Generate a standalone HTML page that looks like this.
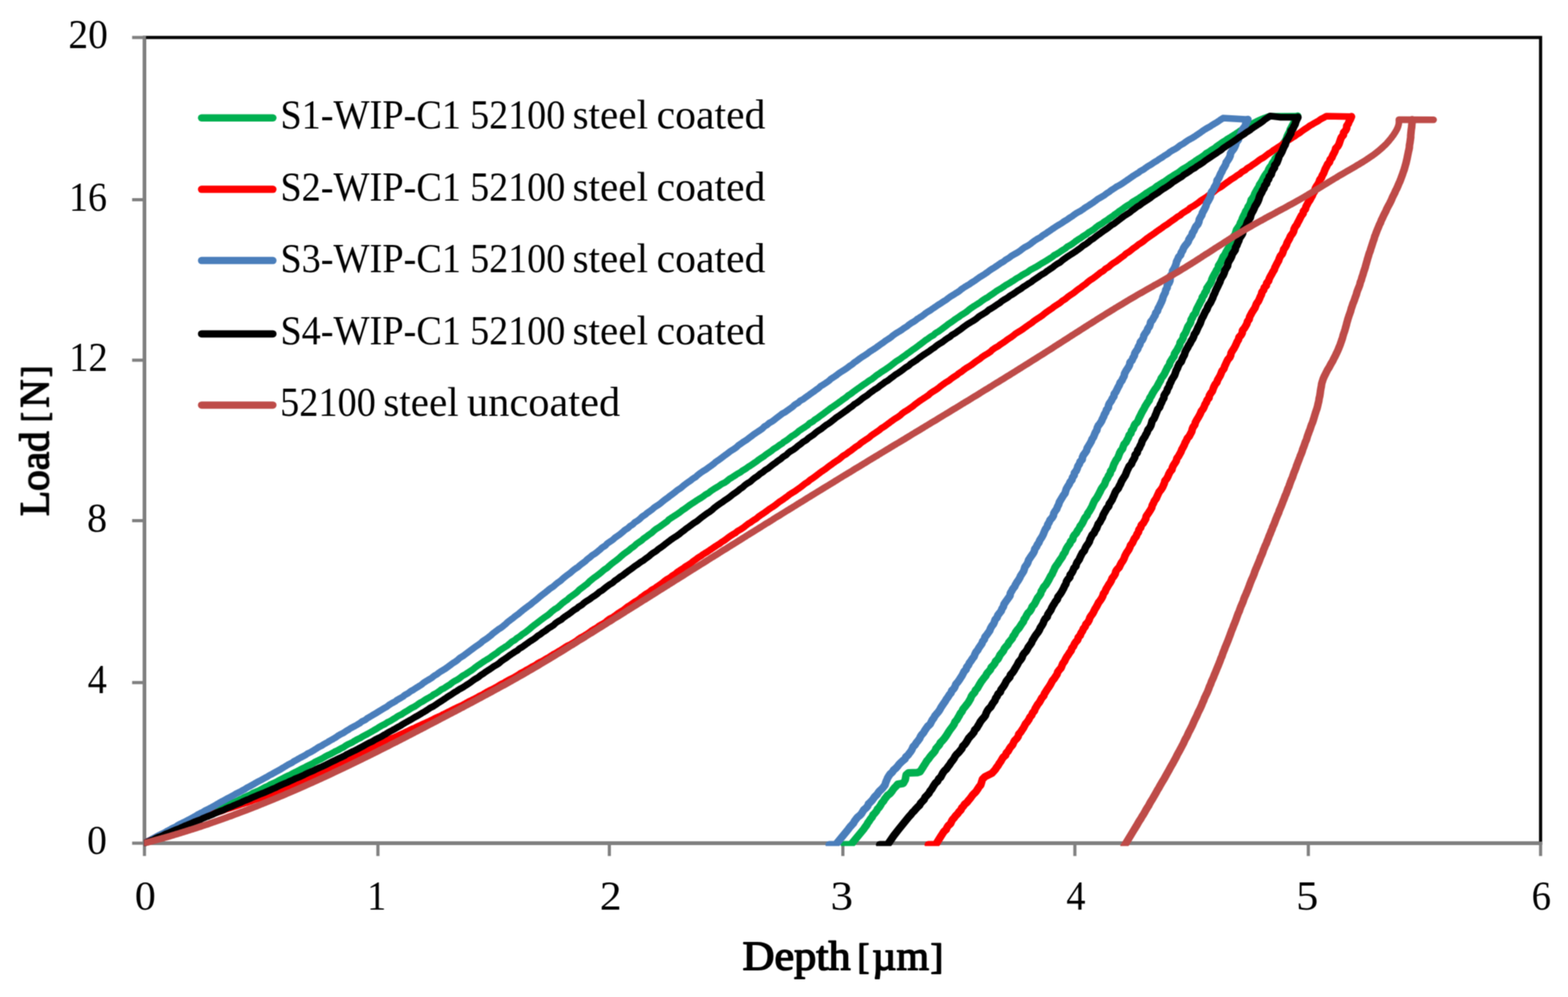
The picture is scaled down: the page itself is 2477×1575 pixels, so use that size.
<!DOCTYPE html>
<html lang="en"><head><meta charset="utf-8"><title>Load-depth curves</title>
<style>html,body{margin:0;padding:0;background:#fff}body{width:2477px;height:1575px;overflow:hidden}svg{display:block}text{font-family:"Liberation Serif","DejaVu Serif",serif;font-size:65px;fill:#000}.ti{stroke:#000;stroke-width:2.2px;stroke-linejoin:round}</style></head><body>
<svg width="2477" height="1575" viewBox="0 0 2477 1575">
<defs><clipPath id="pc"><rect x="227.5" y="40" width="2230" height="1296.5"/></clipPath>
<filter id="sf" x="0" y="0" width="2477" height="1575" filterUnits="userSpaceOnUse" color-interpolation-filters="sRGB"><feConvolveMatrix order="3" kernelMatrix="1 2 1 2 4 2 1 2 1" divisor="16" edgeMode="duplicate" preserveAlpha="false"/></filter>
</defs>
<rect x="0" y="0" width="2477" height="1575" fill="#ffffff"/>
<g filter="url(#sf)">
<rect x="228.2" y="59.2" width="2205.5" height="1272.8" fill="none" stroke="#000" stroke-width="5"/>
<g stroke="#808080" stroke-width="5" fill="none">
<line x1="228.2" y1="56.7" x2="228.2" y2="1352.3"/>
<line x1="208.7" y1="1332.0" x2="2436.2" y2="1332.0"/>
<line x1="597.0" y1="1332.0" x2="597.0" y2="1352.3"/>
<line x1="962.6" y1="1332.0" x2="962.6" y2="1352.3"/>
<line x1="1331.5" y1="1332.0" x2="1331.5" y2="1352.3"/>
<line x1="1698.0" y1="1332.0" x2="1698.0" y2="1352.3"/>
<line x1="2066.8" y1="1332.0" x2="2066.8" y2="1352.3"/>
<line x1="2433.7" y1="1332.0" x2="2433.7" y2="1352.3"/>
<line x1="208.7" y1="1078.3" x2="228.2" y2="1078.3"/>
<line x1="208.7" y1="822.5" x2="228.2" y2="822.5"/>
<line x1="208.7" y1="569.0" x2="228.2" y2="569.0"/>
<line x1="208.7" y1="315.5" x2="228.2" y2="315.5"/>
<line x1="208.7" y1="59.2" x2="228.2" y2="59.2"/>
</g>
<text x="213.0" y="1437" textLength="33.1" lengthAdjust="spacingAndGlyphs">0</text>
<text x="580.0" y="1437" textLength="30.1" lengthAdjust="spacingAndGlyphs">1</text>
<text x="947.5" y="1437" textLength="34.5" lengthAdjust="spacingAndGlyphs">2</text>
<text x="1312.1" y="1437" textLength="35.6" lengthAdjust="spacingAndGlyphs">3</text>
<text x="1684.4" y="1437" textLength="30.3" lengthAdjust="spacingAndGlyphs">4</text>
<text x="2047.6" y="1437" textLength="35.1" lengthAdjust="spacingAndGlyphs">5</text>
<text x="2419.4" y="1437" textLength="30.7" lengthAdjust="spacingAndGlyphs">6</text>
<text x="137.6" y="1349.0" textLength="31.4" lengthAdjust="spacingAndGlyphs">0</text>
<text x="138.4" y="1095.3" textLength="30.3" lengthAdjust="spacingAndGlyphs">4</text>
<text x="137.5" y="839.5" textLength="31.7" lengthAdjust="spacingAndGlyphs">8</text>
<text x="109.3" y="586.0" textLength="61.0" lengthAdjust="spacingAndGlyphs">12</text>
<text x="108.9" y="332.5" textLength="60.0" lengthAdjust="spacingAndGlyphs">16</text>
<text x="108.1" y="76.2" textLength="62.4" lengthAdjust="spacingAndGlyphs">20</text>
<text class="ti"><tspan x="1173.0" y="1532.2" textLength="170.8" lengthAdjust="spacingAndGlyphs">Depth</tspan> <tspan x="1354.4" y="1529.6" textLength="18.9" lengthAdjust="spacingAndGlyphs" font-size="56">[</tspan><tspan x="1378.1" y="1532.2" textLength="89.4" lengthAdjust="spacingAndGlyphs">µm</tspan><tspan x="1470.0" y="1529.6" textLength="20.1" lengthAdjust="spacingAndGlyphs" font-size="56">]</tspan></text>
<text class="ti" transform="translate(76.5,815.2) rotate(-90)"><tspan x="0.1" y="0.0" textLength="133.8" lengthAdjust="spacingAndGlyphs">Load</tspan> <tspan x="148.7" y="-2.6" textLength="15.2" lengthAdjust="spacingAndGlyphs" font-size="56">[</tspan><tspan x="171.3" y="0.0" textLength="44.4" lengthAdjust="spacingAndGlyphs">N</tspan><tspan x="219.6" y="-2.6" textLength="17.9" lengthAdjust="spacingAndGlyphs" font-size="56">]</tspan></text>
<g clip-path="url(#pc)" fill="none" stroke-width="10.5" stroke-linejoin="round" stroke-linecap="round">
<polyline stroke="#00B050" points="228.2,1332.0 229.1,1331.6 230.0,1331.2 231.0,1330.8 231.9,1330.4 232.9,1330.0 233.7,1329.6 234.5,1329.2 235.3,1328.8 236.1,1328.3 236.8,1327.9 237.7,1327.5 238.6,1327.1 239.6,1326.7 240.6,1326.3 241.6,1325.9 242.5,1325.5 243.4,1325.1 244.2,1324.7 245.1,1324.3 246.0,1323.9 246.9,1323.5 247.8,1323.1 248.7,1322.6 249.6,1322.2 250.5,1321.8 251.4,1321.4 252.4,1321.0 253.3,1320.6 254.2,1320.2 255.2,1319.8 256.1,1319.4 257.1,1319.0 258.0,1318.6 259.0,1318.2 260.0,1317.7 260.9,1317.3 261.8,1316.9 262.7,1316.5 263.7,1316.1 264.6,1315.7 265.5,1315.3 266.5,1314.9 267.4,1314.5 268.4,1314.1 269.3,1313.6 270.2,1313.2 271.1,1312.8 272.0,1312.4 272.9,1312.0 273.7,1311.6 274.7,1311.2 275.7,1310.8 276.7,1310.4 277.7,1309.9 278.7,1309.5 279.4,1309.1 280.2,1308.7 281.0,1308.3 281.8,1307.9 282.6,1307.5 283.7,1307.1 284.8,1306.6 285.9,1306.2 287.0,1305.8 288.0,1305.4 288.7,1305.0 289.4,1304.6 290.0,1304.2 290.7,1303.8 291.4,1303.3 292.5,1302.9 293.6,1302.5 294.7,1302.1 295.8,1301.7 296.9,1301.3 297.7,1300.9 298.5,1300.4 299.4,1300.0 300.2,1299.6 301.1,1299.2 302.0,1298.8 303.0,1298.4 303.9,1297.9 304.9,1297.5 305.8,1297.1 306.6,1296.7 307.4,1296.3 308.2,1295.9 309.0,1295.4 309.8,1295.0 310.7,1294.6 311.6,1294.2 312.5,1293.8 313.5,1293.4 314.4,1292.9 315.5,1292.5 316.6,1292.1 317.7,1291.7 318.7,1291.3 319.8,1290.9 320.7,1290.4 321.7,1290.0 322.7,1289.6 323.6,1289.2 324.5,1288.8 325.2,1288.3 326.0,1287.9 326.7,1287.5 327.4,1287.1 328.2,1286.7 329.2,1286.2 330.2,1285.8 331.2,1285.4 332.3,1285.0 333.3,1284.6 334.2,1284.1 335.2,1283.7 336.1,1283.3 337.1,1282.9 338.0,1282.5 339.0,1282.0 339.9,1281.6 340.8,1281.2 341.7,1280.8 342.5,1280.3 343.2,1279.9 343.9,1279.5 344.6,1279.1 345.2,1278.6 346.0,1278.2 346.9,1277.8 347.8,1277.4 348.7,1277.0 349.6,1276.5 350.5,1276.1 351.4,1275.7 352.4,1275.3 353.3,1274.8 354.2,1274.4 355.2,1274.0 356.3,1273.6 357.4,1273.1 358.5,1272.7 359.6,1272.3 360.6,1271.8 361.3,1271.4 362.0,1271.0 362.7,1270.6 363.4,1270.1 364.1,1269.7 365.1,1269.3 366.1,1268.9 367.1,1268.4 368.1,1268.0 369.1,1267.6 370.2,1267.1 371.3,1266.7 372.3,1266.3 373.4,1265.9 374.3,1265.4 375.1,1265.0 375.9,1264.6 376.7,1264.1 377.4,1263.7 378.3,1263.3 379.2,1262.9 380.2,1262.4 381.1,1262.0 382.1,1261.6 383.0,1261.1 383.8,1260.7 384.6,1260.3 385.4,1259.8 386.2,1259.4 387.0,1259.0 388.0,1258.5 389.1,1258.1 390.1,1257.7 391.1,1257.2 392.0,1256.8 393.0,1256.4 393.9,1255.9 394.9,1255.5 395.8,1255.1 396.6,1254.6 397.3,1254.2 398.0,1253.8 398.7,1253.3 399.3,1252.9 400.2,1252.5 401.3,1252.0 402.4,1251.6 403.5,1251.2 404.6,1250.7 405.7,1250.3 406.6,1249.8 407.6,1249.4 408.6,1249.0 409.5,1248.5 410.4,1248.1 411.3,1247.7 412.1,1247.2 412.9,1246.8 413.8,1246.3 414.6,1245.9 415.3,1245.5 416.1,1245.0 416.9,1244.6 417.6,1244.2 418.5,1243.7 419.6,1243.3 420.6,1242.8 421.6,1242.4 422.7,1242.0 423.6,1241.5 424.3,1241.1 425.0,1240.6 425.7,1240.2 426.4,1239.7 427.2,1239.3 428.2,1238.9 429.2,1238.4 430.2,1238.0 431.2,1237.5 432.2,1237.1 433.2,1236.7 434.3,1236.2 435.3,1235.8 436.3,1235.3 437.2,1234.9 437.9,1234.4 438.6,1234.0 439.4,1233.5 440.1,1233.1 440.9,1232.7 441.8,1232.2 442.7,1231.8 443.6,1231.3 444.5,1230.9 445.3,1230.4 446.2,1230.0 447.0,1229.5 447.9,1229.1 448.7,1228.6 449.6,1228.2 450.5,1227.7 451.3,1227.3 452.2,1226.8 453.0,1226.4 454.0,1225.9 455.1,1225.5 456.2,1225.0 457.3,1224.6 458.4,1224.1 459.2,1223.7 460.0,1223.2 460.8,1222.8 461.5,1222.3 462.3,1221.9 463.1,1221.4 464.0,1221.0 465.0,1220.5 465.9,1220.1 466.8,1219.6 467.7,1219.2 468.7,1218.7 469.6,1218.3 470.6,1217.8 471.5,1217.4 472.4,1216.9 473.1,1216.5 473.9,1216.0 474.7,1215.6 475.4,1215.1 476.4,1214.6 477.4,1214.2 478.4,1213.7 479.5,1213.3 480.5,1212.8 481.4,1212.4 482.2,1211.9 482.9,1211.4 483.7,1211.0 484.5,1210.5 485.4,1210.1 486.4,1209.6 487.4,1209.2 488.4,1208.7 489.4,1208.2 490.4,1207.8 491.3,1207.3 492.2,1206.9 493.2,1206.4 494.1,1205.9 494.9,1205.5 495.6,1205.0 496.3,1204.6 497.0,1204.1 497.7,1203.6 498.6,1203.2 499.6,1202.7 500.6,1202.3 501.6,1201.8 502.5,1201.3 503.5,1200.9 504.5,1200.4 505.4,1199.9 506.4,1199.5 507.4,1199.0 508.2,1198.5 509.0,1198.1 509.8,1197.6 510.6,1197.1 511.4,1196.7 512.2,1196.2 513.0,1195.8 513.8,1195.3 514.6,1194.8 515.4,1194.4 516.3,1193.9 517.3,1193.4 518.4,1192.9 519.4,1192.5 520.4,1192.0 521.3,1191.5 522.3,1191.1 523.2,1190.6 524.1,1190.1 525.0,1189.7 525.9,1189.2 526.7,1188.7 527.6,1188.3 528.4,1187.8 529.2,1187.3 530.2,1186.8 531.2,1186.4 532.2,1185.9 533.2,1185.4 534.2,1185.0 535.0,1184.5 535.8,1184.0 536.6,1183.5 537.4,1183.1 538.2,1182.6 539.1,1182.1 540.1,1181.6 541.0,1181.2 542.0,1180.7 543.0,1180.2 543.7,1179.7 544.3,1179.3 545.0,1178.8 545.7,1178.3 546.3,1177.8 547.2,1177.3 548.1,1176.9 548.9,1176.4 549.8,1175.9 550.7,1175.4 551.7,1175.0 552.8,1174.5 553.9,1174.0 554.9,1173.5 556.0,1173.0 556.8,1172.6 557.6,1172.1 558.3,1171.6 559.1,1171.1 559.8,1170.6 560.7,1170.1 561.5,1169.7 562.3,1169.2 563.1,1168.7 563.9,1168.2 565.0,1167.7 566.0,1167.3 567.1,1166.8 568.2,1166.3 569.3,1165.8 570.1,1165.3 570.8,1164.8 571.5,1164.3 572.2,1163.9 572.9,1163.4 573.9,1162.9 574.9,1162.4 575.8,1161.9 576.8,1161.4 577.8,1160.9 578.7,1160.4 579.6,1160.0 580.4,1159.5 581.3,1159.0 582.2,1158.5 583.1,1158.0 584.0,1157.5 584.9,1157.0 585.8,1156.5 586.7,1156.0 587.5,1155.5 588.3,1155.1 589.1,1154.6 589.9,1154.1 590.7,1153.6 591.6,1153.1 592.5,1152.6 593.4,1152.1 594.3,1151.6 595.2,1151.1 596.0,1150.6 596.8,1150.1 597.5,1149.6 598.3,1149.1 599.0,1148.6 599.9,1148.1 600.7,1147.6 601.6,1147.1 602.4,1146.6 603.3,1146.1 604.3,1145.6 605.3,1145.1 606.4,1144.6 607.4,1144.1 608.5,1143.6 609.2,1143.1 609.9,1142.6 610.7,1142.1 611.4,1141.6 612.1,1141.1 613.2,1140.6 614.2,1140.1 615.2,1139.6 616.2,1139.1 617.2,1138.6 618.0,1138.1 618.8,1137.6 619.6,1137.1 620.3,1136.6 621.1,1136.1 622.0,1135.6 622.8,1135.1 623.7,1134.6 624.5,1134.1 625.4,1133.6 626.1,1133.1 626.8,1132.6 627.5,1132.1 628.2,1131.6 629.0,1131.1 630.1,1130.5 631.2,1130.0 632.3,1129.5 633.4,1129.0 634.4,1128.5 635.2,1128.0 635.9,1127.5 636.6,1127.0 637.3,1126.5 638.1,1126.0 638.9,1125.4 639.8,1124.9 640.7,1124.4 641.6,1123.9 642.5,1123.4 643.3,1122.9 644.1,1122.4 645.0,1121.9 645.8,1121.3 646.6,1120.8 647.4,1120.3 648.2,1119.8 649.0,1119.3 649.8,1118.8 650.6,1118.2 651.7,1117.7 652.7,1117.2 653.8,1116.7 654.8,1116.2 655.8,1115.7 656.6,1115.1 657.3,1114.6 658.1,1114.1 658.9,1113.6 659.6,1113.1 660.3,1112.5 661.0,1112.0 661.7,1111.5 662.4,1111.0 663.1,1110.5 664.2,1109.9 665.2,1109.4 666.2,1108.9 667.2,1108.4 668.2,1107.8 669.0,1107.3 669.8,1106.8 670.5,1106.3 671.3,1105.8 672.1,1105.2 673.0,1104.7 673.9,1104.2 674.8,1103.6 675.7,1103.1 676.6,1102.6 677.6,1102.1 678.5,1101.5 679.5,1101.0 680.4,1100.5 681.3,1100.0 682.0,1099.4 682.7,1098.9 683.4,1098.4 684.1,1097.8 684.9,1097.3 685.9,1096.8 686.9,1096.2 687.9,1095.7 688.9,1095.2 689.9,1094.6 690.6,1094.1 691.4,1093.6 692.2,1093.0 692.9,1092.5 693.7,1092.0 694.3,1091.4 695.0,1090.9 695.7,1090.4 696.4,1089.8 697.2,1089.3 698.3,1088.8 699.4,1088.2 700.5,1087.7 701.6,1087.2 702.6,1086.6 703.3,1086.1 704.1,1085.5 704.9,1085.0 705.7,1084.5 706.5,1083.9 707.4,1083.4 708.3,1082.8 709.3,1082.3 710.2,1081.8 711.0,1081.2 711.6,1080.7 712.3,1080.1 712.9,1079.6 713.5,1079.1 714.1,1078.5 715.0,1078.0 715.8,1077.4 716.6,1076.9 717.5,1076.3 718.4,1075.8 719.4,1075.2 720.5,1074.7 721.5,1074.2 722.6,1073.6 723.6,1073.1 724.3,1072.5 725.1,1072.0 725.9,1071.4 726.7,1070.9 727.4,1070.3 728.0,1069.8 728.7,1069.2 729.4,1068.7 730.0,1068.1 730.8,1067.6 731.8,1067.0 732.9,1066.5 733.9,1065.9 734.9,1065.4 735.9,1064.8 736.7,1064.3 737.5,1063.7 738.4,1063.2 739.2,1062.6 740.1,1062.0 740.9,1061.5 741.8,1060.9 742.7,1060.4 743.6,1059.8 744.4,1059.3 745.2,1058.7 746.0,1058.2 746.7,1057.6 747.5,1057.0 748.2,1056.5 748.9,1055.9 749.6,1055.4 750.2,1054.8 750.9,1054.2 751.6,1053.7 752.4,1053.1 753.2,1052.6 754.0,1052.0 754.8,1051.4 755.6,1050.9 756.4,1050.3 757.3,1049.8 758.1,1049.2 758.9,1048.6 759.8,1048.1 760.6,1047.5 761.4,1046.9 762.2,1046.4 763.1,1045.8 763.9,1045.2 764.8,1044.7 765.7,1044.1 766.6,1043.5 767.5,1043.0 768.4,1042.4 769.4,1041.8 770.4,1041.3 771.4,1040.7 772.4,1040.1 773.2,1039.6 774.0,1039.0 774.7,1038.4 775.4,1037.9 776.2,1037.3 776.9,1036.7 777.8,1036.1 778.6,1035.6 779.4,1035.0 780.2,1034.4 781.1,1033.8 782.0,1033.3 782.9,1032.7 783.8,1032.1 784.7,1031.5 785.5,1031.0 786.1,1030.4 786.7,1029.8 787.3,1029.2 787.9,1028.7 788.7,1028.1 789.5,1027.5 790.4,1026.9 791.2,1026.4 792.1,1025.8 793.0,1025.2 793.9,1024.6 794.8,1024.0 795.7,1023.5 796.6,1022.9 797.5,1022.3 798.4,1021.7 799.3,1021.1 800.3,1020.6 801.2,1020.0 802.0,1019.4 802.7,1018.8 803.4,1018.2 804.1,1017.6 804.8,1017.0 805.4,1016.5 806.1,1015.9 806.8,1015.3 807.4,1014.7 808.1,1014.1 808.9,1013.5 810.0,1012.9 811.0,1012.4 812.0,1011.8 813.1,1011.2 813.9,1010.6 814.5,1010.0 815.2,1009.4 815.8,1008.8 816.5,1008.2 817.3,1007.6 818.3,1007.1 819.2,1006.5 820.2,1005.9 821.2,1005.3 822.0,1004.7 822.7,1004.1 823.3,1003.5 824.0,1002.9 824.7,1002.3 825.6,1001.7 826.5,1001.1 827.4,1000.5 828.4,999.9 829.3,999.3 830.1,998.7 830.9,998.1 831.7,997.5 832.4,996.9 833.2,996.3 834.0,995.7 834.7,995.1 835.5,994.5 836.2,993.9 836.9,993.3 837.7,992.7 838.3,992.1 839.0,991.5 839.7,990.9 840.4,990.3 841.1,989.7 841.9,989.1 842.7,988.5 843.4,987.9 844.2,987.3 845.0,986.7 845.8,986.1 846.7,985.5 847.5,984.9 848.3,984.3 849.1,983.7 849.8,983.1 850.6,982.5 851.4,981.9 852.2,981.2 853.0,980.6 853.8,980.0 854.6,979.4 855.4,978.8 856.2,978.2 857.0,977.6 857.8,977.0 858.7,976.4 859.5,975.8 860.3,975.1 861.2,974.5 862.1,973.9 863.1,973.3 864.0,972.7 864.9,972.1 865.7,971.5 866.5,970.8 867.2,970.2 867.9,969.6 868.7,969.0 869.4,968.4 870.0,967.8 870.6,967.1 871.3,966.5 871.9,965.9 872.7,965.3 873.5,964.7 874.3,964.1 875.1,963.4 875.9,962.8 876.8,962.2 877.9,961.6 878.9,961.0 880.0,960.4 881.0,959.7 881.7,959.1 882.4,958.5 883.1,957.9 883.8,957.2 884.4,956.6 885.1,956.0 885.8,955.4 886.5,954.8 887.2,954.1 887.8,953.5 888.6,952.9 889.4,952.3 890.2,951.7 891.0,951.0 891.8,950.4 892.7,949.8 893.6,949.2 894.5,948.5 895.5,947.9 896.4,947.3 897.1,946.7 897.7,946.0 898.3,945.4 898.9,944.8 899.6,944.2 900.4,943.5 901.3,942.9 902.2,942.3 903.1,941.7 904.0,941.0 904.9,940.4 905.7,939.8 906.6,939.2 907.5,938.5 908.4,937.9 909.2,937.3 909.9,936.7 910.7,936.0 911.4,935.4 912.2,934.8 912.8,934.2 913.4,933.5 914.0,932.9 914.6,932.3 915.2,931.6 916.0,931.0 916.9,930.4 917.7,929.8 918.6,929.1 919.4,928.5 920.3,927.9 921.1,927.3 921.9,926.6 922.7,926.0 923.5,925.4 924.4,924.7 925.2,924.1 926.0,923.5 926.9,922.9 927.7,922.2 928.3,921.6 928.9,921.0 929.5,920.4 930.1,919.7 930.7,919.1 931.4,918.5 932.1,917.8 932.9,917.2 933.6,916.6 934.4,916.0 935.2,915.3 935.9,914.7 936.7,914.1 937.5,913.4 938.3,912.8 939.2,912.2 940.1,911.6 941.0,910.9 941.9,910.3 942.8,909.7 943.6,909.0 944.4,908.4 945.2,907.8 946.0,907.2 946.9,906.5 947.6,905.9 948.4,905.3 949.2,904.7 949.9,904.0 950.7,903.4 951.4,902.8 952.1,902.1 952.8,901.5 953.5,900.9 954.2,900.3 955.2,899.6 956.2,899.0 957.1,898.4 958.1,897.8 959.1,897.1 959.7,896.5 960.4,895.9 961.1,895.3 961.7,894.6 962.4,894.0 963.1,893.4 963.9,892.8 964.6,892.1 965.3,891.5 966.0,890.9 966.9,890.2 967.7,889.6 968.5,889.0 969.3,888.4 970.2,887.7 971.0,887.1 971.9,886.5 972.7,885.9 973.5,885.3 974.4,884.6 975.1,884.0 975.9,883.4 976.6,882.8 977.4,882.1 978.2,881.5 978.8,880.9 979.5,880.3 980.2,879.6 980.8,879.0 981.5,878.4 982.2,877.8 983.0,877.2 983.7,876.5 984.4,875.9 985.2,875.3 986.0,874.7 986.9,874.1 987.8,873.4 988.6,872.8 989.5,872.2 990.4,871.6 991.2,871.0 992.1,870.3 992.9,869.7 993.8,869.1 994.4,868.5 995.1,867.9 995.8,867.2 996.4,866.6 997.2,866.0 998.1,865.4 999.0,864.8 1000.0,864.2 1000.9,863.5 1001.8,862.9 1002.4,862.3 1003.0,861.7 1003.6,861.1 1004.2,860.5 1004.8,859.9 1005.7,859.2 1006.5,858.6 1007.4,858.0 1008.2,857.4 1009.1,856.8 1010.0,856.2 1010.9,855.6 1011.9,854.9 1012.8,854.3 1013.7,853.7 1014.3,853.1 1015.0,852.5 1015.6,851.9 1016.2,851.3 1016.9,850.7 1017.8,850.1 1018.7,849.5 1019.6,848.8 1020.6,848.2 1021.4,847.6 1022.2,847.0 1023.0,846.4 1023.7,845.8 1024.5,845.2 1025.3,844.6 1026.2,844.0 1027.1,843.4 1028.0,842.8 1028.9,842.2 1029.8,841.6 1030.4,841.0 1031.0,840.4 1031.6,839.8 1032.2,839.2 1032.9,838.6 1033.6,838.0 1034.3,837.4 1035.1,836.8 1035.8,836.2 1036.6,835.6 1037.6,835.0 1038.6,834.4 1039.6,833.8 1040.6,833.2 1041.5,832.6 1042.4,832.0 1043.2,831.4 1044.0,830.8 1044.8,830.2 1045.6,829.6 1046.5,829.0 1047.3,828.4 1048.1,827.8 1049.0,827.2 1049.8,826.6 1050.6,826.0 1051.4,825.4 1052.3,824.8 1053.1,824.2 1053.8,823.7 1054.4,823.1 1054.9,822.5 1055.5,821.9 1056.0,821.3 1056.7,820.7 1057.5,820.1 1058.4,819.5 1059.3,819.0 1060.2,818.4 1061.0,817.8 1062.0,817.2 1062.9,816.6 1063.8,816.0 1064.7,815.4 1065.6,814.9 1066.5,814.3 1067.4,813.7 1068.4,813.1 1069.3,812.5 1070.1,812.0 1071.0,811.4 1071.8,810.8 1072.6,810.2 1073.4,809.7 1074.2,809.1 1074.9,808.5 1075.6,807.9 1076.3,807.4 1077.0,806.8 1077.8,806.2 1078.7,805.6 1079.6,805.1 1080.6,804.5 1081.5,803.9 1082.3,803.3 1083.1,802.8 1083.8,802.2 1084.6,801.6 1085.3,801.1 1086.1,800.5 1086.8,799.9 1087.6,799.4 1088.3,798.8 1089.1,798.2 1089.9,797.7 1090.7,797.1 1091.6,796.6 1092.5,796.0 1093.3,795.4 1094.2,794.9 1095.0,794.3 1095.9,793.8 1096.8,793.2 1097.6,792.6 1098.5,792.1 1099.3,791.5 1100.1,791.0 1100.9,790.4 1101.7,789.9 1102.6,789.3 1103.5,788.8 1104.5,788.2 1105.4,787.7 1106.4,787.1 1107.3,786.6 1108.1,786.0 1108.9,785.5 1109.8,784.9 1110.6,784.4 1111.4,783.8 1112.0,783.3 1112.7,782.7 1113.4,782.2 1114.1,781.6 1115.0,781.1 1116.0,780.5 1117.0,780.0 1118.0,779.5 1119.0,778.9 1119.8,778.4 1120.4,777.8 1121.0,777.3 1121.6,776.7 1122.2,776.2 1123.0,775.7 1123.8,775.1 1124.6,774.6 1125.4,774.0 1126.3,773.5 1127.1,773.0 1128.0,772.4 1128.8,771.9 1129.6,771.3 1130.5,770.8 1131.4,770.3 1132.3,769.7 1133.3,769.2 1134.2,768.6 1135.2,768.1 1136.0,767.6 1136.7,767.0 1137.4,766.5 1138.1,765.9 1138.8,765.4 1139.7,764.9 1140.8,764.3 1141.9,763.8 1143.0,763.2 1144.1,762.7 1145.1,762.2 1145.9,761.6 1146.7,761.1 1147.5,760.5 1148.3,760.0 1149.0,759.4 1149.6,758.9 1150.2,758.4 1150.8,757.8 1151.5,757.3 1152.2,756.7 1153.1,756.2 1154.0,755.6 1154.9,755.1 1155.8,754.6 1156.6,754.0 1157.5,753.5 1158.4,752.9 1159.3,752.4 1160.2,751.8 1161.0,751.3 1161.8,750.7 1162.6,750.2 1163.3,749.6 1164.1,749.1 1165.0,748.5 1166.1,748.0 1167.1,747.4 1168.1,746.9 1169.1,746.3 1170.0,745.8 1170.7,745.2 1171.4,744.7 1172.1,744.1 1172.8,743.6 1173.7,743.0 1174.7,742.5 1175.7,741.9 1176.7,741.3 1177.7,740.8 1178.5,740.2 1179.2,739.7 1179.9,739.1 1180.7,738.6 1181.4,738.0 1182.3,737.4 1183.2,736.9 1184.1,736.3 1185.0,735.8 1185.9,735.2 1186.8,734.6 1187.6,734.1 1188.4,733.5 1189.2,733.0 1190.0,732.4 1190.9,731.8 1191.7,731.3 1192.5,730.7 1193.4,730.1 1194.2,729.6 1195.0,729.0 1195.7,728.4 1196.4,727.9 1197.1,727.3 1197.8,726.7 1198.6,726.2 1199.4,725.6 1200.3,725.0 1201.1,724.5 1202.0,723.9 1202.8,723.3 1203.7,722.8 1204.6,722.2 1205.5,721.6 1206.4,721.1 1207.2,720.5 1207.8,719.9 1208.5,719.3 1209.2,718.8 1209.9,718.2 1210.7,717.6 1211.6,717.1 1212.4,716.5 1213.3,715.9 1214.2,715.3 1215.1,714.8 1215.9,714.2 1216.8,713.6 1217.6,713.0 1218.5,712.5 1219.2,711.9 1219.8,711.3 1220.5,710.7 1221.1,710.2 1221.8,709.6 1222.7,709.0 1223.7,708.4 1224.6,707.9 1225.6,707.3 1226.6,706.7 1227.4,706.1 1228.2,705.6 1229.0,705.0 1229.7,704.4 1230.5,703.8 1231.4,703.2 1232.3,702.7 1233.2,702.1 1234.2,701.5 1235.1,700.9 1235.8,700.4 1236.5,699.8 1237.1,699.2 1237.8,698.6 1238.5,698.0 1239.4,697.5 1240.4,696.9 1241.4,696.3 1242.4,695.7 1243.3,695.1 1244.1,694.5 1244.8,694.0 1245.5,693.4 1246.3,692.8 1247.0,692.2 1247.7,691.6 1248.4,691.1 1249.1,690.5 1249.8,689.9 1250.5,689.3 1251.5,688.7 1252.4,688.1 1253.4,687.6 1254.4,687.0 1255.4,686.4 1256.2,685.8 1256.9,685.2 1257.7,684.6 1258.5,684.0 1259.2,683.5 1259.9,682.9 1260.5,682.3 1261.2,681.7 1261.8,681.1 1262.5,680.5 1263.4,680.0 1264.3,679.4 1265.2,678.8 1266.1,678.2 1267.0,677.6 1267.9,677.0 1268.8,676.4 1269.7,675.9 1270.6,675.3 1271.5,674.7 1272.3,674.1 1273.2,673.5 1274.1,672.9 1275.0,672.3 1275.8,671.7 1276.4,671.2 1277.0,670.6 1277.5,670.0 1278.1,669.4 1278.6,668.8 1279.7,668.2 1280.8,667.6 1281.9,667.1 1282.9,666.5 1284.0,665.9 1284.7,665.3 1285.3,664.7 1286.0,664.1 1286.6,663.5 1287.2,662.9 1288.2,662.4 1289.2,661.8 1290.2,661.2 1291.1,660.6 1292.1,660.0 1292.8,659.4 1293.5,658.8 1294.2,658.2 1294.9,657.7 1295.7,657.1 1296.5,656.5 1297.4,655.9 1298.3,655.3 1299.1,654.7 1300.0,654.1 1300.8,653.5 1301.5,653.0 1302.2,652.4 1303.0,651.8 1303.7,651.2 1304.5,650.6 1305.4,650.0 1306.2,649.4 1307.0,648.8 1307.8,648.3 1308.5,647.7 1309.3,647.1 1310.0,646.5 1310.7,645.9 1311.4,645.3 1312.3,644.7 1313.2,644.1 1314.1,643.6 1315.0,643.0 1315.9,642.4 1316.7,641.8 1317.6,641.2 1318.4,640.6 1319.3,640.0 1320.1,639.5 1321.0,638.9 1321.8,638.3 1322.7,637.7 1323.5,637.1 1324.3,636.5 1325.1,635.9 1325.9,635.3 1326.7,634.8 1327.5,634.2 1328.3,633.6 1329.1,633.0 1329.9,632.4 1330.6,631.8 1331.4,631.3 1332.2,630.7 1333.1,630.1 1334.0,629.5 1334.8,628.9 1335.7,628.3 1336.5,627.7 1337.2,627.2 1337.8,626.6 1338.5,626.0 1339.2,625.4 1339.8,624.8 1340.8,624.2 1341.7,623.7 1342.6,623.1 1343.5,622.5 1344.4,621.9 1345.1,621.3 1345.9,620.8 1346.6,620.2 1347.4,619.6 1348.1,619.0 1348.9,618.4 1349.7,617.9 1350.5,617.3 1351.3,616.7 1352.1,616.1 1352.9,615.5 1353.8,614.9 1354.6,614.4 1355.4,613.8 1356.2,613.2 1357.1,612.6 1357.9,612.1 1358.7,611.5 1359.5,610.9 1360.3,610.3 1361.1,609.7 1361.9,609.2 1362.7,608.6 1363.5,608.0 1364.3,607.4 1365.2,606.8 1366.1,606.3 1367.0,605.7 1367.9,605.1 1368.8,604.5 1369.5,604.0 1370.3,603.4 1371.1,602.8 1371.8,602.2 1372.6,601.7 1373.6,601.1 1374.6,600.5 1375.5,599.9 1376.5,599.3 1377.4,598.8 1378.2,598.2 1378.9,597.6 1379.6,597.0 1380.4,596.5 1381.1,595.9 1381.8,595.3 1382.4,594.7 1383.1,594.2 1383.8,593.6 1384.5,593.0 1385.4,592.4 1386.3,591.9 1387.2,591.3 1388.1,590.7 1388.9,590.1 1389.7,589.6 1390.5,589.0 1391.3,588.4 1392.1,587.8 1392.9,587.2 1393.9,586.7 1394.8,586.1 1395.8,585.5 1396.7,584.9 1397.6,584.4 1398.5,583.8 1399.3,583.2 1400.2,582.6 1401.0,582.0 1401.8,581.5 1402.6,580.9 1403.5,580.3 1404.3,579.7 1405.1,579.2 1405.9,578.6 1406.7,578.0 1407.4,577.4 1408.2,576.8 1408.9,576.3 1409.6,575.7 1410.3,575.1 1411.1,574.5 1411.8,573.9 1412.5,573.4 1413.2,572.8 1414.0,572.2 1414.8,571.6 1415.6,571.0 1416.4,570.5 1417.3,569.9 1418.3,569.3 1419.3,568.7 1420.3,568.1 1421.2,567.6 1422.1,567.0 1422.9,566.4 1423.6,565.8 1424.3,565.2 1425.0,564.7 1425.8,564.1 1426.7,563.5 1427.6,562.9 1428.5,562.3 1429.4,561.7 1430.2,561.2 1430.9,560.6 1431.7,560.0 1432.4,559.4 1433.2,558.8 1434.0,558.2 1434.8,557.7 1435.7,557.1 1436.6,556.5 1437.4,555.9 1438.2,555.3 1439.0,554.8 1439.7,554.2 1440.5,553.6 1441.2,553.0 1442.0,552.4 1442.9,551.8 1443.8,551.3 1444.7,550.7 1445.6,550.1 1446.4,549.5 1447.2,548.9 1447.9,548.3 1448.7,547.7 1449.4,547.2 1450.2,546.6 1451.0,546.0 1451.8,545.4 1452.5,544.8 1453.3,544.2 1454.1,543.7 1454.9,543.1 1455.7,542.5 1456.4,541.9 1457.2,541.3 1458.0,540.7 1458.7,540.2 1459.5,539.6 1460.2,539.0 1460.9,538.4 1461.7,537.8 1462.6,537.2 1463.5,536.7 1464.4,536.1 1465.3,535.5 1466.2,534.9 1466.9,534.3 1467.6,533.7 1468.3,533.2 1469.1,532.6 1470.0,532.0 1471.0,531.4 1472.1,530.8 1473.2,530.3 1474.2,529.7 1475.1,529.1 1475.6,528.5 1476.2,527.9 1476.8,527.3 1477.4,526.8 1478.2,526.2 1479.2,525.6 1480.2,525.0 1481.2,524.4 1482.2,523.9 1483.1,523.3 1483.9,522.7 1484.7,522.1 1485.6,521.5 1486.4,520.9 1487.2,520.4 1488.0,519.8 1488.7,519.2 1489.5,518.6 1490.2,518.0 1491.0,517.5 1491.8,516.9 1492.6,516.3 1493.4,515.7 1494.1,515.1 1494.9,514.6 1495.6,514.0 1496.3,513.4 1497.0,512.8 1497.7,512.3 1498.5,511.7 1499.4,511.1 1500.3,510.5 1501.2,509.9 1502.1,509.4 1502.9,508.8 1503.7,508.2 1504.5,507.6 1505.3,507.1 1506.1,506.5 1506.9,505.9 1507.6,505.3 1508.4,504.8 1509.2,504.2 1510.0,503.6 1510.9,503.0 1511.8,502.5 1512.7,501.9 1513.6,501.3 1514.6,500.7 1515.4,500.2 1516.1,499.6 1516.8,499.0 1517.6,498.4 1518.3,497.9 1519.2,497.3 1520.2,496.7 1521.2,496.2 1522.2,495.6 1523.2,495.0 1524.1,494.4 1524.9,493.9 1525.7,493.3 1526.5,492.7 1527.3,492.2 1528.0,491.6 1528.7,491.0 1529.3,490.5 1530.0,489.9 1530.6,489.3 1531.3,488.7 1532.1,488.2 1532.9,487.6 1533.7,487.0 1534.5,486.5 1535.3,485.9 1536.2,485.4 1537.0,484.8 1537.8,484.2 1538.7,483.7 1539.6,483.1 1540.5,482.5 1541.4,482.0 1542.3,481.4 1543.2,480.8 1544.1,480.3 1545.0,479.7 1545.9,479.2 1546.8,478.6 1547.7,478.0 1548.4,477.5 1549.1,476.9 1549.8,476.3 1550.5,475.8 1551.2,475.2 1552.0,474.7 1552.8,474.1 1553.7,473.6 1554.5,473.0 1555.3,472.4 1556.3,471.9 1557.3,471.3 1558.3,470.8 1559.3,470.2 1560.3,469.7 1561.1,469.1 1561.8,468.6 1562.5,468.0 1563.2,467.4 1563.9,466.9 1564.8,466.3 1565.7,465.8 1566.6,465.2 1567.5,464.7 1568.3,464.1 1569.1,463.6 1569.8,463.0 1570.6,462.5 1571.3,461.9 1572.0,461.4 1572.8,460.9 1573.6,460.3 1574.4,459.8 1575.2,459.2 1576.0,458.7 1576.9,458.1 1577.9,457.6 1578.9,457.0 1579.8,456.5 1580.8,456.0 1581.6,455.4 1582.4,454.9 1583.3,454.3 1584.1,453.8 1584.9,453.3 1585.7,452.7 1586.5,452.2 1587.2,451.6 1588.0,451.1 1588.7,450.6 1589.7,450.0 1590.6,449.5 1591.6,449.0 1592.6,448.4 1593.6,447.9 1594.4,447.4 1595.2,446.8 1596.1,446.3 1596.9,445.8 1597.7,445.2 1598.6,444.7 1599.5,444.2 1600.3,443.6 1601.2,443.1 1602.1,442.6 1602.8,442.1 1603.5,441.5 1604.3,441.0 1605.0,440.5 1605.7,440.0 1606.7,439.4 1607.7,438.9 1608.7,438.4 1609.7,437.9 1610.7,437.3 1611.5,436.8 1612.2,436.3 1612.9,435.8 1613.6,435.3 1614.3,434.7 1615.2,434.2 1616.2,433.7 1617.1,433.2 1618.0,432.7 1619.0,432.1 1619.9,431.6 1620.8,431.1 1621.8,430.6 1622.7,430.1 1623.6,429.6 1624.3,429.0 1624.9,428.5 1625.6,428.0 1626.2,427.5 1626.9,427.0 1627.8,426.4 1628.7,425.9 1629.7,425.4 1630.6,424.9 1631.5,424.4 1632.5,423.9 1633.6,423.3 1634.6,422.8 1635.6,422.3 1636.6,421.8 1637.4,421.3 1638.3,420.7 1639.1,420.2 1640.0,419.7 1640.8,419.2 1641.6,418.7 1642.4,418.1 1643.1,417.6 1643.9,417.1 1644.7,416.6 1645.6,416.1 1646.5,415.5 1647.5,415.0 1648.4,414.5 1649.4,414.0 1650.3,413.4 1651.1,412.9 1652.0,412.4 1652.9,411.9 1653.8,411.3 1654.6,410.8 1655.4,410.3 1656.2,409.7 1657.0,409.2 1657.8,408.7 1658.7,408.2 1659.5,407.6 1660.4,407.1 1661.2,406.6 1662.1,406.0 1662.7,405.5 1663.4,405.0 1664.0,404.4 1664.6,403.9 1665.3,403.3 1666.3,402.8 1667.3,402.3 1668.3,401.7 1669.3,401.2 1670.2,400.6 1671.1,400.1 1672.0,399.6 1672.8,399.0 1673.7,398.5 1674.5,397.9 1675.3,397.4 1676.1,396.8 1676.9,396.3 1677.8,395.7 1678.6,395.2 1679.5,394.7 1680.4,394.1 1681.2,393.6 1682.1,393.0 1683.0,392.5 1683.6,391.9 1684.2,391.4 1684.9,390.8 1685.5,390.2 1686.1,389.7 1687.2,389.1 1688.2,388.6 1689.3,388.0 1690.3,387.5 1691.3,386.9 1692.1,386.4 1692.9,385.8 1693.8,385.3 1694.6,384.7 1695.4,384.1 1696.1,383.6 1696.8,383.0 1697.5,382.5 1698.2,381.9 1698.9,381.3 1699.7,380.8 1700.6,380.2 1701.4,379.7 1702.2,379.1 1703.0,378.5 1704.0,378.0 1704.9,377.4 1705.8,376.9 1706.8,376.3 1707.7,375.7 1708.4,375.2 1709.2,374.6 1709.9,374.0 1710.7,373.5 1711.4,372.9 1712.4,372.3 1713.3,371.8 1714.3,371.2 1715.2,370.6 1716.2,370.1 1716.9,369.5 1717.6,368.9 1718.3,368.4 1719.1,367.8 1719.8,367.2 1720.7,366.7 1721.7,366.1 1722.6,365.5 1723.5,365.0 1724.4,364.4 1725.3,363.8 1726.2,363.3 1727.1,362.7 1727.9,362.1 1728.8,361.6 1729.4,361.0 1730.0,360.4 1730.6,359.9 1731.3,359.3 1731.9,358.7 1732.7,358.1 1733.5,357.6 1734.3,357.0 1735.0,356.4 1735.9,355.9 1736.9,355.3 1738.0,354.7 1739.0,354.2 1740.0,353.6 1741.0,353.0 1741.7,352.4 1742.4,351.9 1743.1,351.3 1743.9,350.7 1744.6,350.2 1745.6,349.6 1746.5,349.0 1747.5,348.5 1748.4,347.9 1749.3,347.3 1750.0,346.7 1750.7,346.2 1751.5,345.6 1752.2,345.0 1753.0,344.5 1753.9,343.9 1754.8,343.3 1755.8,342.8 1756.7,342.2 1757.5,341.6 1758.2,341.0 1758.9,340.5 1759.6,339.9 1760.3,339.3 1761.1,338.8 1761.9,338.2 1762.7,337.6 1763.5,337.1 1764.3,336.5 1765.1,335.9 1765.8,335.4 1766.5,334.8 1767.2,334.2 1768.0,333.7 1768.7,333.1 1769.6,332.5 1770.5,332.0 1771.4,331.4 1772.3,330.8 1773.1,330.3 1773.8,329.7 1774.6,329.1 1775.3,328.6 1776.0,328.0 1776.8,327.4 1777.7,326.9 1778.5,326.3 1779.4,325.7 1780.3,325.2 1781.2,324.6 1782.2,324.0 1783.2,323.5 1784.2,322.9 1785.1,322.4 1786.0,321.8 1786.6,321.2 1787.2,320.7 1787.9,320.1 1788.5,319.5 1789.3,319.0 1790.2,318.4 1791.1,317.9 1792.0,317.3 1792.9,316.8 1793.9,316.2 1794.9,315.6 1795.8,315.1 1796.8,314.5 1797.8,314.0 1798.7,313.4 1799.4,312.9 1800.2,312.3 1801.0,311.8 1801.8,311.2 1802.6,310.6 1803.4,310.1 1804.3,309.5 1805.1,309.0 1805.9,308.4 1806.7,307.9 1807.4,307.3 1808.1,306.8 1808.8,306.2 1809.5,305.7 1810.3,305.1 1811.2,304.6 1812.1,304.0 1813.0,303.5 1813.9,303.0 1814.8,302.4 1815.7,301.9 1816.6,301.3 1817.4,300.8 1818.3,300.2 1819.2,299.7 1820.2,299.1 1821.1,298.6 1822.1,298.0 1823.0,297.5 1823.8,296.9 1824.5,296.4 1825.1,295.9 1825.7,295.3 1826.3,294.8 1827.0,294.2 1827.9,293.7 1828.7,293.1 1829.6,292.6 1830.4,292.1 1831.3,291.5 1832.1,291.0 1833.0,290.4 1833.8,289.9 1834.7,289.3 1835.6,288.8 1836.6,288.2 1837.5,287.7 1838.5,287.2 1839.5,286.6 1840.3,286.1 1841.1,285.5 1841.9,285.0 1842.6,284.4 1843.4,283.9 1844.1,283.3 1844.8,282.8 1845.6,282.3 1846.3,281.7 1847.0,281.2 1847.9,280.6 1848.8,280.1 1849.8,279.5 1850.8,279.0 1851.7,278.4 1852.6,277.9 1853.3,277.3 1854.1,276.8 1854.8,276.2 1855.6,275.7 1856.5,275.1 1857.5,274.6 1858.5,274.0 1859.5,273.5 1860.5,272.9 1861.3,272.4 1862.0,271.8 1862.7,271.3 1863.4,270.7 1864.1,270.2 1864.8,269.6 1865.6,269.1 1866.3,268.5 1867.1,268.0 1867.8,267.4 1868.7,266.9 1869.7,266.3 1870.7,265.8 1871.7,265.2 1872.7,264.6 1873.6,264.1 1874.5,263.5 1875.4,263.0 1876.3,262.4 1877.2,261.9 1878.0,261.3 1878.7,260.7 1879.4,260.2 1880.1,259.6 1880.8,259.1 1881.7,258.5 1882.6,258.0 1883.5,257.4 1884.5,256.8 1885.4,256.3 1886.2,255.7 1887.0,255.2 1887.7,254.6 1888.5,254.0 1889.3,253.5 1890.1,252.9 1890.9,252.4 1891.8,251.8 1892.6,251.2 1893.4,250.7 1894.3,250.1 1895.3,249.6 1896.2,249.0 1897.2,248.4 1898.1,247.9 1899.0,247.3 1899.7,246.7 1900.5,246.2 1901.3,245.6 1902.1,245.1 1902.7,244.5 1903.4,243.9 1904.0,243.4 1904.6,242.8 1905.2,242.2 1906.1,241.7 1907.1,241.1 1908.1,240.6 1909.1,240.0 1910.2,239.4 1911.0,238.9 1911.7,238.3 1912.5,237.8 1913.3,237.2 1914.0,236.6 1914.9,236.1 1915.9,235.5 1916.9,234.9 1917.8,234.4 1918.8,233.8 1919.5,233.3 1920.1,232.7 1920.7,232.1 1921.4,231.6 1922.0,231.0 1922.8,230.4 1923.6,229.9 1924.5,229.3 1925.3,228.8 1926.1,228.2 1926.9,227.6 1927.7,227.1 1928.5,226.5 1929.3,226.0 1930.0,225.4 1930.9,224.8 1931.9,224.3 1932.8,223.7 1933.7,223.2 1934.6,222.6 1935.4,222.1 1936.2,221.5 1936.9,220.9 1937.6,220.4 1938.4,219.8 1939.3,219.3 1940.3,218.7 1941.3,218.2 1942.3,217.6 1943.2,217.0 1944.1,216.5 1945.0,215.9 1945.9,215.4 1946.8,214.8 1947.7,214.3 1948.5,213.7 1949.3,213.2 1950.1,212.7 1950.9,212.1 1951.7,211.6 1952.6,211.0 1953.4,210.5 1954.3,209.9 1955.2,209.4 1956.0,208.9 1956.8,208.3 1957.5,207.8 1958.2,207.3 1959.0,206.8 1959.7,206.2 1960.7,205.7 1961.6,205.2 1962.6,204.7 1963.6,204.1 1964.6,203.6 1965.4,203.1 1966.2,202.6 1966.9,202.1 1967.6,201.6 1968.4,201.1 1969.3,200.6 1970.3,200.1 1971.3,199.6 1972.3,199.1 1973.3,198.6 1974.1,198.1 1974.9,197.7 1975.7,197.2 1976.6,196.7 1977.4,196.2 1978.1,195.7 1978.9,195.3 1979.6,194.8 1980.4,194.4 1981.2,193.9 1982.0,193.4 1982.9,193.0 1983.8,192.6 1984.6,192.1 1985.5,191.7 1986.4,191.2 1987.3,190.8 1988.2,190.4 1989.1,190.0 1990.0,189.5 1990.9,189.1 1991.8,188.7 1992.7,188.3 1993.7,187.9 1994.7,187.5 1995.8,187.1 1996.8,186.7 1997.8,186.4 1998.8,186.0 1999.8,185.6 2000.7,185.2 2001.6,184.9 2002.6,184.5 2003.5,184.2 2004.5,183.8 2050.0,183.6"/>
<polyline stroke="#00B050" stroke-width="12" points="2050.0,183.6 2049.5,184.5 2048.9,185.3 2048.3,186.2 2047.6,187.0 2047.2,187.9 2046.7,188.8 2046.4,189.6 2046.0,190.5 2045.5,191.4 2045.0,192.3 2044.5,193.1 2043.9,194.0 2043.5,194.9 2043.0,195.8 2042.6,196.7 2042.1,197.6 2041.6,198.5 2041.1,199.4 2040.6,200.3 2040.2,201.2 2039.7,202.1 2039.2,203.0 2038.7,203.9 2038.2,204.8 2038.0,205.7 2037.8,206.6 2037.5,207.5 2037.3,208.4 2036.7,209.3 2036.1,210.2 2035.6,211.1 2035.0,212.1 2034.6,213.0 2034.2,213.9 2033.7,214.8 2033.3,215.7 2033.1,216.6 2032.8,217.5 2032.5,218.4 2032.2,219.3 2031.8,220.2 2031.3,221.1 2030.8,222.0 2030.3,222.9 2029.7,223.8 2029.1,224.7 2028.5,225.6 2027.9,226.5 2027.6,227.4 2027.3,228.3 2027.0,229.2 2026.7,230.1 2026.1,231.0 2025.5,231.8 2024.9,232.7 2024.3,233.6 2024.1,234.5 2023.9,235.4 2023.7,236.3 2023.5,237.1 2023.0,238.0 2022.5,238.9 2022.1,239.8 2021.6,240.6 2020.9,241.5 2020.3,242.4 2019.6,243.2 2019.0,244.1 2018.7,245.0 2018.4,245.8 2018.0,246.7 2017.6,247.6 2016.7,248.4 2015.9,249.3 2015.0,250.2 2014.3,251.0 2014.0,251.9 2013.7,252.8 2013.3,253.6 2012.9,254.5 2012.2,255.3 2011.5,256.2 2010.8,257.0 2010.2,257.9 2009.8,258.8 2009.5,259.6 2009.1,260.5 2008.7,261.3 2008.0,262.2 2007.3,263.0 2006.6,263.9 2006.0,264.7 2005.5,265.6 2005.0,266.5 2004.5,267.3 2004.1,268.2 2003.7,269.0 2003.4,269.9 2003.1,270.7 2002.7,271.6 2002.0,272.4 2001.3,273.3 2000.6,274.1 2000.0,275.0 1999.4,275.8 1998.8,276.7 1998.2,277.5 1997.7,278.4 1997.2,279.3 1996.8,280.1 1996.3,281.0 1995.8,281.8 1995.4,282.7 1994.9,283.5 1994.5,284.4 1994.0,285.3 1993.6,286.1 1993.1,287.0 1992.6,287.8 1992.1,288.7 1991.5,289.6 1990.9,290.4 1990.2,291.3 1989.7,292.1 1989.4,293.0 1989.1,293.9 1988.8,294.7 1988.4,295.6 1987.8,296.5 1987.3,297.3 1986.7,298.2 1986.2,299.1 1985.7,300.0 1985.2,300.8 1984.8,301.7 1984.2,302.6 1983.7,303.5 1983.2,304.3 1982.7,305.2 1982.2,306.1 1981.9,307.0 1981.7,307.9 1981.4,308.7 1980.9,309.6 1980.4,310.5 1979.8,311.4 1979.3,312.3 1978.7,313.2 1978.0,314.1 1977.4,314.9 1976.7,315.8 1976.3,316.7 1976.1,317.6 1975.9,318.5 1975.7,319.4 1975.4,320.3 1975.0,321.2 1974.7,322.1 1974.4,323.0 1973.9,323.9 1973.2,324.8 1972.6,325.7 1971.9,326.5 1971.5,327.4 1971.2,328.3 1970.9,329.2 1970.7,330.1 1970.2,331.0 1969.5,331.9 1968.8,332.8 1968.1,333.7 1967.6,334.6 1967.3,335.5 1967.0,336.4 1966.6,337.3 1966.2,338.2 1965.7,339.1 1965.2,340.0 1964.7,340.9 1964.3,341.8 1963.8,342.7 1963.4,343.6 1963.0,344.5 1962.6,345.4 1962.3,346.3 1962.1,347.2 1961.8,348.1 1961.3,349.1 1960.8,350.0 1960.3,350.9 1959.7,351.8 1959.4,352.7 1959.1,353.6 1958.9,354.5 1958.6,355.4 1958.1,356.3 1957.5,357.2 1956.9,358.1 1956.3,359.0 1955.6,359.9 1955.0,360.8 1954.4,361.7 1953.7,362.6 1953.3,363.5 1953.0,364.4 1952.7,365.3 1952.4,366.2 1952.1,367.1 1951.9,368.0 1951.7,368.9 1951.5,369.8 1950.9,370.7 1950.3,371.6 1949.6,372.4 1949.0,373.3 1948.4,374.2 1947.8,375.1 1947.1,376.0 1946.5,376.9 1946.1,377.8 1945.8,378.7 1945.4,379.6 1945.1,380.5 1944.6,381.4 1944.1,382.3 1943.5,383.2 1943.0,384.1 1942.9,385.0 1942.8,385.9 1942.8,386.8 1942.8,387.7 1942.4,388.6 1942.0,389.5 1941.5,390.4 1941.0,391.2 1940.5,392.1 1940.0,393.0 1939.5,393.9 1938.9,394.8 1938.4,395.7 1937.9,396.6 1937.3,397.5 1936.8,398.4 1936.4,399.3 1936.0,400.2 1935.6,401.1 1935.2,402.0 1934.6,402.8 1933.8,403.7 1933.1,404.6 1932.4,405.5 1931.9,406.4 1931.6,407.3 1931.2,408.2 1930.8,409.1 1930.4,410.0 1930.0,410.9 1929.7,411.8 1929.3,412.7 1928.8,413.5 1928.3,414.4 1927.8,415.3 1927.2,416.2 1926.7,417.1 1926.1,418.0 1925.5,418.9 1924.9,419.8 1924.8,420.7 1924.7,421.6 1924.7,422.4 1924.7,423.3 1924.0,424.2 1923.3,425.1 1922.6,426.0 1921.9,426.9 1921.5,427.8 1921.1,428.7 1920.6,429.6 1920.2,430.5 1919.7,431.3 1919.1,432.2 1918.6,433.1 1918.0,434.0 1917.6,434.9 1917.1,435.8 1916.6,436.7 1916.1,437.6 1915.7,438.5 1915.3,439.4 1914.9,440.2 1914.5,441.1 1914.2,442.0 1914.0,442.9 1913.7,443.8 1913.5,444.7 1913.0,445.6 1912.5,446.5 1912.0,447.4 1911.5,448.3 1910.9,449.1 1910.2,450.0 1909.6,450.9 1909.0,451.8 1908.4,452.7 1907.8,453.6 1907.1,454.5 1906.5,455.4 1906.4,456.3 1906.3,457.2 1906.2,458.0 1906.1,458.9 1905.4,459.8 1904.7,460.7 1904.0,461.6 1903.4,462.5 1903.0,463.4 1902.7,464.3 1902.4,465.2 1902.1,466.1 1901.4,467.0 1900.7,467.8 1900.0,468.7 1899.3,469.6 1899.1,470.5 1899.0,471.4 1898.8,472.3 1898.6,473.2 1898.0,474.1 1897.4,475.0 1896.9,475.9 1896.3,476.8 1895.9,477.7 1895.5,478.6 1895.1,479.5 1894.7,480.3 1894.2,481.2 1893.7,482.1 1893.2,483.0 1892.8,483.9 1892.3,484.8 1891.8,485.7 1891.3,486.6 1890.9,487.5 1890.5,488.4 1890.2,489.3 1889.8,490.2 1889.5,491.1 1889.2,492.0 1889.0,492.9 1888.7,493.8 1888.3,494.7 1887.5,495.6 1886.7,496.5 1885.8,497.4 1885.1,498.2 1884.8,499.1 1884.4,500.0 1884.1,500.9 1883.7,501.8 1883.1,502.7 1882.5,503.6 1882.0,504.5 1881.5,505.4 1881.4,506.3 1881.3,507.2 1881.1,508.1 1880.9,509.0 1880.5,509.9 1880.0,510.8 1879.5,511.7 1879.0,512.6 1878.3,513.5 1877.7,514.4 1877.1,515.3 1876.5,516.2 1876.2,517.1 1875.8,518.0 1875.5,518.9 1875.1,519.8 1874.8,520.7 1874.5,521.6 1874.1,522.5 1873.8,523.4 1873.3,524.3 1872.9,525.2 1872.5,526.1 1872.0,527.0 1871.3,527.9 1870.7,528.8 1870.0,529.7 1869.5,530.6 1869.4,531.5 1869.3,532.4 1869.2,533.3 1868.9,534.2 1868.4,535.1 1867.9,536.0 1867.5,536.9 1866.9,537.8 1866.2,538.7 1865.4,539.6 1864.7,540.5 1864.2,541.4 1864.1,542.3 1863.9,543.2 1863.8,544.1 1863.6,545.0 1863.1,545.9 1862.6,546.8 1862.1,547.7 1861.6,548.6 1861.2,549.4 1860.7,550.3 1860.3,551.2 1859.8,552.1 1859.3,553.0 1858.7,553.9 1858.1,554.8 1857.5,555.7 1856.9,556.6 1856.3,557.5 1855.7,558.4 1855.3,559.3 1855.2,560.1 1855.0,561.0 1854.9,561.9 1854.6,562.8 1853.9,563.7 1853.3,564.6 1852.7,565.5 1852.1,566.4 1851.5,567.2 1851.0,568.1 1850.4,569.0 1849.8,569.9 1849.3,570.8 1848.8,571.7 1848.3,572.5 1848.0,573.4 1847.8,574.3 1847.6,575.2 1847.4,576.1 1847.0,576.9 1846.3,577.8 1845.6,578.7 1844.9,579.6 1844.3,580.5 1843.9,581.3 1843.5,582.2 1843.1,583.1 1842.6,584.0 1842.2,584.9 1841.7,585.7 1841.3,586.6 1840.9,587.5 1840.5,588.4 1840.1,589.2 1839.7,590.1 1839.2,591.0 1838.6,591.9 1838.1,592.7 1837.5,593.6 1836.8,594.5 1836.2,595.4 1835.5,596.2 1834.8,597.1 1834.3,598.0 1834.0,598.8 1833.7,599.7 1833.4,600.6 1833.0,601.5 1832.4,602.3 1831.9,603.2 1831.4,604.1 1830.9,605.0 1830.4,605.8 1829.9,606.7 1829.5,607.6 1829.0,608.4 1828.6,609.3 1828.2,610.2 1827.7,611.0 1827.2,611.9 1826.5,612.8 1825.8,613.7 1825.1,614.5 1824.5,615.4 1823.9,616.3 1823.4,617.1 1822.9,618.0 1822.4,618.9 1821.8,619.7 1821.3,620.6 1820.8,621.5 1820.3,622.3 1819.9,623.2 1819.5,624.1 1819.1,624.9 1818.5,625.8 1817.9,626.7 1817.3,627.6 1816.7,628.4 1816.3,629.3 1816.1,630.2 1815.9,631.0 1815.7,631.9 1815.1,632.8 1814.5,633.6 1813.8,634.5 1813.2,635.4 1812.6,636.2 1812.1,637.1 1811.5,638.0 1811.0,638.8 1810.4,639.7 1809.9,640.6 1809.4,641.4 1808.8,642.3 1808.4,643.2 1808.0,644.1 1807.6,644.9 1807.2,645.8 1806.7,646.7 1806.1,647.5 1805.6,648.4 1805.1,649.3 1804.6,650.1 1804.1,651.0 1803.7,651.9 1803.2,652.7 1802.8,653.6 1802.4,654.5 1802.0,655.4 1801.6,656.2 1801.1,657.1 1800.7,658.0 1800.2,658.8 1799.7,659.7 1799.4,660.6 1799.0,661.4 1798.6,662.3 1798.3,663.2 1797.9,664.1 1797.5,664.9 1797.0,665.8 1796.6,666.7 1795.8,667.6 1794.9,668.4 1793.9,669.3 1793.0,670.2 1792.6,671.0 1792.1,671.9 1791.7,672.8 1791.3,673.7 1791.0,674.5 1790.7,675.4 1790.4,676.3 1790.1,677.2 1789.5,678.0 1788.8,678.9 1788.1,679.8 1787.4,680.7 1787.2,681.6 1787.0,682.4 1786.8,683.3 1786.7,684.2 1786.0,685.1 1785.2,685.9 1784.4,686.8 1783.7,687.7 1783.4,688.6 1783.1,689.5 1782.9,690.3 1782.7,691.2 1782.2,692.1 1781.7,693.0 1781.1,693.9 1780.6,694.8 1780.2,695.6 1779.8,696.5 1779.4,697.4 1779.0,698.3 1778.2,699.2 1777.4,700.1 1776.6,700.9 1775.8,701.8 1775.4,702.7 1775.0,703.6 1774.7,704.5 1774.3,705.4 1774.0,706.3 1773.8,707.2 1773.6,708.0 1773.3,708.9 1772.6,709.8 1771.8,710.7 1771.1,711.6 1770.4,712.5 1769.9,713.4 1769.4,714.3 1768.9,715.2 1768.5,716.1 1768.2,717.0 1767.9,717.8 1767.6,718.7 1767.2,719.6 1766.9,720.5 1766.6,721.4 1766.2,722.3 1765.8,723.2 1765.2,724.1 1764.5,725.0 1763.8,725.9 1763.1,726.8 1762.6,727.7 1762.2,728.6 1761.8,729.5 1761.3,730.4 1760.9,731.2 1760.4,732.1 1759.9,733.0 1759.5,733.9 1759.2,734.8 1758.9,735.7 1758.6,736.6 1758.3,737.5 1758.0,738.4 1757.7,739.3 1757.3,740.2 1757.0,741.1 1756.3,742.0 1755.6,742.9 1755.0,743.7 1754.4,744.6 1754.2,745.5 1754.1,746.4 1753.9,747.3 1753.7,748.2 1753.0,749.1 1752.4,750.0 1751.7,750.9 1751.1,751.8 1750.7,752.6 1750.4,753.5 1750.0,754.4 1749.6,755.3 1749.0,756.2 1748.3,757.1 1747.7,758.0 1747.2,758.9 1746.9,759.7 1746.5,760.6 1746.2,761.5 1745.9,762.4 1745.6,763.3 1745.3,764.2 1744.9,765.0 1744.5,765.9 1743.8,766.8 1743.1,767.7 1742.4,768.6 1741.8,769.4 1741.2,770.3 1740.6,771.2 1740.0,772.1 1739.5,773.0 1739.1,773.8 1738.7,774.7 1738.3,775.6 1737.9,776.5 1737.4,777.3 1737.0,778.2 1736.5,779.1 1736.0,780.0 1735.6,780.8 1735.1,781.7 1734.6,782.6 1734.2,783.5 1733.7,784.3 1733.2,785.2 1732.7,786.1 1732.2,787.0 1731.5,787.8 1730.8,788.7 1730.1,789.6 1729.4,790.4 1729.0,791.3 1728.6,792.2 1728.1,793.1 1727.7,793.9 1727.3,794.8 1727.0,795.7 1726.6,796.5 1726.2,797.4 1725.8,798.3 1725.5,799.1 1725.1,800.0 1724.7,800.9 1724.2,801.7 1723.7,802.6 1723.3,803.5 1722.8,804.3 1722.3,805.2 1721.8,806.1 1721.3,806.9 1720.7,807.8 1720.1,808.6 1719.5,809.5 1718.8,810.4 1718.3,811.2 1718.0,812.1 1717.7,813.0 1717.4,813.8 1716.9,814.7 1716.1,815.6 1715.4,816.4 1714.6,817.3 1713.9,818.1 1713.5,819.0 1713.0,819.9 1712.6,820.7 1712.2,821.6 1711.8,822.4 1711.4,823.3 1711.0,824.2 1710.6,825.0 1710.1,825.9 1709.7,826.7 1709.2,827.6 1708.6,828.5 1707.9,829.3 1707.2,830.2 1706.5,831.0 1706.0,831.9 1705.7,832.8 1705.3,833.6 1705.0,834.5 1704.5,835.3 1703.8,836.2 1703.1,837.1 1702.4,837.9 1701.9,838.8 1701.5,839.6 1701.1,840.5 1700.7,841.3 1700.1,842.2 1699.3,843.1 1698.4,843.9 1697.6,844.8 1696.9,845.6 1696.4,846.5 1695.9,847.4 1695.4,848.2 1695.1,849.1 1695.0,849.9 1694.9,850.8 1694.8,851.6 1694.3,852.5 1693.4,853.4 1692.5,854.2 1691.6,855.1 1691.1,855.9 1690.8,856.8 1690.5,857.6 1690.3,858.5 1689.8,859.4 1689.1,860.2 1688.4,861.1 1687.7,861.9 1687.1,862.8 1686.5,863.6 1686.0,864.5 1685.4,865.4 1685.0,866.2 1684.5,867.1 1684.1,867.9 1683.7,868.8 1683.3,869.6 1683.1,870.5 1682.8,871.4 1682.5,872.2 1682.0,873.1 1681.3,873.9 1680.6,874.8 1680.0,875.7 1679.5,876.5 1679.1,877.4 1678.8,878.2 1678.4,879.1 1677.9,879.9 1677.3,880.8 1676.7,881.7 1676.1,882.5 1675.5,883.4 1674.9,884.2 1674.3,885.1 1673.7,886.0 1673.1,886.8 1672.6,887.7 1672.1,888.5 1671.6,889.4 1671.0,890.3 1670.4,891.1 1669.7,892.0 1669.1,892.8 1668.5,893.7 1667.9,894.6 1667.3,895.4 1666.7,896.3 1666.3,897.2 1665.9,898.0 1665.6,898.9 1665.3,899.7 1664.9,900.6 1664.4,901.5 1664.0,902.3 1663.6,903.2 1663.2,904.1 1662.8,904.9 1662.5,905.8 1662.1,906.7 1661.6,907.5 1661.0,908.4 1660.4,909.2 1659.8,910.1 1659.3,911.0 1658.9,911.8 1658.5,912.7 1658.0,913.6 1657.6,914.4 1657.1,915.3 1656.7,916.2 1656.2,917.0 1655.7,917.9 1655.2,918.8 1654.7,919.6 1654.2,920.5 1653.7,921.4 1653.1,922.2 1652.6,923.1 1652.0,924.0 1651.2,924.8 1650.4,925.7 1649.6,926.5 1648.8,927.4 1648.3,928.3 1647.9,929.1 1647.5,930.0 1647.1,930.9 1646.6,931.7 1646.0,932.6 1645.4,933.5 1644.9,934.3 1644.6,935.2 1644.4,936.1 1644.2,936.9 1644.0,937.8 1643.5,938.6 1642.9,939.5 1642.4,940.4 1641.8,941.2 1641.2,942.1 1640.4,942.9 1639.7,943.8 1639.0,944.7 1638.6,945.5 1638.2,946.4 1637.8,947.2 1637.3,948.1 1636.9,949.0 1636.5,949.8 1636.1,950.7 1635.7,951.5 1635.2,952.4 1634.7,953.2 1634.2,954.1 1633.7,955.0 1632.9,955.8 1632.1,956.7 1631.3,957.5 1630.5,958.4 1630.2,959.2 1629.9,960.1 1629.6,960.9 1629.3,961.8 1628.8,962.6 1628.3,963.5 1627.8,964.3 1627.3,965.2 1626.5,966.0 1625.6,966.9 1624.7,967.7 1623.8,968.6 1623.3,969.4 1622.8,970.2 1622.3,971.1 1621.8,971.9 1621.4,972.8 1621.0,973.6 1620.6,974.5 1620.2,975.3 1619.6,976.1 1619.0,977.0 1618.3,977.8 1617.7,978.7 1617.4,979.5 1617.2,980.3 1617.0,981.2 1616.7,982.0 1616.1,982.9 1615.4,983.7 1614.8,984.5 1614.2,985.4 1613.6,986.2 1613.1,987.0 1612.5,987.9 1612.0,988.7 1611.5,989.5 1610.9,990.4 1610.4,991.2 1609.9,992.0 1609.1,992.9 1608.3,993.7 1607.6,994.5 1606.9,995.4 1606.3,996.2 1605.7,997.0 1605.0,997.9 1604.5,998.7 1604.1,999.5 1603.7,1000.3 1603.3,1001.2 1602.9,1002.0 1602.3,1002.8 1601.6,1003.7 1600.9,1004.5 1600.3,1005.3 1600.0,1006.1 1599.7,1007.0 1599.4,1007.8 1599.0,1008.6 1598.3,1009.4 1597.6,1010.3 1596.9,1011.1 1596.2,1011.9 1595.5,1012.7 1594.8,1013.6 1594.1,1014.4 1593.5,1015.2 1593.2,1016.0 1592.8,1016.9 1592.4,1017.7 1592.0,1018.5 1591.2,1019.3 1590.4,1020.2 1589.6,1021.0 1588.9,1021.8 1588.2,1022.6 1587.6,1023.4 1586.9,1024.3 1586.3,1025.1 1586.0,1025.9 1585.7,1026.7 1585.4,1027.6 1585.0,1028.4 1584.3,1029.2 1583.6,1030.0 1582.9,1030.8 1582.2,1031.7 1581.5,1032.5 1580.9,1033.3 1580.2,1034.1 1579.6,1034.9 1579.2,1035.8 1578.9,1036.6 1578.5,1037.4 1578.1,1038.2 1577.6,1039.1 1577.2,1039.9 1576.8,1040.7 1576.2,1041.5 1575.3,1042.3 1574.4,1043.2 1573.5,1044.0 1572.7,1044.8 1572.4,1045.6 1572.1,1046.4 1571.8,1047.3 1571.4,1048.1 1570.8,1048.9 1570.2,1049.7 1569.6,1050.5 1568.9,1051.4 1568.1,1052.2 1567.2,1053.0 1566.3,1053.8 1565.7,1054.6 1565.4,1055.5 1565.2,1056.3 1564.9,1057.1 1564.5,1057.9 1563.8,1058.7 1563.0,1059.6 1562.3,1060.4 1561.6,1061.2 1560.8,1062.0 1560.1,1062.8 1559.4,1063.7 1558.8,1064.5 1558.4,1065.3 1558.0,1066.1 1557.6,1067.0 1557.1,1067.8 1556.5,1068.6 1555.8,1069.4 1555.1,1070.2 1554.5,1071.1 1553.8,1071.9 1553.2,1072.7 1552.6,1073.5 1552.0,1074.4 1551.4,1075.2 1550.8,1076.0 1550.1,1076.8 1549.6,1077.7 1549.1,1078.5 1548.6,1079.3 1548.0,1080.1 1547.6,1081.0 1547.1,1081.8 1546.6,1082.6 1546.2,1083.4 1545.7,1084.3 1545.2,1085.1 1544.8,1085.9 1544.3,1086.8 1543.7,1087.6 1542.9,1088.4 1542.1,1089.2 1541.2,1090.1 1540.7,1090.9 1540.4,1091.7 1540.2,1092.6 1539.9,1093.4 1539.3,1094.2 1538.5,1095.0 1537.7,1095.9 1536.8,1096.7 1536.2,1097.5 1535.6,1098.4 1535.1,1099.2 1534.6,1100.0 1534.2,1100.9 1533.9,1101.7 1533.6,1102.5 1533.3,1103.4 1532.9,1104.2 1532.4,1105.0 1531.9,1105.9 1531.4,1106.7 1531.0,1107.6 1530.4,1108.4 1529.9,1109.2 1529.4,1110.1 1528.8,1110.9 1528.1,1111.7 1527.4,1112.6 1526.7,1113.4 1526.1,1114.3 1525.5,1115.1 1524.8,1115.9 1524.2,1116.8 1523.5,1117.6 1522.8,1118.4 1522.1,1119.3 1521.4,1120.1 1520.9,1121.0 1520.6,1121.8 1520.2,1122.6 1519.9,1123.5 1519.3,1124.3 1518.6,1125.2 1517.9,1126.0 1517.2,1126.8 1516.7,1127.7 1516.3,1128.5 1515.9,1129.3 1515.5,1130.2 1515.0,1131.0 1514.5,1131.9 1514.0,1132.7 1513.5,1133.5 1513.0,1134.4 1512.6,1135.2 1512.1,1136.0 1511.7,1136.9 1511.0,1137.7 1510.2,1138.6 1509.4,1139.4 1508.7,1140.2 1508.3,1141.1 1508.0,1141.9 1507.8,1142.7 1507.5,1143.6 1507.0,1144.4 1506.5,1145.2 1505.9,1146.1 1505.4,1146.9 1504.8,1147.7 1504.1,1148.6 1503.5,1149.4 1502.9,1150.2 1502.2,1151.1 1501.6,1151.9 1501.0,1152.7 1500.4,1153.5 1499.8,1154.4 1499.3,1155.2 1498.7,1156.0 1498.2,1156.8 1497.7,1157.7 1497.2,1158.5 1496.7,1159.3 1496.2,1160.1 1495.6,1161.0 1495.1,1161.8 1494.6,1162.6 1494.0,1163.4 1493.4,1164.2 1492.8,1165.1 1492.2,1165.9 1491.6,1166.7 1490.9,1167.5 1490.2,1168.3 1489.5,1169.1 1488.9,1170.0 1488.0,1170.8 1487.2,1171.6 1486.4,1172.4 1485.5,1173.2 1485.1,1174.0 1484.8,1174.8 1484.4,1175.6 1484.1,1176.4 1483.4,1177.2 1482.7,1178.0 1482.0,1178.8 1481.2,1179.6 1480.5,1180.4 1479.9,1181.2 1479.2,1182.0 1478.5,1182.8 1478.2,1183.6 1477.9,1184.4 1477.6,1185.2 1477.3,1186.0 1476.7,1186.8 1476.1,1187.6 1475.4,1188.4 1474.8,1189.2 1474.1,1190.0 1473.3,1190.8 1472.6,1191.6 1471.8,1192.4 1471.2,1193.2 1470.6,1193.9 1469.9,1194.7 1469.3,1195.5 1468.7,1196.3 1468.1,1197.2 1467.5,1198.0 1467.0,1198.8 1466.3,1199.6 1465.6,1200.4 1464.9,1201.2 1464.2,1202.0 1463.7,1202.8 1463.2,1203.6 1462.7,1204.5 1462.2,1205.3 1461.7,1206.1 1461.2,1207.0 1460.6,1207.8 1460.1,1208.6 1459.5,1209.5 1459.0,1210.3 1458.5,1211.2 1458.0,1212.0 1453.5,1219.0 1449.0,1220.5 1435.0,1221.0 1431.5,1224.0 1430.0,1232.0 1427.0,1237.5 1418.0,1239.0 1417.4,1239.8 1416.7,1240.5 1416.1,1241.3 1415.5,1242.0 1414.8,1242.8 1414.0,1243.6 1413.2,1244.3 1412.5,1245.1 1411.9,1245.9 1411.3,1246.6 1410.7,1247.4 1410.2,1248.1 1409.7,1248.9 1409.2,1249.7 1408.7,1250.4 1408.1,1251.2 1407.5,1252.0 1406.8,1252.7 1406.2,1253.5 1405.2,1254.2 1404.2,1255.0 1403.1,1255.8 1402.1,1256.5 1401.5,1257.3 1400.9,1258.0 1400.3,1258.8 1399.7,1259.6 1399.0,1260.4 1398.4,1261.3 1397.7,1262.1 1397.1,1262.9 1396.7,1263.7 1396.3,1264.5 1395.9,1265.3 1395.2,1266.1 1394.4,1266.9 1393.6,1267.7 1392.9,1268.6 1392.4,1269.4 1392.0,1270.2 1391.6,1271.0 1391.2,1271.8 1390.7,1272.6 1390.2,1273.4 1389.6,1274.2 1389.1,1275.1 1388.3,1275.9 1387.6,1276.7 1386.8,1277.5 1386.1,1278.3 1385.7,1279.1 1385.3,1279.9 1384.9,1280.7 1384.4,1281.5 1383.7,1282.4 1383.1,1283.2 1382.5,1284.0 1381.7,1284.8 1380.9,1285.7 1380.1,1286.5 1379.2,1287.3 1378.8,1288.1 1378.5,1289.0 1378.1,1289.8 1377.8,1290.6 1377.1,1291.5 1376.4,1292.3 1375.7,1293.1 1375.0,1293.9 1374.5,1294.8 1374.0,1295.6 1373.5,1296.4 1372.9,1297.3 1372.3,1298.1 1371.7,1298.9 1371.0,1299.8 1370.5,1300.6 1370.2,1301.4 1369.7,1302.2 1369.3,1303.1 1368.7,1303.9 1368.0,1304.7 1367.4,1305.6 1366.8,1306.4 1366.2,1307.2 1365.6,1308.0 1365.0,1308.9 1364.5,1309.7 1344.0,1334.5 1334.0,1334.5"/>
<polyline stroke="#FF0000" points="228.2,1332.0 229.0,1331.5 229.9,1331.0 230.7,1330.6 231.5,1330.1 232.3,1329.6 233.2,1329.1 234.1,1328.7 235.0,1328.2 236.0,1327.7 237.0,1327.2 237.9,1326.8 238.9,1326.3 239.8,1325.9 240.8,1325.4 241.7,1324.9 242.6,1324.5 243.4,1324.0 244.2,1323.6 245.0,1323.1 245.8,1322.7 246.7,1322.2 247.6,1321.8 248.5,1321.3 249.4,1320.9 250.3,1320.5 251.1,1320.0 251.9,1319.6 252.7,1319.1 253.4,1318.7 254.2,1318.3 255.2,1317.9 256.3,1317.4 257.3,1317.0 258.4,1316.6 259.4,1316.2 260.4,1315.7 261.5,1315.3 262.5,1314.9 263.5,1314.5 264.6,1314.1 265.4,1313.6 266.3,1313.2 267.2,1312.8 268.1,1312.4 269.0,1312.0 269.9,1311.6 270.8,1311.2 271.6,1310.8 272.5,1310.4 273.4,1310.0 274.1,1309.6 274.9,1309.2 275.6,1308.8 276.4,1308.4 277.2,1308.0 278.3,1307.6 279.4,1307.3 280.6,1306.9 281.7,1306.5 282.8,1306.1 283.8,1305.7 284.7,1305.3 285.6,1304.9 286.5,1304.6 287.4,1304.2 288.1,1303.8 288.9,1303.4 289.6,1303.1 290.3,1302.7 291.1,1302.3 292.2,1302.0 293.2,1301.6 294.3,1301.2 295.3,1300.8 296.4,1300.5 297.1,1300.1 297.9,1299.8 298.6,1299.4 299.4,1299.0 300.2,1298.7 301.2,1298.3 302.1,1298.0 303.1,1297.6 304.0,1297.2 305.0,1296.9 306.0,1296.5 307.0,1296.2 308.0,1295.8 309.0,1295.5 310.0,1295.1 310.9,1294.8 311.7,1294.4 312.6,1294.1 313.5,1293.7 314.5,1293.4 315.6,1293.1 316.7,1292.7 317.8,1292.4 318.9,1292.0 320.0,1291.7 320.9,1291.4 321.9,1291.0 322.9,1290.7 323.8,1290.3 324.7,1290.0 325.6,1289.7 326.4,1289.3 327.2,1289.0 328.0,1288.7 328.8,1288.3 329.8,1288.0 330.7,1287.7 331.6,1287.3 332.6,1287.0 333.5,1286.7 334.4,1286.4 335.3,1286.0 336.1,1285.7 337.0,1285.4 337.9,1285.0 338.9,1284.7 339.8,1284.4 340.7,1284.1 341.7,1283.7 342.7,1283.4 343.8,1283.1 344.9,1282.8 346.0,1282.4 347.2,1282.1 348.2,1281.8 349.1,1281.5 350.1,1281.2 351.0,1280.8 351.9,1280.5 352.8,1280.2 353.6,1279.9 354.4,1279.6 355.2,1279.2 356.0,1278.9 356.8,1278.6 357.9,1278.3 359.0,1278.0 360.0,1277.6 361.1,1277.3 362.1,1277.0 363.0,1276.7 364.0,1276.4 364.9,1276.0 365.8,1275.7 366.8,1275.4 367.9,1275.1 368.9,1274.8 370.0,1274.5 371.1,1274.1 372.1,1273.8 373.0,1273.5 373.9,1273.2 374.8,1272.9 375.8,1272.5 376.7,1272.2 377.6,1271.9 378.5,1271.6 379.4,1271.3 380.3,1271.0 381.3,1270.6 382.2,1270.3 383.1,1270.0 384.1,1269.7 385.0,1269.4 386.0,1269.0 387.0,1268.7 388.1,1268.4 389.1,1268.1 390.2,1267.8 391.2,1267.4 392.2,1267.1 393.1,1266.8 394.1,1266.5 395.1,1266.1 395.9,1265.8 396.7,1265.5 397.5,1265.2 398.2,1264.9 399.0,1264.5 399.8,1264.2 400.7,1263.9 401.7,1263.5 402.6,1263.2 403.5,1262.9 404.5,1262.6 405.6,1262.2 406.7,1261.9 407.8,1261.6 408.9,1261.2 409.8,1260.9 410.6,1260.6 411.3,1260.3 412.1,1259.9 412.8,1259.6 413.6,1259.3 414.7,1258.9 415.7,1258.6 416.7,1258.2 417.7,1257.9 418.7,1257.6 419.6,1257.2 420.4,1256.9 421.3,1256.6 422.1,1256.2 423.1,1255.9 424.1,1255.5 425.1,1255.2 426.1,1254.8 427.1,1254.5 428.0,1254.1 428.9,1253.8 429.8,1253.4 430.6,1253.1 431.5,1252.7 432.4,1252.4 433.4,1252.0 434.4,1251.7 435.4,1251.3 436.4,1251.0 437.4,1250.6 438.5,1250.3 439.6,1249.9 440.7,1249.5 441.7,1249.2 442.8,1248.8 443.7,1248.5 444.7,1248.1 445.7,1247.7 446.6,1247.4 447.6,1247.0 448.5,1246.6 449.4,1246.3 450.3,1245.9 451.1,1245.5 452.0,1245.1 452.9,1244.8 453.8,1244.4 454.6,1244.0 455.5,1243.6 456.4,1243.2 457.3,1242.9 458.2,1242.5 459.2,1242.1 460.1,1241.7 461.0,1241.3 461.9,1240.9 462.7,1240.5 463.6,1240.2 464.4,1239.8 465.3,1239.4 466.1,1239.0 467.0,1238.6 467.9,1238.2 468.7,1237.8 469.7,1237.4 470.7,1237.0 471.7,1236.6 472.6,1236.2 473.6,1235.8 474.6,1235.4 475.6,1235.0 476.6,1234.6 477.6,1234.2 478.6,1233.8 479.5,1233.4 480.2,1233.0 480.9,1232.6 481.7,1232.2 482.4,1231.8 483.2,1231.3 484.1,1230.9 485.0,1230.5 485.9,1230.1 486.8,1229.7 487.8,1229.3 488.9,1228.9 490.1,1228.4 491.2,1228.0 492.3,1227.6 493.2,1227.2 494.0,1226.8 494.8,1226.4 495.6,1225.9 496.3,1225.5 497.2,1225.1 498.3,1224.7 499.3,1224.3 500.3,1223.8 501.3,1223.4 502.3,1223.0 503.2,1222.6 504.1,1222.1 505.0,1221.7 505.9,1221.3 506.9,1220.8 507.8,1220.4 508.8,1220.0 509.8,1219.6 510.7,1219.1 511.6,1218.7 512.3,1218.3 513.1,1217.8 513.8,1217.4 514.6,1217.0 515.4,1216.5 516.3,1216.1 517.2,1215.7 518.1,1215.2 519.0,1214.8 519.9,1214.4 520.9,1213.9 522.0,1213.5 523.0,1213.1 524.0,1212.6 525.0,1212.2 525.9,1211.8 526.7,1211.3 527.6,1210.9 528.5,1210.4 529.4,1210.0 530.3,1209.6 531.1,1209.1 532.0,1208.7 532.9,1208.3 533.8,1207.8 534.7,1207.4 535.7,1206.9 536.6,1206.5 537.6,1206.1 538.4,1205.6 539.3,1205.2 540.1,1204.7 541.0,1204.3 541.8,1203.9 542.8,1203.4 543.8,1203.0 544.7,1202.5 545.7,1202.1 546.7,1201.6 547.5,1201.2 548.3,1200.8 549.0,1200.3 549.7,1199.9 550.4,1199.4 551.3,1199.0 552.3,1198.5 553.4,1198.1 554.4,1197.7 555.4,1197.2 556.3,1196.8 557.3,1196.3 558.3,1195.9 559.2,1195.4 560.2,1195.0 561.0,1194.6 561.7,1194.1 562.4,1193.7 563.2,1193.2 563.9,1192.8 564.8,1192.4 565.7,1191.9 566.7,1191.5 567.7,1191.0 568.7,1190.6 569.5,1190.1 570.4,1189.7 571.2,1189.3 572.0,1188.8 572.9,1188.4 573.8,1187.9 574.7,1187.5 575.6,1187.1 576.5,1186.6 577.5,1186.2 578.3,1185.7 579.1,1185.3 579.9,1184.9 580.7,1184.4 581.4,1184.0 582.3,1183.5 583.2,1183.1 584.1,1182.7 585.0,1182.2 585.8,1181.8 586.9,1181.4 588.0,1180.9 589.1,1180.5 590.2,1180.1 591.3,1179.6 592.2,1179.2 593.0,1178.8 593.8,1178.3 594.7,1177.9 595.5,1177.5 596.4,1177.0 597.3,1176.6 598.3,1176.2 599.2,1175.7 600.2,1175.3 601.1,1174.9 602.1,1174.4 603.0,1174.0 603.9,1173.6 604.9,1173.2 605.7,1172.7 606.5,1172.3 607.3,1171.9 608.2,1171.4 609.0,1171.0 609.8,1170.6 610.7,1170.2 611.6,1169.7 612.5,1169.3 613.4,1168.9 614.3,1168.5 615.1,1168.1 616.0,1167.6 616.8,1167.2 617.7,1166.8 618.7,1166.4 619.8,1165.9 620.9,1165.5 622.0,1165.1 623.0,1164.7 624.0,1164.3 624.9,1163.8 625.8,1163.4 626.8,1163.0 627.7,1162.6 628.6,1162.2 629.4,1161.8 630.3,1161.3 631.2,1160.9 632.1,1160.5 633.0,1160.1 634.0,1159.7 634.9,1159.2 635.9,1158.8 636.8,1158.4 637.7,1158.0 638.5,1157.6 639.4,1157.2 640.2,1156.7 641.1,1156.3 642.0,1155.9 642.9,1155.5 643.8,1155.1 644.7,1154.7 645.7,1154.2 646.5,1153.8 647.2,1153.4 648.0,1153.0 648.8,1152.6 649.5,1152.2 650.5,1151.8 651.6,1151.3 652.7,1150.9 653.8,1150.5 654.8,1150.1 655.7,1149.7 656.4,1149.2 657.2,1148.8 658.0,1148.4 658.8,1148.0 659.7,1147.6 660.7,1147.2 661.6,1146.7 662.5,1146.3 663.5,1145.9 664.4,1145.5 665.2,1145.1 666.1,1144.7 667.0,1144.2 667.9,1143.8 668.8,1143.4 669.8,1143.0 670.8,1142.6 671.8,1142.1 672.7,1141.7 673.7,1141.3 674.6,1140.9 675.5,1140.4 676.5,1140.0 677.4,1139.6 678.3,1139.2 679.2,1138.8 680.1,1138.3 680.9,1137.9 681.8,1137.5 682.7,1137.1 683.5,1136.6 684.3,1136.2 685.2,1135.8 686.0,1135.3 686.9,1134.9 687.7,1134.5 688.6,1134.1 689.5,1133.6 690.4,1133.2 691.4,1132.8 692.5,1132.3 693.6,1131.9 694.7,1131.5 695.7,1131.0 696.5,1130.6 697.3,1130.2 698.0,1129.7 698.8,1129.3 699.5,1128.9 700.4,1128.4 701.4,1128.0 702.3,1127.6 703.2,1127.1 704.2,1126.7 705.0,1126.2 705.8,1125.8 706.6,1125.4 707.4,1124.9 708.2,1124.5 709.1,1124.0 710.1,1123.6 711.0,1123.2 712.0,1122.7 713.0,1122.3 713.8,1121.8 714.6,1121.4 715.5,1120.9 716.3,1120.5 717.1,1120.0 718.1,1119.6 719.1,1119.1 720.0,1118.7 721.0,1118.2 722.0,1117.8 723.0,1117.3 723.9,1116.9 724.9,1116.4 725.9,1116.0 726.9,1115.5 727.9,1115.1 728.9,1114.6 729.8,1114.2 730.8,1113.7 731.8,1113.3 732.5,1112.8 733.3,1112.3 734.1,1111.9 734.9,1111.4 735.7,1111.0 736.5,1110.5 737.3,1110.0 738.1,1109.6 738.9,1109.1 739.7,1108.7 740.7,1108.2 741.6,1107.7 742.6,1107.3 743.6,1106.8 744.6,1106.4 745.5,1105.9 746.4,1105.4 747.3,1105.0 748.1,1104.5 749.0,1104.0 750.0,1103.6 750.9,1103.1 751.8,1102.6 752.8,1102.2 753.7,1101.7 754.5,1101.2 755.3,1100.8 756.1,1100.3 756.9,1099.8 757.7,1099.3 758.7,1098.9 759.7,1098.4 760.7,1097.9 761.7,1097.5 762.7,1097.0 763.4,1096.5 764.1,1096.0 764.9,1095.6 765.6,1095.1 766.4,1094.6 767.2,1094.2 768.1,1093.7 768.9,1093.2 769.8,1092.7 770.6,1092.2 771.5,1091.8 772.5,1091.3 773.4,1090.8 774.4,1090.3 775.3,1089.9 776.3,1089.4 777.3,1088.9 778.3,1088.4 779.3,1087.9 780.3,1087.5 781.1,1087.0 781.9,1086.5 782.7,1086.0 783.6,1085.5 784.4,1085.1 785.2,1084.6 786.0,1084.1 786.8,1083.6 787.6,1083.1 788.4,1082.7 789.3,1082.2 790.2,1081.7 791.1,1081.2 791.9,1080.7 792.8,1080.2 793.7,1079.7 794.7,1079.3 795.6,1078.8 796.5,1078.3 797.4,1077.8 798.2,1077.3 799.0,1076.8 799.8,1076.3 800.7,1075.9 801.5,1075.4 802.4,1074.9 803.3,1074.4 804.2,1073.9 805.1,1073.4 806.0,1072.9 807.0,1072.4 808.0,1071.9 809.0,1071.5 810.0,1071.0 810.9,1070.5 811.8,1070.0 812.7,1069.5 813.5,1069.0 814.4,1068.5 815.2,1068.0 816.1,1067.5 816.9,1067.0 817.8,1066.5 818.6,1066.0 819.4,1065.6 820.1,1065.1 820.8,1064.6 821.4,1064.1 822.1,1063.6 822.8,1063.1 823.8,1062.6 824.8,1062.1 825.8,1061.6 826.8,1061.1 827.8,1060.6 828.6,1060.1 829.4,1059.6 830.2,1059.1 831.0,1058.6 831.9,1058.1 832.9,1057.6 833.9,1057.1 834.9,1056.6 836.0,1056.1 836.9,1055.6 837.6,1055.1 838.3,1054.6 839.0,1054.2 839.7,1053.7 840.5,1053.2 841.5,1052.7 842.6,1052.2 843.6,1051.7 844.6,1051.2 845.6,1050.7 846.3,1050.2 846.9,1049.7 847.6,1049.2 848.3,1048.7 849.0,1048.2 849.9,1047.7 850.9,1047.2 851.8,1046.7 852.7,1046.2 853.6,1045.7 854.6,1045.2 855.7,1044.7 856.7,1044.2 857.7,1043.7 858.6,1043.2 859.4,1042.7 860.2,1042.2 860.9,1041.7 861.7,1041.2 862.5,1040.6 863.5,1040.1 864.4,1039.6 865.4,1039.1 866.4,1038.6 867.3,1038.1 868.0,1037.6 868.8,1037.1 869.5,1036.6 870.3,1036.1 871.0,1035.6 871.8,1035.1 872.6,1034.6 873.4,1034.1 874.1,1033.6 875.0,1033.1 876.0,1032.6 877.0,1032.1 878.0,1031.6 879.0,1031.0 879.9,1030.5 880.7,1030.0 881.5,1029.5 882.3,1029.0 883.1,1028.5 883.9,1028.0 884.8,1027.5 885.7,1027.0 886.5,1026.5 887.4,1025.9 888.2,1025.4 888.9,1024.9 889.7,1024.4 890.5,1023.9 891.2,1023.4 892.0,1022.9 892.9,1022.3 893.7,1021.8 894.6,1021.3 895.4,1020.8 896.4,1020.3 897.4,1019.8 898.5,1019.2 899.6,1018.7 900.7,1018.2 901.7,1017.7 902.5,1017.2 903.4,1016.6 904.3,1016.1 905.1,1015.6 906.0,1015.1 906.8,1014.6 907.7,1014.0 908.5,1013.5 909.4,1013.0 910.2,1012.5 910.9,1011.9 911.5,1011.4 912.2,1010.9 912.9,1010.3 913.6,1009.8 914.4,1009.3 915.1,1008.8 915.9,1008.2 916.6,1007.7 917.5,1007.2 918.5,1006.6 919.5,1006.1 920.5,1005.6 921.5,1005.0 922.4,1004.5 923.3,1004.0 924.2,1003.4 925.1,1002.9 926.0,1002.4 926.8,1001.8 927.7,1001.3 928.5,1000.7 929.3,1000.2 930.1,999.7 930.9,999.1 931.6,998.6 932.2,998.0 932.9,997.5 933.6,997.0 934.3,996.4 935.2,995.9 936.1,995.3 937.0,994.8 937.9,994.2 938.8,993.7 939.8,993.2 940.8,992.6 941.7,992.1 942.7,991.5 943.5,991.0 944.2,990.4 944.9,989.9 945.5,989.3 946.2,988.8 947.0,988.2 948.1,987.7 949.1,987.1 950.2,986.6 951.2,986.0 952.2,985.5 953.1,984.9 953.9,984.4 954.8,983.8 955.7,983.3 956.4,982.7 957.1,982.2 957.7,981.6 958.3,981.1 958.9,980.5 959.6,979.9 960.4,979.4 961.2,978.8 962.0,978.3 962.8,977.7 963.7,977.2 964.8,976.6 965.9,976.1 967.0,975.5 968.0,974.9 969.0,974.4 969.7,973.8 970.5,973.3 971.3,972.7 972.1,972.1 972.8,971.6 973.5,971.0 974.3,970.5 975.0,969.9 975.8,969.3 976.6,968.8 977.4,968.2 978.2,967.7 979.1,967.1 979.9,966.5 980.8,966.0 981.7,965.4 982.7,964.8 983.6,964.3 984.6,963.7 985.4,963.1 986.1,962.6 986.7,962.0 987.4,961.5 988.1,960.9 988.8,960.3 989.5,959.8 990.2,959.2 991.0,958.6 991.7,958.1 992.6,957.5 993.6,956.9 994.6,956.4 995.5,955.8 996.5,955.2 997.4,954.7 998.1,954.1 998.8,953.5 999.6,953.0 1000.3,952.4 1001.2,951.8 1002.1,951.2 1003.0,950.7 1003.9,950.1 1004.9,949.5 1005.8,949.0 1006.7,948.4 1007.6,947.8 1008.5,947.3 1009.4,946.7 1010.1,946.1 1010.8,945.5 1011.4,945.0 1012.1,944.4 1012.7,943.8 1013.5,943.3 1014.3,942.7 1015.1,942.1 1015.9,941.6 1016.6,941.0 1017.4,940.4 1018.2,939.8 1019.0,939.3 1019.7,938.7 1020.5,938.1 1021.4,937.6 1022.5,937.0 1023.5,936.4 1024.5,935.8 1025.6,935.3 1026.3,934.7 1027.0,934.1 1027.6,933.6 1028.2,933.0 1028.8,932.4 1029.7,931.8 1030.7,931.3 1031.8,930.7 1032.9,930.1 1033.9,929.5 1034.8,929.0 1035.6,928.4 1036.3,927.8 1037.1,927.3 1037.8,926.7 1038.6,926.1 1039.5,925.5 1040.4,925.0 1041.3,924.4 1042.1,923.8 1043.0,923.2 1043.8,922.7 1044.6,922.1 1045.3,921.5 1046.1,921.0 1046.8,920.4 1047.5,919.8 1048.1,919.2 1048.8,918.7 1049.4,918.1 1050.2,917.5 1051.0,916.9 1051.8,916.4 1052.6,915.8 1053.4,915.2 1054.4,914.7 1055.4,914.1 1056.5,913.5 1057.5,912.9 1058.6,912.4 1059.3,911.8 1060.0,911.2 1060.6,910.6 1061.2,910.1 1061.9,909.5 1062.7,908.9 1063.7,908.4 1064.6,907.8 1065.6,907.2 1066.6,906.7 1067.3,906.1 1068.0,905.5 1068.6,904.9 1069.2,904.4 1069.9,903.8 1070.7,903.2 1071.6,902.7 1072.4,902.1 1073.3,901.5 1074.1,900.9 1075.0,900.4 1076.0,899.8 1076.9,899.2 1077.8,898.7 1078.7,898.1 1079.5,897.5 1080.2,897.0 1080.9,896.4 1081.6,895.8 1082.3,895.3 1083.2,894.7 1084.2,894.1 1085.1,893.6 1086.1,893.0 1087.1,892.4 1088.0,891.9 1088.8,891.3 1089.7,890.7 1090.5,890.2 1091.4,889.6 1092.1,889.0 1092.8,888.5 1093.5,887.9 1094.1,887.3 1094.8,886.8 1095.6,886.2 1096.4,885.6 1097.2,885.1 1098.0,884.5 1098.9,883.9 1099.6,883.4 1100.4,882.8 1101.1,882.3 1101.9,881.7 1102.6,881.1 1103.5,880.6 1104.5,880.0 1105.4,879.4 1106.3,878.9 1107.3,878.3 1108.0,877.8 1108.8,877.2 1109.5,876.6 1110.2,876.1 1111.0,875.5 1111.9,875.0 1112.9,874.4 1113.8,873.8 1114.8,873.3 1115.8,872.7 1116.7,872.2 1117.5,871.6 1118.4,871.0 1119.2,870.5 1120.1,869.9 1120.9,869.4 1121.7,868.8 1122.5,868.2 1123.3,867.7 1124.1,867.1 1124.9,866.6 1125.8,866.0 1126.6,865.5 1127.4,864.9 1128.3,864.3 1129.1,863.8 1129.9,863.2 1130.8,862.7 1131.6,862.1 1132.4,861.6 1133.3,861.0 1134.2,860.4 1135.2,859.9 1136.1,859.3 1137.0,858.8 1137.7,858.2 1138.5,857.6 1139.2,857.1 1139.9,856.5 1140.6,856.0 1141.5,855.4 1142.5,854.9 1143.4,854.3 1144.3,853.7 1145.2,853.2 1145.9,852.6 1146.6,852.1 1147.3,851.5 1148.0,850.9 1148.7,850.4 1149.5,849.8 1150.2,849.3 1151.0,848.7 1151.8,848.1 1152.5,847.6 1153.4,847.0 1154.2,846.5 1155.1,845.9 1155.9,845.3 1156.8,844.8 1157.7,844.2 1158.7,843.6 1159.7,843.1 1160.7,842.5 1161.7,842.0 1162.4,841.4 1163.1,840.8 1163.7,840.3 1164.4,839.7 1165.1,839.1 1166.0,838.6 1167.0,838.0 1168.0,837.4 1169.0,836.9 1169.9,836.3 1170.8,835.8 1171.7,835.2 1172.5,834.6 1173.4,834.1 1174.2,833.5 1175.0,832.9 1175.7,832.4 1176.4,831.8 1177.1,831.2 1177.9,830.6 1178.6,830.1 1179.3,829.5 1180.0,828.9 1180.7,828.4 1181.4,827.8 1182.4,827.2 1183.3,826.7 1184.3,826.1 1185.2,825.5 1186.2,825.0 1186.9,824.4 1187.7,823.8 1188.5,823.2 1189.2,822.7 1190.0,822.1 1190.9,821.5 1191.9,821.0 1192.9,820.4 1193.8,819.8 1194.8,819.2 1195.4,818.7 1196.1,818.1 1196.7,817.5 1197.3,817.0 1197.9,816.4 1198.8,815.8 1199.6,815.2 1200.4,814.7 1201.2,814.1 1202.1,813.5 1202.9,812.9 1203.8,812.4 1204.7,811.8 1205.6,811.2 1206.5,810.6 1207.3,810.1 1208.1,809.5 1209.0,808.9 1209.8,808.3 1210.6,807.8 1211.3,807.2 1212.1,806.6 1212.8,806.0 1213.5,805.5 1214.3,804.9 1215.1,804.3 1216.0,803.7 1216.9,803.1 1217.7,802.6 1218.6,802.0 1219.5,801.4 1220.4,800.8 1221.3,800.3 1222.2,799.7 1223.1,799.1 1223.9,798.5 1224.6,797.9 1225.4,797.4 1226.1,796.8 1226.9,796.2 1227.6,795.6 1228.3,795.0 1229.0,794.5 1229.7,793.9 1230.4,793.3 1231.3,792.7 1232.2,792.2 1233.1,791.6 1234.1,791.0 1235.0,790.4 1235.8,789.8 1236.6,789.2 1237.4,788.7 1238.2,788.1 1239.0,787.5 1239.9,786.9 1240.7,786.3 1241.5,785.8 1242.3,785.2 1243.1,784.6 1243.8,784.0 1244.5,783.4 1245.2,782.9 1245.9,782.3 1246.6,781.7 1247.5,781.1 1248.4,780.5 1249.3,779.9 1250.2,779.4 1251.1,778.8 1252.1,778.2 1253.1,777.6 1254.1,777.0 1255.1,776.4 1256.0,775.9 1256.8,775.3 1257.6,774.7 1258.4,774.1 1259.2,773.5 1260.0,772.9 1260.8,772.4 1261.7,771.8 1262.5,771.2 1263.3,770.6 1264.2,770.0 1264.9,769.4 1265.7,768.9 1266.4,768.3 1267.2,767.7 1267.9,767.1 1268.7,766.5 1269.4,765.9 1270.1,765.3 1270.8,764.8 1271.6,764.2 1272.5,763.6 1273.5,763.0 1274.4,762.4 1275.4,761.8 1276.3,761.2 1276.9,760.7 1277.6,760.1 1278.2,759.5 1278.8,758.9 1279.5,758.3 1280.4,757.7 1281.3,757.1 1282.2,756.6 1283.1,756.0 1283.9,755.4 1284.8,754.8 1285.6,754.2 1286.4,753.6 1287.2,753.0 1288.0,752.5 1288.8,751.9 1289.5,751.3 1290.3,750.7 1291.1,750.1 1291.8,749.5 1292.6,748.9 1293.3,748.4 1294.1,747.8 1294.9,747.2 1295.6,746.6 1296.5,746.0 1297.3,745.4 1298.1,744.8 1299.0,744.2 1299.8,743.7 1300.7,743.1 1301.6,742.5 1302.5,741.9 1303.4,741.3 1304.2,740.7 1305.0,740.1 1305.7,739.6 1306.4,739.0 1307.1,738.4 1307.8,737.8 1308.7,737.2 1309.5,736.6 1310.3,736.0 1311.1,735.4 1312.0,734.9 1312.8,734.3 1313.6,733.7 1314.4,733.1 1315.2,732.5 1316.0,731.9 1316.8,731.3 1317.6,730.8 1318.4,730.2 1319.2,729.6 1320.1,729.0 1321.0,728.4 1322.0,727.8 1322.9,727.2 1323.9,726.6 1324.8,726.1 1325.5,725.5 1326.2,724.9 1326.9,724.3 1327.7,723.7 1328.4,723.1 1329.1,722.5 1329.7,721.9 1330.4,721.4 1331.0,720.8 1331.8,720.2 1332.8,719.6 1333.8,719.0 1334.8,718.4 1335.9,717.8 1336.8,717.3 1337.5,716.7 1338.3,716.1 1339.0,715.5 1339.8,714.9 1340.5,714.3 1341.4,713.7 1342.3,713.2 1343.2,712.6 1344.1,712.0 1344.9,711.4 1345.7,710.8 1346.4,710.2 1347.1,709.6 1347.9,709.0 1348.6,708.5 1349.4,707.9 1350.1,707.3 1350.9,706.7 1351.6,706.1 1352.5,705.5 1353.4,704.9 1354.4,704.4 1355.3,703.8 1356.3,703.2 1357.1,702.6 1357.8,702.0 1358.4,701.4 1359.0,700.9 1359.6,700.3 1360.3,699.7 1361.2,699.1 1362.0,698.5 1362.9,697.9 1363.7,697.3 1364.6,696.8 1365.4,696.2 1366.3,695.6 1367.2,695.0 1368.0,694.4 1368.9,693.8 1369.8,693.3 1370.8,692.7 1371.7,692.1 1372.6,691.5 1373.4,690.9 1374.0,690.3 1374.6,689.7 1375.2,689.2 1375.8,688.6 1376.5,688.0 1377.4,687.4 1378.3,686.8 1379.1,686.2 1380.0,685.7 1380.9,685.1 1381.7,684.5 1382.6,683.9 1383.5,683.3 1384.3,682.7 1385.2,682.2 1386.1,681.6 1386.9,681.0 1387.8,680.4 1388.6,679.8 1389.4,679.2 1390.0,678.7 1390.7,678.1 1391.3,677.5 1392.0,676.9 1392.8,676.3 1393.8,675.7 1394.8,675.2 1395.8,674.6 1396.8,674.0 1397.7,673.4 1398.4,672.8 1399.2,672.3 1399.9,671.7 1400.7,671.1 1401.5,670.5 1402.3,669.9 1403.1,669.3 1403.9,668.8 1404.7,668.2 1405.5,667.6 1406.2,667.0 1407.0,666.4 1407.8,665.8 1408.6,665.3 1409.4,664.7 1410.2,664.1 1411.0,663.5 1411.7,662.9 1412.5,662.4 1413.4,661.8 1414.4,661.2 1415.4,660.6 1416.3,660.0 1417.3,659.5 1418.2,658.9 1419.1,658.3 1419.9,657.7 1420.8,657.1 1421.6,656.5 1422.3,656.0 1422.9,655.4 1423.5,654.8 1424.1,654.2 1424.7,653.6 1425.4,653.1 1426.2,652.5 1427.0,651.9 1427.8,651.3 1428.7,650.7 1429.6,650.2 1430.5,649.6 1431.4,649.0 1432.4,648.4 1433.3,647.8 1434.2,647.3 1435.1,646.7 1435.9,646.1 1436.7,645.5 1437.6,644.9 1438.4,644.4 1439.2,643.8 1440.1,643.2 1440.9,642.6 1441.7,642.0 1442.5,641.5 1443.2,640.9 1443.8,640.3 1444.5,639.7 1445.2,639.1 1445.9,638.6 1446.7,638.0 1447.5,637.4 1448.3,636.8 1449.1,636.2 1449.8,635.7 1450.6,635.1 1451.4,634.5 1452.2,633.9 1452.9,633.3 1453.8,632.8 1454.7,632.2 1455.6,631.6 1456.5,631.0 1457.4,630.5 1458.3,629.9 1459.1,629.3 1460.0,628.7 1460.9,628.1 1461.7,627.6 1462.6,627.0 1463.5,626.4 1464.4,625.8 1465.3,625.2 1466.2,624.7 1467.0,624.1 1467.5,623.5 1468.1,622.9 1468.7,622.4 1469.3,621.8 1470.0,621.2 1470.8,620.6 1471.7,620.0 1472.5,619.5 1473.3,618.9 1474.3,618.3 1475.2,617.7 1476.2,617.2 1477.2,616.6 1478.2,616.0 1479.0,615.4 1479.9,614.8 1480.7,614.3 1481.5,613.7 1482.3,613.1 1483.0,612.5 1483.7,612.0 1484.4,611.4 1485.0,610.8 1485.7,610.2 1486.5,609.7 1487.3,609.1 1488.1,608.5 1488.9,607.9 1489.7,607.3 1490.5,606.8 1491.3,606.2 1492.1,605.6 1492.9,605.0 1493.7,604.5 1494.6,603.9 1495.6,603.3 1496.6,602.7 1497.6,602.2 1498.6,601.6 1499.4,601.0 1500.1,600.4 1500.8,599.9 1501.5,599.3 1502.2,598.7 1503.0,598.1 1503.8,597.6 1504.6,597.0 1505.4,596.4 1506.3,595.8 1507.1,595.2 1508.1,594.7 1509.0,594.1 1510.0,593.5 1510.9,592.9 1511.6,592.4 1512.3,591.8 1513.0,591.2 1513.6,590.6 1514.3,590.1 1515.2,589.5 1516.1,588.9 1517.0,588.3 1518.0,587.8 1518.9,587.2 1519.7,586.6 1520.4,586.0 1521.0,585.5 1521.7,584.9 1522.4,584.3 1523.2,583.7 1524.0,583.2 1524.8,582.6 1525.6,582.0 1526.5,581.4 1527.4,580.9 1528.4,580.3 1529.4,579.7 1530.4,579.1 1531.4,578.6 1532.2,578.0 1533.1,577.4 1533.9,576.9 1534.8,576.3 1535.7,575.7 1536.4,575.1 1537.1,574.6 1537.9,574.0 1538.6,573.4 1539.3,572.8 1540.1,572.3 1540.9,571.7 1541.7,571.1 1542.5,570.5 1543.3,570.0 1544.2,569.4 1545.1,568.8 1546.0,568.2 1546.9,567.7 1547.8,567.1 1548.5,566.5 1549.2,565.9 1549.8,565.4 1550.4,564.8 1551.1,564.2 1551.9,563.7 1552.8,563.1 1553.7,562.5 1554.5,561.9 1555.4,561.4 1556.4,560.8 1557.4,560.2 1558.4,559.6 1559.4,559.1 1560.4,558.5 1561.2,557.9 1562.1,557.4 1562.9,556.8 1563.7,556.2 1564.6,555.6 1565.2,555.1 1565.7,554.5 1566.3,553.9 1566.9,553.3 1567.4,552.8 1568.2,552.2 1569.0,551.6 1569.8,551.1 1570.6,550.5 1571.4,549.9 1572.4,549.3 1573.5,548.8 1574.5,548.2 1575.6,547.6 1576.6,547.1 1577.4,546.5 1578.1,545.9 1578.8,545.3 1579.6,544.8 1580.3,544.2 1581.2,543.6 1582.1,543.1 1583.0,542.5 1583.9,541.9 1584.8,541.3 1585.6,540.8 1586.4,540.2 1587.2,539.6 1588.0,539.1 1588.8,538.5 1589.5,537.9 1590.3,537.3 1591.1,536.8 1591.8,536.2 1592.6,535.6 1593.5,535.1 1594.4,534.5 1595.3,533.9 1596.2,533.3 1597.1,532.8 1597.9,532.2 1598.6,531.6 1599.4,531.1 1600.2,530.5 1601.0,529.9 1601.7,529.3 1602.3,528.8 1603.0,528.2 1603.7,527.6 1604.3,527.1 1605.2,526.5 1606.2,525.9 1607.1,525.4 1608.1,524.8 1609.0,524.2 1610.0,523.6 1610.9,523.1 1611.8,522.5 1612.8,521.9 1613.7,521.4 1614.5,520.8 1615.3,520.2 1616.1,519.7 1616.9,519.1 1617.7,518.5 1618.5,517.9 1619.3,517.4 1620.1,516.8 1620.8,516.2 1621.6,515.7 1622.4,515.1 1623.3,514.5 1624.1,513.9 1624.9,513.4 1625.7,512.8 1626.6,512.2 1627.4,511.7 1628.3,511.1 1629.2,510.5 1630.1,509.9 1630.7,509.4 1631.4,508.8 1632.1,508.2 1632.8,507.6 1633.4,507.1 1634.3,506.5 1635.1,505.9 1636.0,505.4 1636.8,504.8 1637.7,504.2 1638.5,503.6 1639.4,503.1 1640.3,502.5 1641.2,501.9 1642.1,501.3 1643.0,500.8 1643.8,500.2 1644.7,499.6 1645.6,499.0 1646.4,498.5 1647.1,497.9 1647.8,497.3 1648.5,496.7 1649.2,496.1 1649.8,495.6 1650.6,495.0 1651.4,494.4 1652.1,493.8 1652.9,493.3 1653.7,492.7 1654.5,492.1 1655.4,491.5 1656.2,490.9 1657.1,490.4 1657.9,489.8 1658.8,489.2 1659.6,488.6 1660.5,488.0 1661.4,487.5 1662.2,486.9 1662.9,486.3 1663.6,485.7 1664.4,485.1 1665.1,484.5 1665.8,484.0 1666.8,483.4 1667.7,482.8 1668.7,482.2 1669.7,481.6 1670.6,481.0 1671.5,480.4 1672.4,479.9 1673.3,479.3 1674.1,478.7 1675.0,478.1 1675.7,477.5 1676.3,476.9 1677.0,476.3 1677.6,475.7 1678.3,475.2 1679.3,474.6 1680.3,474.0 1681.3,473.4 1682.2,472.8 1683.2,472.2 1683.8,471.6 1684.5,471.0 1685.2,470.5 1685.8,469.9 1686.5,469.3 1687.3,468.7 1688.2,468.1 1689.0,467.5 1689.9,466.9 1690.7,466.3 1691.6,465.7 1692.6,465.1 1693.5,464.5 1694.4,463.9 1695.3,463.4 1696.1,462.8 1696.8,462.2 1697.5,461.6 1698.3,461.0 1699.0,460.4 1699.7,459.8 1700.5,459.2 1701.2,458.6 1702.0,458.0 1702.7,457.4 1703.6,456.8 1704.5,456.2 1705.4,455.6 1706.2,455.0 1707.1,454.5 1707.8,453.9 1708.5,453.3 1709.3,452.7 1710.0,452.1 1710.7,451.5 1711.6,450.9 1712.5,450.3 1713.4,449.7 1714.2,449.1 1715.1,448.5 1715.7,447.9 1716.4,447.3 1717.1,446.7 1717.7,446.1 1718.4,445.5 1719.2,444.9 1719.9,444.3 1720.7,443.7 1721.5,443.1 1722.2,442.5 1723.2,441.9 1724.1,441.3 1725.1,440.8 1726.0,440.2 1727.0,439.6 1727.7,439.0 1728.5,438.4 1729.3,437.8 1730.1,437.2 1730.9,436.6 1731.7,436.0 1732.4,435.4 1733.2,434.8 1734.0,434.2 1734.8,433.6 1735.5,433.0 1736.2,432.4 1736.9,431.8 1737.6,431.2 1738.4,430.6 1739.4,430.0 1740.4,429.4 1741.5,428.8 1742.5,428.2 1743.4,427.6 1744.0,427.0 1744.6,426.4 1745.1,425.8 1745.7,425.2 1746.4,424.6 1747.4,424.0 1748.5,423.4 1749.5,422.8 1750.6,422.2 1751.5,421.7 1752.1,421.1 1752.8,420.5 1753.4,419.9 1754.0,419.3 1754.7,418.7 1755.5,418.1 1756.2,417.5 1757.0,416.9 1757.8,416.3 1758.7,415.7 1759.7,415.1 1760.6,414.5 1761.6,413.9 1762.6,413.3 1763.6,412.7 1764.4,412.1 1765.2,411.5 1766.0,410.9 1766.8,410.3 1767.6,409.7 1768.3,409.1 1769.1,408.5 1769.8,408.0 1770.5,407.4 1771.3,406.8 1772.2,406.2 1773.0,405.6 1773.9,405.0 1774.8,404.4 1775.6,403.8 1776.2,403.2 1776.8,402.6 1777.3,402.0 1777.9,401.4 1778.6,400.8 1779.6,400.2 1780.6,399.6 1781.6,399.0 1782.6,398.5 1783.5,397.9 1784.3,397.3 1785.0,396.7 1785.8,396.1 1786.5,395.5 1787.2,394.9 1788.0,394.3 1788.7,393.7 1789.4,393.1 1790.1,392.5 1790.9,392.0 1791.8,391.4 1792.7,390.8 1793.6,390.2 1794.5,389.6 1795.3,389.0 1795.9,388.4 1796.6,387.8 1797.3,387.2 1798.0,386.7 1798.7,386.1 1799.7,385.5 1800.7,384.9 1801.7,384.3 1802.7,383.7 1803.7,383.1 1804.4,382.5 1805.2,382.0 1806.0,381.4 1806.7,380.8 1807.5,380.2 1808.1,379.6 1808.8,379.0 1809.5,378.5 1810.1,377.9 1810.8,377.3 1811.7,376.7 1812.5,376.1 1813.4,375.5 1814.2,375.0 1815.1,374.4 1815.9,373.8 1816.7,373.2 1817.6,372.6 1818.4,372.0 1819.2,371.5 1820.1,370.9 1821.0,370.3 1821.8,369.7 1822.7,369.1 1823.5,368.6 1824.3,368.0 1825.0,367.4 1825.8,366.8 1826.5,366.2 1827.3,365.7 1828.1,365.1 1829.0,364.5 1829.8,363.9 1830.6,363.3 1831.5,362.8 1832.4,362.2 1833.3,361.6 1834.1,361.0 1835.0,360.4 1835.8,359.9 1836.5,359.3 1837.2,358.7 1837.9,358.1 1838.7,357.6 1839.5,357.0 1840.5,356.4 1841.5,355.8 1842.4,355.2 1843.4,354.7 1844.3,354.1 1845.0,353.5 1845.8,352.9 1846.5,352.4 1847.2,351.8 1848.0,351.2 1848.8,350.6 1849.6,350.1 1850.4,349.5 1851.2,348.9 1852.1,348.3 1852.9,347.8 1853.8,347.2 1854.6,346.6 1855.5,346.0 1856.3,345.5 1857.0,344.9 1857.7,344.3 1858.4,343.7 1859.1,343.2 1860.0,342.6 1861.0,342.0 1862.0,341.4 1863.0,340.9 1864.1,340.3 1864.9,339.7 1865.5,339.1 1866.1,338.6 1866.7,338.0 1867.3,337.4 1868.1,336.9 1869.0,336.3 1869.9,335.7 1870.9,335.1 1871.8,334.6 1872.8,334.0 1873.7,333.4 1874.6,332.8 1875.6,332.3 1876.5,331.7 1877.3,331.1 1877.9,330.6 1878.4,330.0 1879.0,329.4 1879.6,328.8 1880.4,328.3 1881.4,327.7 1882.4,327.1 1883.4,326.5 1884.3,326.0 1885.3,325.4 1886.2,324.8 1887.1,324.3 1888.0,323.7 1888.9,323.1 1889.7,322.5 1890.5,322.0 1891.4,321.4 1892.2,320.8 1893.0,320.3 1893.7,319.7 1894.4,319.1 1895.0,318.5 1895.7,318.0 1896.3,317.4 1897.1,316.8 1898.0,316.3 1898.9,315.7 1899.8,315.1 1900.7,314.6 1901.6,314.0 1902.5,313.4 1903.4,312.8 1904.3,312.3 1905.2,311.7 1906.0,311.1 1906.8,310.6 1907.5,310.0 1908.2,309.4 1909.0,308.8 1909.8,308.3 1910.7,307.7 1911.6,307.1 1912.5,306.6 1913.4,306.0 1914.2,305.4 1915.0,304.9 1915.7,304.3 1916.5,303.7 1917.3,303.1 1918.0,302.6 1918.6,302.0 1919.2,301.4 1919.9,300.9 1920.5,300.3 1921.3,299.7 1922.2,299.2 1923.1,298.6 1924.0,298.0 1924.9,297.4 1925.9,296.9 1926.9,296.3 1927.8,295.7 1928.8,295.2 1929.8,294.6 1930.6,294.0 1931.3,293.5 1932.0,292.9 1932.7,292.3 1933.4,291.8 1934.2,291.2 1935.0,290.6 1935.8,290.0 1936.6,289.5 1937.4,288.9 1938.2,288.3 1939.0,287.8 1939.8,287.2 1940.6,286.6 1941.4,286.1 1942.2,285.5 1942.9,284.9 1943.7,284.3 1944.5,283.8 1945.3,283.2 1946.2,282.6 1947.2,282.1 1948.1,281.5 1949.1,280.9 1950.0,280.4 1950.9,279.8 1951.6,279.2 1952.4,278.6 1953.1,278.1 1953.8,277.5 1954.7,276.9 1955.7,276.4 1956.7,275.8 1957.6,275.2 1958.6,274.7 1959.3,274.1 1959.9,273.5 1960.4,273.0 1961.0,272.4 1961.6,271.8 1962.5,271.2 1963.6,270.7 1964.6,270.1 1965.7,269.5 1966.8,269.0 1967.5,268.4 1968.1,267.8 1968.7,267.3 1969.3,266.7 1969.9,266.1 1970.8,265.5 1971.8,265.0 1972.9,264.4 1973.9,263.8 1974.9,263.3 1975.7,262.7 1976.4,262.1 1977.2,261.6 1977.9,261.0 1978.6,260.4 1979.5,259.9 1980.4,259.3 1981.3,258.7 1982.2,258.1 1983.1,257.6 1983.8,257.0 1984.6,256.4 1985.3,255.9 1986.1,255.3 1986.8,254.7 1987.6,254.2 1988.3,253.6 1989.0,253.0 1989.8,252.5 1990.5,251.9 1991.5,251.3 1992.5,250.8 1993.6,250.2 1994.6,249.6 1995.7,249.1 1996.5,248.5 1997.2,247.9 1998.0,247.4 1998.7,246.8 1999.4,246.2 2000.1,245.7 2000.8,245.1 2001.6,244.5 2002.3,244.0 2003.0,243.4 2003.8,242.8 2004.8,242.3 2005.7,241.7 2006.6,241.1 2007.6,240.6 2008.3,240.0 2009.1,239.4 2009.8,238.9 2010.5,238.3 2011.2,237.7 2012.1,237.2 2012.9,236.6 2013.8,236.1 2014.7,235.5 2015.6,234.9 2016.5,234.4 2017.3,233.8 2018.2,233.2 2019.1,232.7 2020.0,232.1 2020.8,231.5 2021.6,231.0 2022.5,230.4 2023.3,229.9 2024.1,229.3 2024.8,228.7 2025.5,228.2 2026.2,227.6 2026.9,227.0 2027.6,226.5 2028.4,225.9 2029.3,225.4 2030.1,224.8 2031.0,224.2 2031.8,223.7 2032.7,223.1 2033.6,222.6 2034.5,222.0 2035.4,221.4 2036.3,220.9 2037.2,220.3 2038.0,219.8 2038.9,219.2 2039.7,218.6 2040.6,218.1 2041.5,217.5 2042.4,217.0 2043.3,216.4 2044.3,215.9 2045.2,215.3 2046.0,214.7 2046.7,214.2 2047.5,213.6 2048.2,213.1 2049.0,212.5 2049.9,212.0 2050.8,211.4 2051.7,210.9 2052.6,210.3 2053.5,209.7 2054.2,209.2 2054.9,208.6 2055.6,208.1 2056.3,207.5 2057.0,207.0 2057.8,206.4 2058.6,205.9 2059.4,205.3 2060.1,204.8 2060.9,204.2 2061.8,203.7 2062.6,203.1 2063.5,202.6 2064.4,202.0 2065.2,201.5 2066.0,200.9 2066.8,200.4 2067.5,199.8 2068.3,199.3 2069.1,198.7 2070.0,198.2 2070.9,197.6 2071.9,197.1 2072.8,196.6 2073.7,196.0 2074.7,195.5 2075.6,195.0 2076.5,194.4 2077.4,193.9 2078.4,193.4 2079.3,192.8 2080.2,192.3 2081.1,191.8 2082.0,191.3 2082.9,190.8 2083.6,190.3 2084.3,189.7 2085.0,189.2 2085.7,188.7 2086.4,188.2 2087.4,187.7 2088.4,187.2 2089.4,186.7 2090.3,186.3 2091.2,185.8 2092.1,185.3 2092.9,184.8 2093.8,184.3 2094.6,183.9 2095.5,183.4 2134.9,184.3"/>
<polyline stroke="#FF0000" stroke-width="12" points="2134.9,184.3 2134.5,185.2 2134.1,186.1 2133.7,187.0 2133.4,188.0 2133.0,188.9 2132.5,189.8 2131.9,190.7 2131.4,191.6 2131.0,192.5 2130.7,193.4 2130.3,194.3 2130.0,195.3 2129.4,196.2 2128.7,197.1 2128.1,198.0 2127.5,198.9 2127.4,199.8 2127.4,200.7 2127.4,201.6 2127.4,202.5 2126.9,203.4 2126.5,204.3 2126.1,205.2 2125.6,206.1 2124.8,207.0 2123.9,207.9 2123.1,208.8 2122.4,209.7 2122.4,210.6 2122.3,211.5 2122.3,212.4 2122.2,213.3 2121.4,214.2 2120.6,215.1 2119.8,216.0 2119.0,216.9 2118.7,217.8 2118.3,218.7 2117.9,219.6 2117.6,220.5 2117.3,221.4 2117.0,222.3 2116.7,223.2 2116.4,224.1 2116.1,225.0 2115.8,225.9 2115.5,226.8 2115.2,227.7 2114.7,228.6 2114.2,229.5 2113.7,230.4 2113.1,231.3 2112.3,232.2 2111.5,233.0 2110.6,233.9 2109.9,234.8 2109.7,235.7 2109.5,236.6 2109.3,237.5 2109.0,238.4 2108.5,239.3 2108.1,240.2 2107.7,241.1 2107.2,242.0 2106.7,242.9 2106.2,243.7 2105.8,244.6 2105.3,245.5 2105.0,246.4 2104.6,247.3 2104.3,248.2 2103.9,249.1 2103.1,250.0 2102.4,250.9 2101.7,251.7 2101.1,252.6 2100.9,253.5 2100.7,254.4 2100.5,255.3 2100.2,256.2 2099.4,257.1 2098.6,258.0 2097.8,258.8 2097.1,259.7 2096.7,260.6 2096.3,261.5 2095.9,262.4 2095.4,263.3 2095.0,264.2 2094.5,265.1 2094.0,265.9 2093.6,266.8 2093.2,267.7 2092.8,268.6 2092.5,269.5 2092.1,270.4 2091.8,271.3 2091.5,272.1 2091.2,273.0 2090.8,273.9 2090.3,274.8 2089.7,275.7 2089.2,276.6 2088.7,277.5 2088.4,278.4 2088.1,279.2 2087.8,280.1 2087.3,281.0 2086.6,281.9 2085.9,282.8 2085.2,283.7 2084.7,284.6 2084.4,285.5 2084.2,286.3 2083.9,287.2 2083.6,288.1 2083.1,289.0 2082.6,289.9 2082.1,290.8 2081.6,291.7 2081.0,292.6 2080.3,293.4 2079.7,294.3 2079.2,295.2 2078.7,296.1 2078.2,297.0 2077.8,297.9 2077.5,298.8 2077.3,299.7 2077.1,300.5 2076.9,301.4 2076.6,302.3 2076.0,303.2 2075.3,304.1 2074.7,305.0 2074.2,305.9 2073.9,306.8 2073.6,307.6 2073.3,308.5 2072.9,309.4 2072.3,310.3 2071.8,311.2 2071.3,312.1 2070.8,313.0 2070.3,313.9 2069.9,314.8 2069.5,315.6 2068.9,316.5 2068.3,317.4 2067.6,318.3 2067.0,319.2 2066.4,320.1 2066.0,321.0 2065.6,321.9 2065.1,322.8 2064.7,323.6 2064.2,324.5 2063.7,325.4 2063.2,326.3 2062.9,327.2 2062.7,328.1 2062.5,329.0 2062.3,329.9 2061.8,330.8 2061.0,331.6 2060.1,332.5 2059.3,333.4 2058.9,334.3 2058.8,335.2 2058.7,336.1 2058.6,337.0 2058.1,337.9 2057.4,338.8 2056.7,339.6 2056.0,340.5 2055.5,341.4 2055.0,342.3 2054.5,343.2 2054.1,344.1 2053.6,345.0 2053.2,345.9 2052.8,346.8 2052.3,347.6 2051.9,348.5 2051.4,349.4 2050.9,350.3 2050.4,351.2 2049.9,352.1 2049.5,353.0 2049.1,353.9 2048.7,354.8 2048.1,355.7 2047.5,356.5 2046.8,357.4 2046.1,358.3 2045.6,359.2 2045.2,360.1 2044.8,361.0 2044.3,361.9 2044.1,362.8 2043.9,363.7 2043.8,364.6 2043.6,365.4 2043.2,366.3 2042.7,367.2 2042.2,368.1 2041.7,369.0 2041.0,369.9 2040.3,370.8 2039.6,371.7 2038.9,372.6 2038.4,373.5 2038.1,374.3 2037.7,375.2 2037.4,376.1 2037.0,377.0 2036.5,377.9 2036.0,378.8 2035.5,379.7 2035.0,380.6 2034.4,381.5 2033.9,382.4 2033.4,383.3 2033.1,384.1 2032.8,385.0 2032.6,385.9 2032.3,386.8 2031.9,387.7 2031.4,388.6 2030.9,389.5 2030.4,390.4 2029.8,391.3 2029.2,392.2 2028.5,393.1 2027.9,393.9 2027.6,394.8 2027.4,395.7 2027.2,396.6 2027.0,397.5 2026.6,398.4 2026.3,399.3 2025.9,400.2 2025.6,401.1 2024.9,402.0 2024.1,402.8 2023.4,403.7 2022.6,404.6 2022.2,405.5 2021.8,406.4 2021.4,407.3 2021.0,408.2 2020.7,409.1 2020.4,410.0 2020.1,410.9 2019.9,411.8 2019.4,412.7 2018.8,413.5 2018.3,414.4 2017.8,415.3 2017.3,416.2 2016.9,417.1 2016.4,418.0 2016.0,418.9 2015.5,419.8 2015.1,420.7 2014.6,421.6 2014.1,422.5 2013.8,423.3 2013.6,424.2 2013.3,425.1 2013.1,426.0 2012.5,426.9 2011.9,427.8 2011.3,428.7 2010.7,429.6 2010.3,430.5 2009.8,431.4 2009.4,432.3 2008.9,433.2 2008.4,434.0 2007.9,434.9 2007.3,435.8 2006.8,436.7 2006.4,437.6 2005.9,438.5 2005.5,439.4 2005.1,440.3 2004.8,441.2 2004.5,442.1 2004.3,443.0 2004.0,443.9 2003.2,444.7 2002.5,445.6 2001.7,446.5 2001.0,447.4 2000.8,448.3 2000.7,449.2 2000.6,450.1 2000.5,451.0 1999.6,451.9 1998.8,452.8 1997.9,453.7 1997.1,454.6 1996.9,455.4 1996.7,456.3 1996.4,457.2 1996.2,458.1 1995.5,459.0 1994.8,459.9 1994.1,460.8 1993.4,461.7 1993.2,462.6 1993.1,463.5 1992.9,464.4 1992.7,465.3 1992.3,466.1 1991.8,467.0 1991.3,467.9 1990.9,468.8 1990.5,469.7 1990.2,470.6 1989.8,471.5 1989.5,472.4 1989.0,473.3 1988.6,474.2 1988.2,475.1 1987.8,476.0 1987.1,476.8 1986.4,477.7 1985.7,478.6 1985.1,479.5 1984.7,480.4 1984.4,481.3 1984.0,482.2 1983.7,483.1 1983.3,484.0 1983.0,484.9 1982.7,485.8 1982.3,486.7 1981.7,487.5 1981.1,488.4 1980.5,489.3 1979.9,490.2 1979.4,491.1 1978.8,492.0 1978.2,492.9 1977.6,493.8 1977.2,494.7 1976.7,495.6 1976.3,496.5 1975.8,497.4 1975.3,498.2 1974.9,499.1 1974.4,500.0 1974.0,500.9 1973.8,501.8 1973.7,502.7 1973.5,503.6 1973.3,504.5 1972.6,505.4 1971.9,506.3 1971.2,507.2 1970.6,508.1 1970.4,508.9 1970.2,509.8 1970.0,510.7 1969.7,511.6 1969.2,512.5 1968.7,513.4 1968.2,514.3 1967.7,515.2 1967.2,516.1 1966.6,517.0 1966.1,517.9 1965.5,518.8 1964.7,519.7 1964.0,520.5 1963.2,521.4 1962.7,522.3 1962.6,523.2 1962.6,524.1 1962.5,525.0 1962.4,525.9 1961.9,526.8 1961.5,527.7 1961.0,528.6 1960.4,529.5 1959.6,530.4 1958.7,531.2 1957.9,532.1 1957.2,533.0 1957.0,533.9 1956.9,534.8 1956.7,535.7 1956.4,536.6 1955.8,537.5 1955.3,538.4 1954.7,539.3 1954.2,540.2 1953.9,541.0 1953.5,541.9 1953.1,542.8 1952.7,543.7 1952.3,544.6 1951.9,545.5 1951.4,546.4 1951.0,547.3 1950.5,548.2 1950.0,549.1 1949.6,550.0 1949.1,550.9 1948.5,551.7 1947.9,552.6 1947.3,553.5 1946.7,554.4 1946.2,555.3 1945.6,556.2 1945.1,557.1 1944.7,558.0 1944.6,558.9 1944.4,559.8 1944.3,560.7 1944.1,561.6 1943.7,562.4 1943.3,563.3 1942.9,564.2 1942.3,565.1 1941.5,566.0 1940.7,566.9 1939.9,567.8 1939.3,568.7 1938.9,569.6 1938.4,570.5 1938.0,571.4 1937.6,572.2 1937.2,573.1 1936.8,574.0 1936.4,574.9 1936.0,575.8 1935.6,576.7 1935.1,577.6 1934.7,578.5 1934.4,579.4 1934.1,580.3 1933.9,581.2 1933.6,582.0 1933.1,582.9 1932.4,583.8 1931.6,584.7 1930.8,585.6 1930.3,586.5 1929.9,587.4 1929.6,588.3 1929.2,589.2 1928.9,590.1 1928.5,591.0 1928.2,591.8 1927.8,592.7 1927.4,593.6 1926.9,594.5 1926.3,595.4 1925.8,596.3 1925.3,597.2 1924.8,598.1 1924.2,599.0 1923.7,599.9 1923.3,600.8 1923.1,601.6 1922.8,602.5 1922.6,603.4 1922.0,604.3 1921.3,605.2 1920.5,606.1 1919.8,607.0 1919.2,607.9 1918.8,608.8 1918.4,609.7 1917.9,610.5 1917.5,611.4 1917.2,612.3 1916.8,613.2 1916.5,614.1 1916.1,615.0 1915.9,615.9 1915.6,616.8 1915.3,617.7 1914.7,618.6 1914.1,619.4 1913.4,620.3 1912.7,621.2 1912.1,622.1 1911.6,623.0 1911.0,623.9 1910.5,624.8 1910.3,625.7 1910.2,626.6 1910.1,627.5 1910.0,628.3 1909.4,629.2 1908.6,630.1 1907.8,631.0 1907.0,631.9 1906.6,632.8 1906.3,633.7 1906.1,634.6 1905.8,635.5 1905.3,636.4 1904.7,637.2 1904.1,638.1 1903.5,639.0 1903.2,639.9 1902.9,640.8 1902.6,641.7 1902.2,642.6 1901.8,643.5 1901.4,644.4 1901.0,645.2 1900.5,646.1 1899.8,647.0 1899.1,647.9 1898.4,648.8 1897.7,649.7 1897.3,650.6 1896.9,651.5 1896.6,652.4 1896.3,653.2 1895.8,654.1 1895.4,655.0 1894.9,655.9 1894.4,656.8 1893.9,657.7 1893.4,658.6 1892.9,659.5 1892.3,660.4 1891.8,661.2 1891.3,662.1 1890.7,663.0 1890.2,663.9 1889.7,664.8 1889.3,665.7 1888.8,666.6 1888.3,667.5 1888.1,668.4 1887.9,669.2 1887.7,670.1 1887.5,671.0 1886.9,671.9 1886.2,672.8 1885.5,673.7 1884.8,674.6 1884.4,675.5 1884.1,676.4 1883.7,677.2 1883.4,678.1 1883.2,679.0 1883.0,679.9 1882.8,680.8 1882.7,681.7 1882.2,682.6 1881.7,683.5 1881.2,684.3 1880.7,685.2 1880.3,686.1 1879.8,687.0 1879.4,687.9 1878.9,688.8 1878.2,689.7 1877.4,690.6 1876.6,691.4 1875.8,692.3 1875.3,693.2 1874.9,694.1 1874.6,695.0 1874.2,695.9 1873.7,696.8 1873.2,697.7 1872.7,698.5 1872.2,699.4 1871.8,700.3 1871.5,701.2 1871.1,702.1 1870.8,703.0 1870.3,703.9 1869.9,704.8 1869.5,705.6 1869.0,706.5 1868.5,707.4 1868.0,708.3 1867.5,709.2 1866.9,710.1 1866.6,711.0 1866.3,711.8 1866.0,712.7 1865.7,713.6 1865.2,714.5 1864.7,715.4 1864.2,716.3 1863.7,717.2 1863.2,718.1 1862.7,718.9 1862.3,719.8 1861.8,720.7 1861.1,721.6 1860.4,722.5 1859.7,723.4 1859.1,724.3 1858.9,725.1 1858.7,726.0 1858.5,726.9 1858.3,727.8 1857.8,728.7 1857.3,729.6 1856.7,730.5 1856.2,731.3 1855.6,732.2 1855.0,733.1 1854.4,734.0 1853.8,734.9 1853.3,735.8 1852.9,736.7 1852.5,737.5 1852.1,738.4 1851.9,739.3 1851.7,740.2 1851.5,741.1 1851.2,742.0 1850.5,742.9 1849.7,743.7 1849.0,744.6 1848.3,745.5 1847.8,746.4 1847.3,747.3 1846.9,748.2 1846.4,749.0 1846.1,749.9 1845.7,750.8 1845.4,751.7 1845.0,752.6 1844.5,753.5 1844.1,754.4 1843.6,755.2 1843.1,756.1 1842.4,757.0 1841.6,757.9 1840.9,758.8 1840.2,759.7 1840.0,760.5 1839.8,761.4 1839.6,762.3 1839.3,763.2 1839.0,764.1 1838.6,765.0 1838.2,765.8 1837.8,766.7 1837.4,767.6 1837.1,768.5 1836.7,769.4 1836.2,770.3 1835.7,771.2 1835.1,772.0 1834.5,772.9 1833.9,773.8 1833.1,774.7 1832.4,775.6 1831.7,776.5 1831.0,777.3 1830.6,778.2 1830.2,779.1 1829.8,780.0 1829.4,780.9 1829.0,781.7 1828.6,782.6 1828.2,783.5 1827.8,784.4 1827.4,785.3 1827.1,786.2 1826.7,787.0 1826.2,787.9 1825.5,788.8 1824.8,789.7 1824.1,790.6 1823.5,791.5 1823.2,792.3 1822.8,793.2 1822.5,794.1 1822.1,795.0 1821.6,795.9 1821.1,796.8 1820.6,797.6 1820.2,798.5 1820.0,799.4 1819.8,800.3 1819.6,801.2 1819.4,802.0 1818.9,802.9 1818.4,803.8 1817.9,804.7 1817.4,805.6 1816.9,806.4 1816.3,807.3 1815.7,808.2 1815.1,809.1 1814.6,810.0 1814.0,810.9 1813.4,811.7 1812.8,812.6 1812.2,813.5 1811.5,814.4 1810.9,815.3 1810.5,816.1 1810.4,817.0 1810.2,817.9 1810.1,818.8 1809.9,819.7 1809.4,820.5 1808.9,821.4 1808.4,822.3 1807.9,823.2 1807.4,824.1 1806.9,824.9 1806.4,825.8 1805.8,826.7 1804.9,827.6 1804.1,828.5 1803.2,829.3 1802.7,830.2 1802.5,831.1 1802.4,832.0 1802.2,832.9 1801.8,833.7 1801.0,834.6 1800.2,835.5 1799.5,836.4 1799.0,837.3 1798.9,838.1 1798.8,839.0 1798.7,839.9 1798.3,840.8 1797.7,841.7 1797.0,842.5 1796.4,843.4 1796.0,844.3 1795.7,845.2 1795.4,846.0 1795.1,846.9 1794.5,847.8 1793.8,848.7 1793.1,849.6 1792.4,850.4 1791.8,851.3 1791.4,852.2 1791.0,853.1 1790.6,853.9 1790.2,854.8 1789.8,855.7 1789.4,856.6 1789.0,857.5 1788.4,858.3 1787.7,859.2 1787.0,860.1 1786.3,861.0 1785.8,861.8 1785.5,862.7 1785.2,863.6 1784.9,864.5 1784.5,865.4 1784.1,866.2 1783.7,867.1 1783.3,868.0 1782.8,868.9 1782.2,869.7 1781.6,870.6 1780.9,871.5 1780.4,872.4 1779.8,873.2 1779.3,874.1 1778.8,875.0 1778.3,875.9 1777.9,876.7 1777.5,877.6 1777.0,878.5 1776.7,879.4 1776.4,880.3 1776.1,881.1 1775.8,882.0 1775.4,882.9 1774.9,883.8 1774.5,884.6 1774.0,885.5 1773.4,886.4 1772.8,887.3 1772.2,888.1 1771.5,889.0 1771.0,889.9 1770.6,890.8 1770.2,891.6 1769.7,892.5 1769.3,893.4 1768.9,894.3 1768.5,895.1 1768.1,896.0 1767.4,896.9 1766.5,897.7 1765.7,898.6 1764.8,899.5 1764.2,900.4 1763.6,901.2 1763.1,902.1 1762.6,903.0 1762.3,903.9 1762.2,904.7 1762.0,905.6 1761.8,906.5 1761.4,907.4 1760.8,908.2 1760.3,909.1 1759.7,910.0 1759.1,910.9 1758.3,911.7 1757.6,912.6 1756.9,913.5 1756.5,914.3 1756.2,915.2 1755.9,916.1 1755.6,917.0 1755.1,917.8 1754.7,918.7 1754.2,919.6 1753.7,920.5 1753.1,921.3 1752.5,922.2 1751.9,923.1 1751.3,923.9 1750.8,924.8 1750.3,925.7 1749.8,926.6 1749.3,927.4 1748.8,928.3 1748.2,929.2 1747.7,930.0 1747.2,930.9 1746.8,931.8 1746.5,932.7 1746.2,933.5 1745.9,934.4 1745.3,935.3 1744.6,936.1 1743.9,937.0 1743.2,937.9 1742.9,938.7 1742.7,939.6 1742.4,940.5 1742.2,941.4 1741.8,942.2 1741.4,943.1 1740.9,944.0 1740.5,944.8 1740.0,945.7 1739.4,946.6 1738.8,947.4 1738.2,948.3 1737.6,949.2 1736.9,950.1 1736.2,950.9 1735.5,951.8 1735.1,952.7 1734.6,953.5 1734.2,954.4 1733.8,955.3 1733.3,956.1 1732.9,957.0 1732.4,957.9 1732.0,958.7 1731.4,959.6 1730.8,960.5 1730.3,961.3 1729.7,962.2 1729.3,963.1 1728.9,963.9 1728.5,964.8 1728.1,965.7 1727.6,966.5 1727.2,967.4 1726.8,968.3 1726.3,969.2 1725.6,970.0 1725.0,970.9 1724.3,971.8 1723.6,972.6 1723.1,973.5 1722.6,974.4 1722.0,975.2 1721.5,976.1 1721.3,977.0 1721.0,977.8 1720.8,978.7 1720.5,979.5 1720.0,980.4 1719.5,981.3 1719.0,982.1 1718.5,983.0 1717.6,983.9 1716.8,984.7 1716.0,985.6 1715.2,986.5 1715.0,987.3 1714.7,988.2 1714.5,989.1 1714.2,989.9 1713.5,990.8 1712.7,991.7 1712.0,992.5 1711.3,993.4 1711.0,994.3 1710.7,995.1 1710.4,996.0 1710.0,996.8 1709.4,997.7 1708.8,998.6 1708.2,999.4 1707.6,1000.3 1707.3,1001.2 1707.1,1002.0 1706.8,1002.9 1706.5,1003.8 1705.6,1004.6 1704.8,1005.5 1704.0,1006.3 1703.2,1007.2 1703.1,1008.1 1702.9,1008.9 1702.8,1009.8 1702.5,1010.7 1701.8,1011.5 1701.0,1012.4 1700.3,1013.2 1699.5,1014.1 1698.9,1015.0 1698.3,1015.8 1697.7,1016.7 1697.2,1017.6 1696.8,1018.4 1696.5,1019.3 1696.1,1020.1 1695.7,1021.0 1695.0,1021.9 1694.3,1022.7 1693.6,1023.6 1693.1,1024.4 1692.8,1025.3 1692.6,1026.2 1692.4,1027.0 1692.1,1027.9 1691.4,1028.7 1690.7,1029.6 1690.1,1030.5 1689.4,1031.3 1688.9,1032.2 1688.4,1033.0 1687.8,1033.9 1687.3,1034.8 1686.7,1035.6 1686.1,1036.5 1685.4,1037.3 1684.9,1038.2 1684.4,1039.1 1683.9,1039.9 1683.4,1040.8 1683.0,1041.6 1682.6,1042.5 1682.3,1043.4 1681.9,1044.2 1681.4,1045.1 1680.7,1045.9 1680.0,1046.8 1679.3,1047.6 1678.8,1048.5 1678.4,1049.4 1678.1,1050.2 1677.7,1051.1 1677.4,1051.9 1677.1,1052.8 1676.8,1053.6 1676.4,1054.5 1676.0,1055.4 1675.2,1056.2 1674.5,1057.1 1673.7,1057.9 1673.0,1058.8 1672.4,1059.6 1671.8,1060.5 1671.1,1061.3 1670.7,1062.2 1670.4,1063.1 1670.2,1063.9 1670.0,1064.8 1669.6,1065.6 1669.0,1066.5 1668.4,1067.3 1667.8,1068.2 1667.3,1069.0 1666.7,1069.9 1666.2,1070.8 1665.7,1071.6 1665.0,1072.5 1664.3,1073.3 1663.5,1074.2 1662.8,1075.0 1662.2,1075.9 1661.8,1076.7 1661.4,1077.6 1660.9,1078.4 1660.5,1079.3 1660.0,1080.1 1659.6,1081.0 1659.1,1081.9 1658.6,1082.7 1658.0,1083.6 1657.5,1084.4 1656.9,1085.3 1656.3,1086.1 1655.7,1087.0 1655.1,1087.8 1654.5,1088.7 1654.0,1089.5 1653.5,1090.4 1652.9,1091.2 1652.4,1092.1 1651.9,1092.9 1651.3,1093.8 1650.7,1094.6 1650.2,1095.5 1649.8,1096.3 1649.5,1097.2 1649.2,1098.0 1649.0,1098.9 1648.4,1099.7 1647.6,1100.6 1646.8,1101.4 1646.0,1102.3 1645.4,1103.1 1645.0,1104.0 1644.6,1104.8 1644.1,1105.7 1643.6,1106.5 1643.2,1107.4 1642.7,1108.2 1642.2,1109.1 1641.6,1109.9 1640.9,1110.8 1640.2,1111.6 1639.5,1112.5 1638.9,1113.3 1638.4,1114.2 1638.0,1115.0 1637.5,1115.9 1637.0,1116.7 1636.5,1117.6 1635.9,1118.4 1635.4,1119.3 1635.0,1120.1 1634.8,1121.0 1634.5,1121.8 1634.3,1122.6 1633.7,1123.5 1632.9,1124.3 1632.1,1125.2 1631.4,1126.0 1630.9,1126.9 1630.6,1127.7 1630.3,1128.6 1630.0,1129.4 1629.4,1130.3 1628.7,1131.1 1628.0,1131.9 1627.2,1132.8 1626.7,1133.6 1626.3,1134.5 1625.9,1135.3 1625.6,1136.2 1625.1,1137.0 1624.5,1137.8 1624.0,1138.7 1623.4,1139.5 1622.8,1140.4 1622.0,1141.2 1621.3,1142.1 1620.6,1142.9 1620.0,1143.7 1619.6,1144.6 1619.1,1145.4 1618.7,1146.3 1618.2,1147.1 1617.8,1147.9 1617.4,1148.8 1617.0,1149.6 1616.4,1150.5 1615.8,1151.3 1615.3,1152.1 1614.7,1153.0 1614.1,1153.8 1613.6,1154.7 1613.1,1155.5 1612.5,1156.3 1611.8,1157.2 1611.0,1158.0 1610.2,1158.9 1609.4,1159.7 1609.1,1160.5 1608.9,1161.4 1608.7,1162.2 1608.6,1163.0 1608.1,1163.9 1607.6,1164.7 1607.0,1165.5 1606.4,1166.4 1605.6,1167.2 1604.8,1168.1 1603.9,1168.9 1603.0,1169.7 1602.5,1170.6 1602.0,1171.4 1601.6,1172.2 1601.1,1173.1 1600.8,1173.9 1600.5,1174.7 1600.1,1175.6 1599.8,1176.4 1599.1,1177.2 1598.4,1178.1 1597.6,1178.9 1596.8,1179.7 1596.2,1180.5 1595.7,1181.4 1595.1,1182.2 1594.5,1183.0 1594.1,1183.9 1593.7,1184.7 1593.2,1185.5 1592.8,1186.4 1592.0,1187.2 1591.2,1188.0 1590.4,1188.8 1589.6,1189.7 1589.3,1190.5 1589.1,1191.3 1588.8,1192.2 1588.6,1193.0 1587.7,1193.8 1586.7,1194.6 1585.8,1195.5 1584.8,1196.3 1584.3,1197.1 1583.7,1197.9 1583.2,1198.8 1582.7,1199.6 1582.2,1200.4 1581.8,1201.2 1581.4,1202.1 1580.9,1202.9 1580.3,1203.7 1579.7,1204.5 1579.1,1205.3 1578.4,1206.2 1578.0,1207.0 1577.6,1207.8 1577.1,1208.6 1576.6,1209.5 1575.9,1210.3 1575.3,1211.1 1574.7,1211.9 1574.1,1212.7 1573.6,1213.5 1573.1,1214.4 1572.6,1215.2 1572.0,1216.0 1567.0,1221.5 1556.0,1227.0 1552.0,1231.0 1549.3,1240.0 1548.7,1240.8 1548.0,1241.6 1547.3,1242.3 1546.6,1243.1 1546.1,1243.9 1545.6,1244.7 1545.1,1245.5 1544.7,1246.3 1544.1,1247.0 1543.6,1247.8 1543.1,1248.6 1542.6,1249.4 1542.0,1250.2 1541.3,1251.0 1540.7,1251.7 1540.0,1252.5 1539.1,1253.3 1538.2,1254.1 1537.4,1254.9 1536.7,1255.7 1536.1,1256.4 1535.6,1257.2 1535.0,1258.0 1534.4,1258.8 1533.9,1259.6 1533.3,1260.3 1532.8,1261.1 1532.1,1261.9 1531.4,1262.7 1530.7,1263.5 1530.1,1264.3 1529.4,1265.0 1528.9,1265.8 1528.3,1266.6 1527.7,1267.4 1526.7,1268.2 1525.8,1268.9 1524.8,1269.7 1523.9,1270.5 1523.4,1271.3 1522.9,1272.1 1522.4,1272.8 1521.8,1273.6 1521.1,1274.4 1520.3,1275.2 1519.6,1276.0 1519.0,1276.7 1518.8,1277.5 1518.5,1278.3 1518.2,1279.1 1517.7,1279.9 1516.8,1280.6 1516.0,1281.4 1515.1,1282.2 1514.5,1283.0 1514.0,1283.8 1513.5,1284.5 1513.0,1285.3 1512.3,1286.1 1511.4,1286.9 1510.6,1287.7 1509.8,1288.5 1509.2,1289.3 1508.6,1290.1 1508.1,1290.9 1507.5,1291.7 1506.8,1292.5 1506.0,1293.3 1505.3,1294.1 1504.6,1294.9 1504.1,1295.7 1503.7,1296.5 1503.3,1297.3 1502.9,1298.2 1502.5,1299.0 1502.2,1299.8 1501.9,1300.6 1501.4,1301.4 1500.4,1302.2 1499.5,1303.0 1498.6,1303.8 1497.8,1304.6 1497.3,1305.4 1496.7,1306.2 1496.2,1307.1 1495.7,1307.9 1495.4,1308.7 1495.1,1309.5 1494.8,1310.3 1494.0,1311.1 1493.0,1311.9 1492.1,1312.7 1491.3,1313.5 1490.7,1314.3 1490.2,1315.1 1489.6,1316.0 1489.1,1316.8 1488.6,1317.6 1488.1,1318.4 1487.6,1319.2 1487.0,1320.0 1478.0,1334.5 1466.5,1334.5"/>
<polyline stroke="#4A7EBB" points="228.2,1332.0 229.0,1331.5 229.9,1331.1 230.7,1330.6 231.6,1330.1 232.5,1329.7 233.4,1329.2 234.4,1328.7 235.3,1328.2 236.3,1327.8 237.3,1327.3 238.0,1326.8 238.7,1326.4 239.4,1325.9 240.1,1325.4 240.8,1325.0 241.7,1324.5 242.7,1324.0 243.6,1323.6 244.5,1323.1 245.5,1322.6 246.3,1322.1 247.1,1321.7 248.0,1321.2 248.8,1320.7 249.7,1320.3 250.6,1319.8 251.6,1319.3 252.5,1318.9 253.5,1318.4 254.4,1317.9 255.4,1317.4 256.4,1317.0 257.4,1316.5 258.4,1316.0 259.3,1315.6 260.1,1315.1 260.9,1314.6 261.7,1314.1 262.5,1313.7 263.3,1313.2 264.2,1312.7 265.2,1312.3 266.1,1311.8 267.1,1311.3 268.0,1310.8 268.8,1310.4 269.5,1309.9 270.3,1309.4 271.0,1309.0 271.8,1308.5 272.9,1308.0 274.0,1307.5 275.1,1307.1 276.2,1306.6 277.2,1306.1 277.9,1305.7 278.6,1305.2 279.3,1304.7 279.9,1304.2 280.7,1303.8 281.6,1303.3 282.4,1302.8 283.3,1302.4 284.2,1301.9 285.1,1301.4 286.1,1300.9 287.1,1300.5 288.1,1300.0 289.0,1299.5 290.0,1299.0 291.0,1298.6 292.0,1298.1 292.9,1297.6 293.9,1297.2 294.9,1296.7 295.7,1296.2 296.6,1295.7 297.4,1295.3 298.3,1294.8 299.2,1294.3 300.1,1293.8 301.1,1293.4 302.0,1292.9 302.9,1292.4 303.8,1291.9 304.7,1291.5 305.5,1291.0 306.3,1290.5 307.1,1290.0 307.9,1289.6 308.7,1289.1 309.5,1288.6 310.3,1288.1 311.0,1287.7 311.8,1287.2 312.7,1286.7 313.6,1286.2 314.5,1285.8 315.4,1285.3 316.3,1284.8 317.3,1284.3 318.2,1283.9 319.2,1283.4 320.2,1282.9 321.1,1282.4 321.8,1282.0 322.6,1281.5 323.3,1281.0 324.1,1280.5 324.9,1280.1 326.0,1279.6 327.0,1279.1 328.1,1278.6 329.1,1278.2 330.1,1277.7 331.0,1277.2 331.9,1276.7 332.8,1276.2 333.7,1275.8 334.6,1275.3 335.4,1274.8 336.2,1274.3 337.1,1273.9 337.9,1273.4 338.7,1272.9 339.6,1272.4 340.4,1272.0 341.2,1271.5 342.0,1271.0 342.8,1270.5 343.6,1270.0 344.3,1269.6 345.1,1269.1 345.9,1268.6 346.7,1268.1 347.6,1267.6 348.6,1267.2 349.5,1266.7 350.4,1266.2 351.3,1265.7 352.2,1265.3 353.0,1264.8 353.9,1264.3 354.8,1263.8 355.7,1263.3 356.6,1262.9 357.4,1262.4 358.3,1261.9 359.2,1261.4 360.1,1260.9 361.0,1260.5 362.0,1260.0 362.9,1259.5 363.8,1259.0 364.7,1258.5 365.6,1258.1 366.5,1257.6 367.4,1257.1 368.3,1256.6 369.2,1256.1 369.9,1255.7 370.7,1255.2 371.5,1254.7 372.3,1254.2 373.2,1253.7 374.2,1253.2 375.3,1252.8 376.3,1252.3 377.3,1251.8 378.3,1251.3 379.2,1250.8 380.0,1250.4 380.9,1249.9 381.7,1249.4 382.6,1248.9 383.5,1248.4 384.4,1247.9 385.3,1247.5 386.3,1247.0 387.1,1246.5 387.8,1246.0 388.5,1245.5 389.2,1245.0 389.9,1244.6 390.8,1244.1 391.7,1243.6 392.7,1243.1 393.7,1242.6 394.6,1242.1 395.6,1241.7 396.5,1241.2 397.4,1240.7 398.2,1240.2 399.1,1239.7 400.0,1239.2 400.8,1238.7 401.6,1238.3 402.4,1237.8 403.2,1237.3 404.0,1236.8 404.9,1236.3 405.8,1235.8 406.6,1235.3 407.5,1234.9 408.5,1234.4 409.4,1233.9 410.4,1233.4 411.4,1232.9 412.4,1232.4 413.3,1231.9 414.1,1231.4 414.9,1231.0 415.8,1230.5 416.6,1230.0 417.5,1229.5 418.4,1229.0 419.4,1228.5 420.3,1228.0 421.3,1227.5 422.1,1227.1 422.9,1226.6 423.7,1226.1 424.4,1225.6 425.2,1225.1 426.0,1224.6 427.0,1224.1 428.0,1223.6 428.9,1223.2 429.9,1222.7 430.8,1222.2 431.7,1221.7 432.6,1221.2 433.5,1220.7 434.4,1220.2 435.2,1219.7 436.1,1219.2 436.9,1218.7 437.8,1218.3 438.6,1217.8 439.5,1217.3 440.4,1216.8 441.3,1216.3 442.2,1215.8 443.1,1215.3 444.0,1214.8 444.8,1214.3 445.6,1213.8 446.4,1213.3 447.2,1212.8 448.0,1212.4 448.8,1211.9 449.6,1211.4 450.4,1210.9 451.2,1210.4 452.1,1209.9 452.9,1209.4 453.7,1208.9 454.5,1208.4 455.4,1207.9 456.3,1207.4 457.3,1206.9 458.3,1206.4 459.4,1205.9 460.4,1205.4 461.2,1205.0 461.9,1204.5 462.5,1204.0 463.2,1203.5 463.9,1203.0 464.7,1202.5 465.7,1202.0 466.6,1201.5 467.6,1201.0 468.5,1200.5 469.4,1200.0 470.2,1199.5 471.0,1199.0 471.8,1198.5 472.7,1198.0 473.6,1197.5 474.5,1197.0 475.5,1196.5 476.5,1196.0 477.5,1195.5 478.4,1195.0 479.4,1194.5 480.3,1194.0 481.3,1193.5 482.2,1193.0 483.0,1192.5 483.7,1192.0 484.4,1191.5 485.1,1191.0 485.8,1190.5 486.8,1190.0 487.8,1189.6 488.8,1189.1 489.8,1188.6 490.8,1188.1 491.7,1187.6 492.5,1187.1 493.4,1186.6 494.2,1186.1 495.1,1185.6 496.0,1185.1 496.8,1184.5 497.6,1184.0 498.4,1183.5 499.3,1183.0 500.0,1182.5 500.8,1182.0 501.5,1181.5 502.3,1181.0 503.0,1180.5 504.0,1180.0 505.0,1179.5 506.0,1179.0 507.1,1178.5 508.1,1178.0 508.9,1177.5 509.7,1177.0 510.4,1176.5 511.2,1176.0 512.0,1175.5 512.9,1175.0 513.8,1174.5 514.8,1174.0 515.7,1173.5 516.6,1173.0 517.5,1172.5 518.2,1172.0 519.0,1171.5 519.8,1171.0 520.6,1170.5 521.5,1170.0 522.5,1169.4 523.5,1168.9 524.5,1168.4 525.4,1167.9 526.3,1167.4 527.1,1166.9 527.9,1166.4 528.7,1165.9 529.6,1165.4 530.3,1164.9 531.0,1164.4 531.7,1163.9 532.4,1163.4 533.1,1162.9 534.0,1162.3 534.8,1161.8 535.7,1161.3 536.6,1160.8 537.4,1160.3 538.5,1159.8 539.5,1159.3 540.6,1158.8 541.6,1158.3 542.6,1157.8 543.4,1157.3 544.1,1156.7 544.9,1156.2 545.6,1155.7 546.3,1155.2 547.2,1154.7 548.0,1154.2 548.9,1153.7 549.8,1153.2 550.6,1152.7 551.4,1152.1 552.2,1151.6 552.9,1151.1 553.7,1150.6 554.4,1150.1 555.4,1149.6 556.5,1149.1 557.5,1148.6 558.5,1148.0 559.5,1147.5 560.5,1147.0 561.4,1146.5 562.3,1146.0 563.2,1145.5 564.1,1145.0 565.0,1144.4 565.9,1143.9 566.7,1143.4 567.6,1142.9 568.5,1142.4 569.2,1141.9 569.8,1141.3 570.5,1140.8 571.2,1140.3 571.8,1139.8 572.8,1139.3 573.9,1138.8 574.9,1138.2 576.0,1137.7 577.0,1137.2 577.7,1136.7 578.3,1136.2 579.0,1135.7 579.7,1135.1 580.3,1134.6 581.2,1134.1 582.2,1133.6 583.1,1133.1 584.0,1132.5 584.9,1132.0 585.7,1131.5 586.6,1131.0 587.5,1130.5 588.3,1129.9 589.2,1129.4 590.1,1128.9 591.0,1128.4 591.9,1127.9 592.8,1127.3 593.7,1126.8 594.5,1126.3 595.4,1125.8 596.2,1125.2 597.1,1124.7 597.9,1124.2 598.7,1123.7 599.6,1123.2 600.5,1122.6 601.3,1122.1 602.2,1121.6 603.0,1121.1 603.9,1120.5 604.7,1120.0 605.6,1119.5 606.4,1119.0 607.4,1118.4 608.4,1117.9 609.3,1117.4 610.3,1116.9 611.2,1116.3 611.9,1115.8 612.6,1115.3 613.2,1114.8 613.9,1114.2 614.5,1113.7 615.4,1113.2 616.2,1112.6 617.1,1112.1 617.9,1111.6 618.8,1111.1 619.8,1110.5 620.8,1110.0 621.8,1109.5 622.8,1108.9 623.8,1108.4 624.5,1107.9 625.2,1107.4 625.9,1106.8 626.6,1106.3 627.4,1105.8 628.3,1105.2 629.3,1104.7 630.2,1104.2 631.2,1103.6 632.1,1103.1 633.0,1102.6 634.0,1102.0 634.9,1101.5 635.8,1101.0 636.7,1100.4 637.3,1099.9 637.9,1099.4 638.5,1098.8 639.1,1098.3 639.8,1097.8 640.8,1097.2 641.8,1096.7 642.9,1096.1 643.9,1095.6 644.9,1095.1 645.5,1094.5 646.2,1094.0 646.8,1093.5 647.4,1092.9 648.1,1092.4 649.1,1091.8 650.1,1091.3 651.1,1090.8 652.0,1090.2 653.0,1089.7 653.8,1089.1 654.6,1088.6 655.4,1088.0 656.3,1087.5 657.1,1087.0 658.0,1086.4 658.9,1085.9 659.8,1085.3 660.7,1084.8 661.6,1084.2 662.5,1083.7 663.4,1083.1 664.2,1082.6 665.1,1082.0 665.9,1081.5 666.5,1081.0 667.2,1080.4 667.8,1079.9 668.4,1079.3 669.1,1078.8 669.9,1078.2 670.8,1077.7 671.6,1077.1 672.5,1076.6 673.3,1076.0 674.3,1075.4 675.3,1074.9 676.3,1074.3 677.3,1073.8 678.2,1073.2 679.1,1072.7 680.0,1072.1 680.8,1071.6 681.7,1071.0 682.5,1070.5 683.2,1069.9 683.8,1069.3 684.5,1068.8 685.2,1068.2 685.9,1067.7 686.9,1067.1 687.9,1066.5 688.8,1066.0 689.8,1065.4 690.6,1064.9 691.3,1064.3 692.0,1063.7 692.7,1063.2 693.4,1062.6 694.2,1062.1 695.1,1061.5 696.0,1060.9 696.9,1060.4 697.9,1059.8 698.8,1059.2 699.8,1058.7 700.7,1058.1 701.7,1057.5 702.7,1057.0 703.6,1056.4 704.3,1055.8 705.1,1055.2 705.9,1054.7 706.7,1054.1 707.5,1053.5 708.3,1053.0 709.0,1052.4 709.8,1051.8 710.6,1051.2 711.4,1050.7 712.1,1050.1 712.9,1049.5 713.6,1048.9 714.4,1048.4 715.2,1047.8 716.1,1047.2 717.1,1046.6 718.0,1046.1 719.0,1045.5 719.9,1044.9 720.6,1044.3 721.4,1043.7 722.1,1043.2 722.9,1042.6 723.6,1042.0 724.2,1041.4 724.8,1040.8 725.4,1040.2 726.0,1039.7 726.8,1039.1 727.8,1038.5 728.8,1037.9 729.8,1037.3 730.8,1036.7 731.7,1036.2 732.5,1035.6 733.3,1035.0 734.1,1034.4 734.9,1033.8 735.6,1033.2 736.4,1032.6 737.2,1032.0 738.0,1031.5 738.8,1030.9 739.5,1030.3 740.3,1029.7 741.1,1029.1 741.9,1028.5 742.7,1027.9 743.5,1027.3 744.3,1026.7 745.1,1026.1 745.9,1025.5 746.7,1025.0 747.4,1024.4 748.2,1023.8 749.0,1023.2 749.8,1022.6 750.6,1022.0 751.4,1021.4 752.4,1020.8 753.3,1020.2 754.2,1019.6 755.2,1019.0 756.0,1018.4 756.8,1017.8 757.6,1017.2 758.4,1016.6 759.2,1016.0 759.9,1015.4 760.6,1014.8 761.2,1014.2 761.8,1013.6 762.5,1013.0 763.3,1012.4 764.3,1011.8 765.2,1011.2 766.2,1010.6 767.2,1010.0 768.1,1009.4 768.9,1008.8 769.7,1008.2 770.5,1007.6 771.3,1007.0 772.1,1006.4 772.8,1005.8 773.6,1005.2 774.4,1004.6 775.2,1004.0 775.9,1003.4 776.6,1002.8 777.2,1002.1 777.9,1001.5 778.5,1000.9 779.3,1000.3 780.1,999.7 780.9,999.1 781.7,998.5 782.6,997.9 783.4,997.3 784.1,996.7 784.9,996.1 785.7,995.5 786.5,994.9 787.4,994.2 788.3,993.6 789.3,993.0 790.3,992.4 791.2,991.8 792.1,991.2 792.9,990.6 793.7,990.0 794.5,989.4 795.3,988.7 796.0,988.1 796.7,987.5 797.5,986.9 798.2,986.3 798.9,985.7 799.5,985.1 800.2,984.5 800.8,983.8 801.5,983.2 802.2,982.6 802.9,982.0 803.7,981.4 804.5,980.8 805.3,980.2 806.1,979.6 806.9,978.9 807.7,978.3 808.6,977.7 809.4,977.1 810.3,976.5 811.1,975.9 811.8,975.2 812.5,974.6 813.2,974.0 813.9,973.4 814.8,972.8 815.7,972.2 816.6,971.5 817.5,970.9 818.4,970.3 819.1,969.7 819.9,969.1 820.6,968.5 821.3,967.8 822.0,967.2 822.7,966.6 823.5,966.0 824.2,965.4 825.0,964.7 825.7,964.1 826.5,963.5 827.3,962.9 828.1,962.3 828.9,961.7 829.7,961.0 830.6,960.4 831.4,959.8 832.2,959.2 833.0,958.6 833.8,957.9 834.7,957.3 835.6,956.7 836.5,956.1 837.4,955.5 838.2,954.8 839.0,954.2 839.7,953.6 840.3,953.0 841.0,952.4 841.7,951.7 842.5,951.1 843.4,950.5 844.2,949.9 845.0,949.2 845.9,948.6 846.6,948.0 847.4,947.4 848.1,946.8 848.8,946.1 849.6,945.5 850.3,944.9 851.0,944.3 851.7,943.7 852.4,943.0 853.1,942.4 853.9,941.8 854.7,941.2 855.5,940.5 856.3,939.9 857.0,939.3 857.9,938.7 858.7,938.1 859.5,937.4 860.4,936.8 861.2,936.2 862.0,935.6 862.7,934.9 863.5,934.3 864.3,933.7 865.1,933.1 865.8,932.5 866.5,931.8 867.3,931.2 868.0,930.6 868.8,930.0 869.7,929.3 870.7,928.7 871.7,928.1 872.7,927.5 873.6,926.9 874.4,926.2 875.1,925.6 875.8,925.0 876.5,924.4 877.2,923.7 877.9,923.1 878.6,922.5 879.4,921.9 880.1,921.3 880.8,920.6 881.7,920.0 882.7,919.4 883.6,918.8 884.5,918.1 885.5,917.5 886.1,916.9 886.8,916.3 887.4,915.7 888.1,915.0 888.7,914.4 889.5,913.8 890.2,913.2 891.0,912.5 891.7,911.9 892.4,911.3 893.3,910.7 894.1,910.1 894.9,909.4 895.7,908.8 896.6,908.2 897.4,907.6 898.3,906.9 899.2,906.3 900.1,905.7 900.9,905.1 901.6,904.5 902.3,903.8 903.0,903.2 903.7,902.6 904.3,902.0 905.1,901.4 905.9,900.7 906.7,900.1 907.4,899.5 908.2,898.9 909.2,898.3 910.1,897.6 911.1,897.0 912.1,896.4 913.0,895.8 913.7,895.2 914.4,894.5 915.1,893.9 915.8,893.3 916.5,892.7 917.3,892.1 918.1,891.4 919.0,890.8 919.8,890.2 920.7,889.6 921.5,889.0 922.3,888.3 923.2,887.7 924.0,887.1 924.8,886.5 925.4,885.9 926.0,885.2 926.7,884.6 927.3,884.0 927.9,883.4 928.7,882.8 929.6,882.2 930.5,881.5 931.3,880.9 932.2,880.3 932.8,879.7 933.5,879.1 934.2,878.5 934.9,877.8 935.6,877.2 936.6,876.6 937.6,876.0 938.6,875.4 939.6,874.8 940.6,874.1 941.4,873.5 942.1,872.9 942.9,872.3 943.6,871.7 944.4,871.1 945.1,870.4 945.9,869.8 946.6,869.2 947.4,868.6 948.1,868.0 948.8,867.4 949.4,866.7 950.1,866.1 950.7,865.5 951.4,864.9 952.4,864.3 953.4,863.7 954.5,863.1 955.5,862.4 956.4,861.8 956.9,861.2 957.5,860.6 958.0,860.0 958.5,859.4 959.1,858.8 960.0,858.1 960.9,857.5 961.8,856.9 962.7,856.3 963.6,855.7 964.5,855.1 965.5,854.5 966.4,853.9 967.3,853.2 968.2,852.6 968.8,852.0 969.5,851.4 970.1,850.8 970.7,850.2 971.3,849.6 972.3,848.9 973.2,848.3 974.1,847.7 975.0,847.1 975.9,846.5 976.8,845.9 977.6,845.3 978.5,844.7 979.3,844.1 980.1,843.4 980.9,842.8 981.6,842.2 982.3,841.6 983.0,841.0 983.7,840.4 984.4,839.8 985.1,839.2 985.8,838.6 986.4,837.9 987.2,837.3 988.2,836.7 989.1,836.1 990.1,835.5 991.1,834.9 992.0,834.3 992.6,833.7 993.3,833.1 993.9,832.5 994.5,831.9 995.2,831.2 996.2,830.6 997.1,830.0 998.1,829.4 999.0,828.8 999.9,828.2 1000.5,827.6 1001.0,827.0 1001.6,826.4 1002.1,825.8 1002.8,825.2 1003.9,824.5 1004.9,823.9 1005.9,823.3 1006.9,822.7 1007.9,822.1 1008.6,821.5 1009.4,820.9 1010.1,820.3 1010.8,819.7 1011.5,819.1 1012.1,818.5 1012.7,817.9 1013.3,817.3 1013.9,816.7 1014.6,816.1 1015.6,815.4 1016.6,814.8 1017.5,814.2 1018.5,813.6 1019.4,813.0 1020.1,812.4 1020.7,811.8 1021.4,811.2 1022.1,810.6 1022.8,810.0 1023.7,809.4 1024.6,808.8 1025.5,808.2 1026.3,807.6 1027.2,807.0 1028.0,806.4 1028.8,805.8 1029.6,805.2 1030.4,804.6 1031.1,803.9 1031.8,803.3 1032.5,802.7 1033.2,802.1 1033.9,801.5 1034.7,800.9 1035.7,800.3 1036.7,799.7 1037.6,799.1 1038.6,798.5 1039.6,797.9 1040.4,797.3 1041.3,796.7 1042.1,796.1 1042.9,795.5 1043.7,794.9 1044.4,794.3 1045.1,793.7 1045.8,793.1 1046.5,792.5 1047.2,791.9 1048.0,791.3 1048.7,790.7 1049.5,790.1 1050.2,789.5 1051.0,788.9 1051.9,788.3 1052.7,787.7 1053.6,787.1 1054.5,786.5 1055.3,785.9 1056.0,785.3 1056.8,784.7 1057.5,784.1 1058.2,783.5 1059.0,782.9 1059.9,782.3 1060.7,781.7 1061.6,781.1 1062.4,780.5 1063.2,779.9 1064.0,779.3 1064.7,778.7 1065.5,778.1 1066.3,777.5 1067.0,776.9 1067.7,776.3 1068.4,775.7 1069.2,775.1 1069.9,774.5 1070.7,773.9 1071.7,773.3 1072.7,772.7 1073.7,772.1 1074.7,771.5 1075.6,770.9 1076.2,770.3 1076.9,769.7 1077.6,769.1 1078.2,768.5 1078.9,767.9 1079.7,767.3 1080.4,766.7 1081.1,766.1 1081.9,765.5 1082.6,765.0 1083.4,764.4 1084.2,763.8 1085.0,763.2 1085.8,762.6 1086.6,762.0 1087.5,761.4 1088.5,760.8 1089.4,760.2 1090.3,759.6 1091.1,759.0 1091.8,758.4 1092.5,757.8 1093.2,757.2 1094.0,756.6 1094.8,756.0 1095.8,755.4 1096.7,754.8 1097.7,754.2 1098.7,753.7 1099.5,753.1 1100.1,752.5 1100.7,751.9 1101.3,751.3 1102.0,750.7 1102.7,750.1 1103.5,749.5 1104.3,748.9 1105.0,748.3 1105.8,747.7 1106.6,747.1 1107.5,746.5 1108.3,745.9 1109.1,745.4 1110.0,744.8 1110.9,744.2 1111.9,743.6 1112.9,743.0 1113.9,742.4 1114.9,741.8 1115.8,741.2 1116.6,740.6 1117.4,740.0 1118.1,739.4 1118.9,738.9 1119.7,738.3 1120.6,737.7 1121.4,737.1 1122.3,736.5 1123.1,735.9 1124.0,735.3 1124.8,734.7 1125.5,734.1 1126.3,733.5 1127.1,733.0 1127.8,732.4 1128.5,731.8 1129.1,731.2 1129.8,730.6 1130.4,730.0 1131.2,729.4 1132.1,728.8 1133.0,728.2 1133.9,727.7 1134.8,727.1 1135.6,726.5 1136.4,725.9 1137.2,725.3 1138.1,724.7 1138.9,724.1 1139.6,723.5 1140.4,722.9 1141.1,722.4 1141.9,721.8 1142.6,721.2 1143.4,720.6 1144.2,720.0 1145.1,719.4 1145.9,718.8 1146.7,718.2 1147.5,717.6 1148.3,717.1 1149.1,716.5 1149.9,715.9 1150.7,715.3 1151.4,714.7 1152.2,714.1 1152.9,713.5 1153.7,712.9 1154.5,712.4 1155.4,711.8 1156.4,711.2 1157.4,710.6 1158.4,710.0 1159.4,709.4 1160.2,708.8 1161.0,708.2 1161.8,707.7 1162.6,707.1 1163.4,706.5 1164.1,705.9 1164.7,705.3 1165.3,704.7 1165.9,704.1 1166.5,703.5 1167.3,703.0 1168.2,702.4 1169.1,701.8 1169.9,701.2 1170.8,700.6 1171.7,700.0 1172.5,699.4 1173.3,698.8 1174.1,698.3 1174.9,697.7 1175.9,697.1 1176.8,696.5 1177.8,695.9 1178.7,695.3 1179.7,694.7 1180.5,694.1 1181.2,693.6 1181.9,693.0 1182.6,692.4 1183.4,691.8 1184.2,691.2 1185.0,690.6 1185.8,690.0 1186.6,689.5 1187.4,688.9 1188.1,688.3 1188.9,687.7 1189.6,687.1 1190.4,686.5 1191.1,685.9 1192.0,685.3 1192.9,684.8 1193.8,684.2 1194.7,683.6 1195.6,683.0 1196.5,682.4 1197.4,681.8 1198.3,681.2 1199.2,680.7 1200.1,680.1 1200.9,679.5 1201.8,678.9 1202.6,678.3 1203.5,677.7 1204.3,677.1 1204.9,676.5 1205.4,676.0 1206.0,675.4 1206.5,674.8 1207.0,674.2 1207.9,673.6 1208.9,673.0 1209.8,672.4 1210.8,671.9 1211.7,671.3 1212.4,670.7 1213.1,670.1 1213.8,669.5 1214.5,668.9 1215.1,668.3 1216.1,667.8 1217.2,667.2 1218.2,666.6 1219.3,666.0 1220.3,665.4 1221.1,664.8 1221.8,664.2 1222.6,663.7 1223.3,663.1 1224.1,662.5 1224.8,661.9 1225.6,661.3 1226.3,660.7 1227.1,660.1 1227.8,659.6 1228.6,659.0 1229.4,658.4 1230.2,657.8 1230.9,657.2 1231.7,656.6 1232.5,656.1 1233.2,655.5 1234.0,654.9 1234.7,654.3 1235.4,653.7 1236.5,653.1 1237.5,652.5 1238.6,652.0 1239.6,651.4 1240.7,650.8 1241.5,650.2 1242.3,649.6 1243.1,649.0 1243.9,648.5 1244.7,647.9 1245.6,647.3 1246.4,646.7 1247.2,646.1 1248.0,645.5 1248.9,645.0 1249.7,644.4 1250.5,643.8 1251.3,643.2 1252.1,642.6 1252.9,642.0 1253.4,641.4 1254.0,640.9 1254.6,640.3 1255.1,639.7 1255.7,639.1 1256.8,638.5 1257.8,637.9 1258.9,637.4 1259.9,636.8 1260.9,636.2 1261.5,635.6 1262.1,635.0 1262.7,634.5 1263.3,633.9 1263.9,633.3 1264.9,632.7 1266.0,632.1 1267.1,631.5 1268.2,631.0 1269.2,630.4 1270.0,629.8 1270.7,629.2 1271.5,628.6 1272.2,628.0 1273.0,627.5 1273.8,626.9 1274.7,626.3 1275.5,625.7 1276.4,625.1 1277.2,624.6 1278.0,624.0 1278.8,623.4 1279.6,622.8 1280.3,622.2 1281.1,621.6 1282.0,621.1 1282.8,620.5 1283.7,619.9 1284.5,619.3 1285.4,618.7 1286.2,618.2 1286.9,617.6 1287.7,617.0 1288.5,616.4 1289.2,615.8 1290.1,615.2 1291.0,614.7 1291.8,614.1 1292.7,613.5 1293.5,612.9 1294.1,612.3 1294.6,611.8 1295.2,611.2 1295.8,610.6 1296.4,610.0 1297.4,609.4 1298.4,608.9 1299.4,608.3 1300.4,607.7 1301.4,607.1 1302.2,606.5 1303.1,606.0 1304.0,605.4 1304.8,604.8 1305.7,604.2 1306.5,603.6 1307.3,603.1 1308.2,602.5 1309.0,601.9 1309.8,601.3 1310.4,600.8 1310.9,600.2 1311.5,599.6 1312.1,599.0 1312.7,598.4 1313.7,597.9 1314.6,597.3 1315.5,596.7 1316.5,596.1 1317.4,595.5 1318.3,595.0 1319.1,594.4 1319.9,593.8 1320.8,593.2 1321.6,592.7 1322.3,592.1 1323.0,591.5 1323.8,590.9 1324.5,590.3 1325.2,589.8 1326.1,589.2 1327.0,588.6 1327.8,588.0 1328.7,587.5 1329.6,586.9 1330.5,586.3 1331.5,585.7 1332.4,585.1 1333.3,584.6 1334.3,584.0 1335.1,583.4 1336.0,582.8 1336.8,582.3 1337.7,581.7 1338.5,581.1 1339.2,580.5 1340.0,580.0 1340.7,579.4 1341.4,578.8 1342.2,578.2 1343.1,577.7 1344.0,577.1 1344.9,576.5 1345.8,575.9 1346.6,575.4 1347.2,574.8 1347.8,574.2 1348.4,573.6 1349.0,573.1 1349.7,572.5 1350.6,571.9 1351.5,571.3 1352.4,570.8 1353.3,570.2 1354.1,569.6 1354.8,569.0 1355.6,568.5 1356.3,567.9 1357.0,567.3 1357.8,566.7 1358.6,566.2 1359.4,565.6 1360.3,565.0 1361.1,564.4 1362.0,563.9 1362.9,563.3 1363.8,562.7 1364.8,562.1 1365.7,561.6 1366.6,561.0 1367.4,560.4 1368.3,559.9 1369.2,559.3 1370.0,558.7 1370.8,558.1 1371.5,557.6 1372.2,557.0 1372.9,556.4 1373.7,555.8 1374.4,555.3 1375.4,554.7 1376.3,554.1 1377.2,553.6 1378.1,553.0 1379.0,552.4 1379.9,551.8 1380.8,551.3 1381.7,550.7 1382.6,550.1 1383.4,549.6 1384.2,549.0 1385.0,548.4 1385.8,547.8 1386.6,547.3 1387.4,546.7 1388.1,546.1 1388.9,545.6 1389.7,545.0 1390.5,544.4 1391.3,543.9 1392.1,543.3 1393.0,542.7 1393.8,542.1 1394.7,541.6 1395.5,541.0 1396.2,540.4 1396.9,539.9 1397.7,539.3 1398.4,538.7 1399.2,538.2 1400.1,537.6 1401.0,537.0 1401.9,536.5 1402.8,535.9 1403.7,535.3 1404.5,534.8 1405.4,534.2 1406.2,533.6 1407.0,533.1 1407.8,532.5 1408.4,531.9 1409.1,531.3 1409.7,530.8 1410.4,530.2 1411.1,529.6 1411.9,529.1 1412.7,528.5 1413.6,527.9 1414.4,527.4 1415.2,526.8 1416.2,526.2 1417.1,525.7 1418.0,525.1 1418.9,524.5 1419.8,524.0 1420.8,523.4 1421.7,522.9 1422.7,522.3 1423.6,521.7 1424.5,521.2 1425.2,520.6 1425.9,520.0 1426.6,519.5 1427.3,518.9 1428.2,518.3 1429.1,517.8 1430.1,517.2 1431.0,516.6 1432.0,516.1 1432.8,515.5 1433.4,514.9 1434.1,514.4 1434.8,513.8 1435.4,513.3 1436.2,512.7 1437.0,512.1 1437.9,511.6 1438.7,511.0 1439.5,510.4 1440.4,509.9 1441.4,509.3 1442.4,508.7 1443.4,508.2 1444.4,507.6 1445.2,507.1 1445.9,506.5 1446.6,505.9 1447.3,505.4 1448.0,504.8 1448.7,504.2 1449.6,503.7 1450.5,503.1 1451.3,502.6 1452.2,502.0 1453.1,501.4 1454.0,500.9 1454.9,500.3 1455.8,499.8 1456.7,499.2 1457.5,498.6 1458.2,498.1 1458.9,497.5 1459.6,496.9 1460.3,496.4 1461.0,495.8 1461.8,495.3 1462.5,494.7 1463.2,494.1 1464.0,493.6 1464.9,493.0 1465.9,492.5 1466.8,491.9 1467.8,491.3 1468.8,490.8 1469.7,490.2 1470.4,489.7 1471.2,489.1 1472.0,488.5 1472.7,488.0 1473.6,487.4 1474.4,486.9 1475.3,486.3 1476.1,485.7 1477.0,485.2 1477.8,484.6 1478.6,484.1 1479.4,483.5 1480.1,483.0 1480.9,482.4 1481.8,481.8 1482.8,481.3 1483.7,480.7 1484.6,480.2 1485.5,479.6 1486.4,479.0 1487.2,478.5 1487.9,477.9 1488.7,477.4 1489.5,476.8 1490.4,476.3 1491.3,475.7 1492.2,475.1 1493.2,474.6 1494.1,474.0 1494.8,473.5 1495.5,472.9 1496.3,472.4 1497.0,471.8 1497.7,471.2 1498.4,470.7 1499.2,470.1 1500.0,469.6 1500.8,469.0 1501.6,468.5 1502.5,467.9 1503.4,467.3 1504.3,466.8 1505.2,466.2 1506.2,465.7 1507.1,465.1 1508.0,464.6 1508.8,464.0 1509.7,463.4 1510.6,462.9 1511.5,462.3 1512.4,461.8 1513.3,461.2 1514.2,460.7 1515.0,460.1 1515.7,459.6 1516.4,459.0 1517.0,458.4 1517.7,457.9 1518.3,457.3 1519.1,456.8 1519.8,456.2 1520.6,455.7 1521.4,455.1 1522.2,454.6 1523.1,454.0 1524.0,453.4 1524.9,452.9 1525.8,452.3 1526.7,451.8 1527.7,451.2 1528.6,450.7 1529.5,450.1 1530.5,449.6 1531.4,449.0 1532.2,448.5 1533.0,447.9 1533.8,447.3 1534.6,446.8 1535.4,446.2 1536.3,445.7 1537.1,445.1 1538.0,444.6 1538.9,444.0 1539.8,443.5 1540.6,442.9 1541.3,442.4 1542.1,441.8 1542.8,441.3 1543.6,440.7 1544.4,440.1 1545.2,439.6 1546.0,439.0 1546.7,438.5 1547.5,437.9 1548.4,437.4 1549.3,436.8 1550.2,436.3 1551.2,435.7 1552.1,435.2 1553.0,434.6 1553.8,434.1 1554.7,433.5 1555.6,433.0 1556.4,432.4 1557.2,431.8 1558.0,431.3 1558.8,430.7 1559.6,430.2 1560.4,429.6 1561.1,429.1 1561.8,428.5 1562.4,428.0 1563.1,427.4 1563.8,426.9 1564.7,426.3 1565.6,425.8 1566.5,425.2 1567.4,424.7 1568.3,424.1 1569.2,423.6 1570.1,423.0 1571.0,422.5 1571.8,421.9 1572.7,421.3 1573.5,420.8 1574.3,420.2 1575.1,419.7 1575.9,419.1 1576.7,418.6 1577.5,418.0 1578.3,417.5 1579.1,416.9 1579.8,416.4 1580.6,415.8 1581.6,415.3 1582.6,414.7 1583.6,414.2 1584.5,413.6 1585.5,413.1 1586.2,412.5 1586.8,412.0 1587.5,411.4 1588.1,410.9 1588.8,410.3 1589.7,409.8 1590.7,409.2 1591.7,408.7 1592.6,408.1 1593.6,407.6 1594.3,407.0 1595.0,406.5 1595.7,405.9 1596.4,405.4 1597.1,404.8 1598.1,404.2 1599.0,403.7 1599.9,403.1 1600.8,402.6 1601.7,402.0 1602.7,401.5 1603.7,400.9 1604.8,400.4 1605.8,399.8 1606.8,399.3 1607.6,398.7 1608.4,398.2 1609.3,397.6 1610.1,397.1 1610.9,396.5 1611.6,396.0 1612.3,395.4 1613.0,394.9 1613.7,394.3 1614.4,393.8 1615.1,393.2 1615.9,392.7 1616.6,392.1 1617.4,391.6 1618.2,391.0 1619.2,390.5 1620.3,389.9 1621.4,389.4 1622.4,388.8 1623.5,388.3 1624.3,387.7 1625.1,387.2 1626.0,386.6 1626.8,386.1 1627.6,385.5 1628.3,385.0 1629.0,384.4 1629.6,383.9 1630.3,383.3 1631.0,382.8 1631.7,382.2 1632.5,381.7 1633.2,381.1 1634.0,380.6 1634.7,380.0 1635.6,379.5 1636.5,378.9 1637.3,378.4 1638.2,377.8 1639.0,377.3 1640.1,376.7 1641.2,376.2 1642.2,375.6 1643.3,375.0 1644.2,374.5 1644.8,373.9 1645.4,373.4 1646.1,372.8 1646.7,372.3 1647.3,371.7 1648.3,371.2 1649.2,370.6 1650.1,370.1 1651.0,369.5 1652.0,369.0 1652.7,368.4 1653.5,367.9 1654.3,367.3 1655.1,366.8 1655.9,366.2 1656.8,365.7 1657.6,365.1 1658.4,364.6 1659.2,364.0 1660.0,363.5 1660.8,362.9 1661.6,362.4 1662.4,361.8 1663.2,361.3 1664.0,360.7 1664.8,360.2 1665.6,359.6 1666.4,359.1 1667.3,358.5 1668.1,358.0 1669.0,357.4 1669.8,356.9 1670.7,356.3 1671.6,355.8 1672.5,355.2 1673.5,354.7 1674.4,354.1 1675.4,353.6 1676.3,353.0 1677.2,352.5 1678.0,351.9 1678.8,351.4 1679.5,350.8 1680.3,350.3 1681.1,349.7 1682.0,349.2 1683.0,348.6 1683.9,348.1 1684.8,347.5 1685.7,347.0 1686.5,346.4 1687.3,345.9 1688.0,345.3 1688.8,344.8 1689.6,344.2 1690.5,343.6 1691.4,343.1 1692.3,342.5 1693.2,342.0 1694.1,341.4 1694.8,340.9 1695.4,340.3 1696.1,339.8 1696.8,339.2 1697.6,338.7 1698.4,338.1 1699.3,337.6 1700.1,337.0 1700.9,336.5 1701.9,335.9 1702.9,335.4 1703.9,334.8 1705.0,334.3 1706.0,333.7 1707.0,333.2 1707.8,332.6 1708.6,332.1 1709.4,331.5 1710.3,331.0 1711.1,330.4 1711.8,329.9 1712.5,329.3 1713.3,328.8 1714.0,328.2 1714.8,327.7 1715.8,327.1 1716.7,326.6 1717.7,326.0 1718.6,325.5 1719.5,324.9 1720.3,324.4 1721.1,323.8 1721.9,323.3 1722.7,322.7 1723.6,322.2 1724.4,321.6 1725.2,321.1 1726.1,320.5 1726.9,320.0 1727.7,319.4 1728.4,318.9 1729.2,318.3 1729.9,317.8 1730.7,317.2 1731.4,316.7 1732.1,316.1 1732.8,315.6 1733.5,315.0 1734.3,314.5 1735.1,313.9 1736.1,313.4 1737.1,312.8 1738.0,312.3 1739.0,311.7 1740.0,311.2 1740.9,310.6 1741.8,310.1 1742.8,309.5 1743.7,309.0 1744.5,308.4 1745.2,307.9 1745.9,307.3 1746.6,306.8 1747.3,306.2 1748.0,305.7 1748.9,305.1 1749.8,304.6 1750.6,304.0 1751.5,303.5 1752.3,302.9 1753.0,302.4 1753.7,301.8 1754.4,301.3 1755.1,300.7 1755.9,300.2 1756.8,299.6 1757.7,299.1 1758.6,298.5 1759.5,298.0 1760.4,297.4 1761.2,296.9 1762.0,296.3 1762.7,295.8 1763.5,295.2 1764.4,294.7 1765.5,294.1 1766.5,293.6 1767.6,293.0 1768.6,292.5 1769.6,291.9 1770.5,291.4 1771.3,290.8 1772.2,290.3 1773.0,289.7 1773.9,289.2 1774.7,288.6 1775.5,288.1 1776.3,287.5 1777.1,287.0 1777.9,286.4 1778.7,285.9 1779.5,285.4 1780.2,284.8 1781.0,284.3 1781.8,283.7 1782.6,283.2 1783.4,282.6 1784.2,282.1 1785.0,281.5 1785.8,281.0 1786.6,280.4 1787.4,279.9 1788.1,279.3 1788.9,278.8 1789.7,278.2 1790.6,277.7 1791.4,277.1 1792.2,276.6 1793.0,276.0 1793.9,275.5 1794.9,274.9 1795.8,274.4 1796.8,273.8 1797.8,273.3 1798.5,272.8 1799.2,272.2 1799.8,271.7 1800.4,271.1 1801.1,270.6 1802.0,270.0 1803.1,269.5 1804.1,268.9 1805.2,268.4 1806.3,267.8 1807.1,267.3 1807.8,266.7 1808.5,266.2 1809.2,265.6 1809.9,265.1 1810.7,264.6 1811.5,264.0 1812.3,263.5 1813.1,262.9 1813.9,262.4 1814.9,261.8 1815.8,261.3 1816.8,260.7 1817.8,260.2 1818.7,259.6 1819.6,259.1 1820.3,258.5 1821.1,258.0 1821.8,257.5 1822.6,256.9 1823.5,256.4 1824.4,255.8 1825.4,255.3 1826.4,254.7 1827.3,254.2 1828.1,253.6 1828.9,253.1 1829.6,252.6 1830.3,252.0 1831.1,251.5 1831.9,250.9 1832.9,250.4 1833.8,249.8 1834.8,249.3 1835.7,248.7 1836.5,248.2 1837.2,247.6 1838.0,247.1 1838.7,246.6 1839.4,246.0 1840.3,245.5 1841.3,244.9 1842.3,244.4 1843.2,243.8 1844.2,243.3 1844.9,242.8 1845.6,242.2 1846.2,241.7 1846.8,241.1 1847.5,240.6 1848.3,240.0 1849.1,239.5 1850.0,238.9 1850.8,238.4 1851.7,237.9 1852.7,237.3 1853.7,236.8 1854.7,236.2 1855.8,235.7 1856.8,235.1 1857.7,234.6 1858.5,234.1 1859.3,233.5 1860.1,233.0 1860.9,232.4 1861.5,231.9 1862.2,231.3 1862.8,230.8 1863.5,230.3 1864.1,229.7 1865.1,229.2 1866.1,228.6 1867.1,228.1 1868.1,227.6 1869.1,227.0 1869.9,226.5 1870.6,225.9 1871.4,225.4 1872.1,224.8 1872.9,224.3 1873.7,223.8 1874.4,223.2 1875.2,222.7 1875.9,222.1 1876.7,221.6 1877.7,221.1 1878.7,220.5 1879.7,220.0 1880.7,219.4 1881.7,218.9 1882.6,218.4 1883.6,217.8 1884.5,217.3 1885.4,216.7 1886.3,216.2 1887.1,215.7 1887.9,215.1 1888.7,214.6 1889.5,214.0 1890.3,213.5 1891.1,213.0 1891.9,212.4 1892.8,211.9 1893.6,211.3 1894.4,210.8 1895.1,210.3 1895.9,209.7 1896.6,209.2 1897.4,208.6 1898.1,208.1 1898.9,207.6 1899.6,207.0 1900.4,206.5 1901.1,205.9 1901.9,205.4 1902.7,204.9 1903.6,204.3 1904.5,203.8 1905.4,203.2 1906.2,202.7 1907.2,202.2 1908.2,201.6 1909.3,201.1 1910.3,200.6 1911.3,200.0 1912.1,199.5 1912.9,198.9 1913.6,198.4 1914.4,197.9 1915.2,197.3 1916.1,196.8 1917.1,196.3 1918.0,195.7 1918.9,195.2 1919.9,194.6 1920.7,194.1 1921.6,193.6 1922.5,193.0 1923.3,192.5 1924.1,192.0 1924.9,191.4 1925.7,190.9 1926.4,190.4 1927.2,189.8 1928.0,189.3 1928.8,188.7 1929.6,188.2 1930.4,187.7 1931.2,187.1 1932.0,186.6 1971.3,188.7"/>
<polyline stroke="#4A7EBB" stroke-width="12" points="1971.3,188.7 1970.8,189.6 1970.4,190.5 1970.0,191.4 1969.6,192.3 1969.2,193.2 1968.7,194.2 1968.3,195.1 1967.8,196.0 1967.6,196.9 1967.3,197.8 1967.1,198.7 1966.9,199.6 1966.1,200.5 1965.4,201.4 1964.6,202.3 1963.9,203.2 1963.5,204.1 1963.2,205.0 1962.8,205.9 1962.5,206.8 1962.0,207.7 1961.5,208.6 1961.0,209.5 1960.6,210.4 1960.3,211.3 1960.1,212.2 1959.8,213.1 1959.5,214.0 1958.9,214.9 1958.2,215.8 1957.6,216.7 1956.9,217.6 1956.8,218.4 1956.6,219.3 1956.4,220.2 1956.1,221.1 1955.3,222.0 1954.5,222.9 1953.7,223.8 1953.0,224.7 1952.8,225.6 1952.6,226.5 1952.3,227.4 1952.1,228.3 1951.8,229.2 1951.4,230.0 1951.1,230.9 1950.7,231.8 1950.2,232.7 1949.8,233.6 1949.3,234.5 1948.7,235.4 1948.0,236.3 1947.3,237.2 1946.6,238.1 1945.9,238.9 1945.4,239.8 1944.9,240.7 1944.3,241.6 1943.9,242.5 1943.7,243.4 1943.6,244.3 1943.5,245.2 1943.4,246.1 1943.0,246.9 1942.6,247.8 1942.2,248.7 1941.8,249.6 1941.2,250.5 1940.7,251.4 1940.1,252.3 1939.5,253.2 1938.9,254.1 1938.2,255.0 1937.6,255.8 1937.0,256.7 1936.8,257.6 1936.6,258.5 1936.3,259.4 1936.0,260.3 1935.5,261.2 1935.0,262.1 1934.5,263.0 1934.0,263.9 1933.4,264.8 1932.8,265.7 1932.3,266.5 1931.7,267.4 1931.4,268.3 1931.0,269.2 1930.7,270.1 1930.3,271.0 1929.8,271.9 1929.2,272.8 1928.7,273.7 1928.2,274.6 1927.8,275.5 1927.5,276.4 1927.1,277.3 1926.7,278.2 1926.3,279.1 1925.9,280.0 1925.6,280.9 1925.1,281.8 1924.4,282.7 1923.7,283.6 1923.0,284.5 1922.5,285.4 1922.4,286.3 1922.3,287.2 1922.3,288.1 1922.1,289.0 1921.7,289.9 1921.3,290.8 1920.9,291.7 1920.4,292.6 1919.9,293.5 1919.3,294.4 1918.7,295.3 1918.3,296.2 1917.9,297.1 1917.5,298.1 1917.2,299.0 1916.6,299.9 1915.9,300.8 1915.1,301.7 1914.4,302.6 1913.8,303.5 1913.5,304.4 1913.1,305.4 1912.8,306.3 1912.5,307.2 1912.5,308.1 1912.4,309.0 1912.3,309.9 1912.0,310.9 1911.6,311.8 1911.1,312.7 1910.7,313.6 1910.2,314.5 1909.7,315.4 1909.2,316.4 1908.7,317.3 1908.1,318.2 1907.6,319.1 1907.0,320.0 1906.4,320.9 1906.0,321.9 1905.8,322.8 1905.5,323.7 1905.3,324.6 1905.0,325.5 1904.6,326.5 1904.2,327.4 1903.8,328.3 1903.4,329.2 1902.9,330.1 1902.4,331.0 1901.9,332.0 1901.4,332.9 1900.9,333.8 1900.3,334.7 1899.8,335.6 1899.4,336.5 1899.2,337.4 1898.9,338.3 1898.7,339.2 1898.3,340.2 1897.7,341.1 1897.1,342.0 1896.6,342.9 1896.1,343.8 1895.6,344.7 1895.2,345.6 1894.7,346.5 1894.4,347.4 1894.3,348.3 1894.1,349.2 1894.0,350.1 1893.7,351.0 1893.3,351.9 1892.9,352.8 1892.6,353.7 1892.0,354.6 1891.2,355.5 1890.4,356.4 1889.6,357.2 1889.0,358.1 1888.5,359.0 1888.1,359.9 1887.6,360.8 1887.2,361.7 1886.9,362.5 1886.6,363.4 1886.2,364.3 1885.7,365.2 1885.1,366.0 1884.5,366.9 1883.9,367.8 1883.5,368.6 1883.3,369.5 1883.1,370.4 1882.8,371.2 1882.4,372.1 1881.8,373.0 1881.2,373.8 1880.6,374.7 1880.0,375.6 1879.4,376.4 1878.9,377.3 1878.3,378.2 1877.9,379.0 1877.7,379.9 1877.4,380.8 1877.1,381.6 1876.6,382.5 1876.0,383.3 1875.4,384.2 1874.7,385.1 1874.0,385.9 1873.3,386.8 1872.6,387.7 1871.9,388.5 1871.3,389.4 1870.8,390.3 1870.2,391.1 1869.7,392.0 1869.3,392.9 1869.0,393.7 1868.7,394.6 1868.4,395.5 1867.8,396.4 1867.3,397.2 1866.7,398.1 1866.1,399.0 1865.8,399.9 1865.6,400.7 1865.4,401.6 1865.2,402.5 1864.5,403.4 1863.6,404.3 1862.8,405.2 1862.0,406.1 1861.5,407.0 1861.2,407.8 1860.9,408.7 1860.5,409.6 1860.1,410.5 1859.6,411.4 1859.1,412.4 1858.7,413.3 1858.4,414.2 1858.3,415.1 1858.1,416.0 1857.9,416.9 1857.6,417.8 1857.2,418.7 1856.9,419.7 1856.5,420.6 1856.1,421.5 1855.7,422.4 1855.3,423.4 1854.9,424.3 1854.3,425.2 1853.7,426.2 1853.0,427.1 1852.4,428.0 1852.3,429.0 1852.3,429.9 1852.2,430.8 1852.2,431.8 1851.5,432.7 1850.8,433.6 1850.0,434.6 1849.3,435.5 1849.1,436.5 1848.9,437.4 1848.7,438.3 1848.6,439.3 1848.5,440.2 1848.4,441.2 1848.3,442.1 1848.3,443.1 1848.0,444.0 1847.6,444.9 1847.3,445.9 1846.9,446.8 1846.2,447.8 1845.5,448.7 1844.7,449.7 1844.0,450.6 1843.9,451.6 1843.9,452.5 1843.8,453.4 1843.8,454.4 1843.2,455.3 1842.7,456.3 1842.1,457.2 1841.5,458.1 1841.4,459.1 1841.2,460.0 1841.0,461.0 1840.9,461.9 1840.4,462.8 1839.9,463.8 1839.4,464.7 1838.9,465.6 1838.5,466.6 1838.1,467.5 1837.6,468.4 1837.2,469.4 1837.0,470.3 1836.8,471.2 1836.6,472.1 1836.4,473.1 1836.0,474.0 1835.6,474.9 1835.3,475.8 1834.9,476.8 1834.5,477.7 1834.0,478.6 1833.6,479.5 1833.1,480.4 1832.7,481.3 1832.3,482.2 1831.9,483.1 1831.5,484.0 1830.9,484.9 1830.4,485.8 1829.9,486.7 1829.4,487.6 1829.2,488.5 1829.0,489.4 1828.8,490.3 1828.5,491.2 1827.8,492.1 1827.0,493.0 1826.3,493.8 1825.6,494.7 1825.4,495.6 1825.2,496.5 1825.0,497.4 1824.7,498.3 1824.2,499.1 1823.6,500.0 1823.0,500.9 1822.5,501.8 1822.0,502.7 1821.6,503.6 1821.1,504.4 1820.7,505.3 1819.9,506.2 1819.1,507.1 1818.3,508.0 1817.7,508.9 1817.5,509.8 1817.3,510.6 1817.1,511.5 1816.9,512.4 1816.6,513.3 1816.3,514.2 1816.0,515.1 1815.6,516.0 1814.9,516.8 1814.2,517.7 1813.6,518.6 1813.0,519.5 1812.7,520.4 1812.4,521.3 1812.2,522.2 1811.8,523.1 1811.1,523.9 1810.4,524.8 1809.8,525.7 1809.1,526.6 1808.5,527.5 1808.0,528.4 1807.4,529.3 1806.9,530.2 1806.8,531.1 1806.6,532.0 1806.4,532.8 1806.1,533.7 1805.7,534.6 1805.2,535.5 1804.8,536.4 1804.2,537.3 1803.4,538.2 1802.6,539.1 1801.8,540.0 1801.3,540.9 1801.1,541.8 1801.0,542.7 1800.9,543.5 1800.6,544.4 1800.0,545.3 1799.4,546.2 1798.8,547.1 1798.3,548.0 1798.0,548.9 1797.8,549.8 1797.5,550.7 1797.1,551.6 1796.4,552.5 1795.7,553.4 1795.1,554.3 1794.5,555.2 1793.9,556.0 1793.4,556.9 1792.9,557.8 1792.5,558.7 1792.3,559.6 1792.2,560.5 1792.1,561.4 1791.7,562.3 1791.2,563.2 1790.6,564.1 1790.0,565.0 1789.5,565.9 1789.2,566.8 1788.9,567.7 1788.5,568.6 1788.0,569.5 1787.2,570.3 1786.3,571.2 1785.5,572.1 1785.0,573.0 1784.9,573.9 1784.7,574.8 1784.6,575.7 1784.3,576.6 1783.9,577.5 1783.5,578.4 1783.0,579.3 1782.5,580.2 1781.9,581.1 1781.3,582.0 1780.7,582.9 1780.1,583.8 1779.6,584.7 1779.0,585.5 1778.5,586.4 1778.0,587.3 1777.5,588.2 1777.1,589.1 1776.6,590.0 1776.3,590.9 1776.2,591.8 1776.1,592.7 1775.9,593.6 1775.6,594.5 1775.1,595.4 1774.6,596.3 1774.1,597.2 1773.6,598.1 1773.2,599.0 1772.8,599.9 1772.5,600.8 1771.9,601.6 1771.2,602.5 1770.4,603.4 1769.7,604.3 1769.2,605.2 1769.0,606.1 1768.7,607.0 1768.4,607.9 1768.0,608.8 1767.5,609.7 1766.9,610.6 1766.4,611.5 1765.9,612.4 1765.5,613.3 1765.1,614.2 1764.6,615.1 1764.2,616.0 1763.8,616.9 1763.4,617.7 1762.9,618.6 1762.4,619.5 1761.7,620.4 1761.0,621.3 1760.3,622.2 1760.0,623.1 1759.9,624.0 1759.8,624.9 1759.8,625.8 1759.3,626.7 1758.6,627.6 1758.0,628.5 1757.3,629.4 1756.8,630.3 1756.4,631.2 1756.1,632.1 1755.7,633.0 1755.1,633.8 1754.4,634.7 1753.8,635.6 1753.1,636.5 1752.5,637.4 1752.1,638.3 1751.7,639.2 1751.3,640.1 1751.1,641.0 1751.0,641.9 1751.0,642.8 1750.9,643.7 1750.4,644.6 1749.6,645.5 1748.8,646.4 1748.1,647.3 1747.7,648.2 1747.5,649.1 1747.2,649.9 1747.0,650.8 1746.5,651.7 1745.9,652.6 1745.3,653.5 1744.8,654.4 1744.4,655.3 1744.1,656.2 1743.8,657.1 1743.5,658.0 1743.0,658.9 1742.6,659.8 1742.1,660.7 1741.6,661.6 1741.2,662.5 1740.9,663.4 1740.6,664.3 1740.2,665.1 1739.7,666.0 1739.1,666.9 1738.5,667.8 1737.9,668.7 1737.3,669.6 1736.6,670.5 1735.8,671.4 1735.1,672.3 1734.7,673.2 1734.2,674.1 1733.8,675.0 1733.4,675.9 1733.2,676.8 1733.0,677.7 1732.9,678.6 1732.7,679.5 1732.2,680.3 1731.6,681.2 1731.0,682.1 1730.5,683.0 1730.0,683.9 1729.7,684.8 1729.3,685.7 1728.9,686.6 1728.6,687.5 1728.2,688.4 1727.9,689.3 1727.6,690.2 1727.0,691.1 1726.4,692.0 1725.8,692.9 1725.1,693.8 1724.8,694.6 1724.5,695.5 1724.2,696.4 1723.9,697.3 1723.4,698.2 1722.8,699.1 1722.3,700.0 1721.8,700.9 1721.3,701.8 1720.7,702.7 1720.2,703.6 1719.6,704.5 1719.1,705.4 1718.5,706.3 1718.0,707.1 1717.4,708.0 1717.2,708.9 1717.0,709.8 1716.9,710.7 1716.7,711.6 1716.1,712.5 1715.5,713.4 1714.9,714.3 1714.3,715.2 1713.6,716.1 1713.0,717.0 1712.3,717.9 1711.6,718.8 1711.2,719.6 1710.8,720.5 1710.4,721.4 1710.0,722.3 1709.9,723.2 1709.8,724.1 1709.7,725.0 1709.6,725.9 1708.7,726.8 1707.9,727.7 1707.1,728.6 1706.2,729.5 1706.0,730.4 1705.7,731.2 1705.4,732.1 1705.2,733.0 1704.5,733.9 1703.9,734.8 1703.3,735.7 1702.7,736.6 1702.4,737.5 1702.2,738.4 1701.9,739.3 1701.7,740.2 1701.3,741.1 1700.9,741.9 1700.5,742.8 1700.1,743.7 1699.4,744.6 1698.6,745.5 1697.9,746.4 1697.2,747.3 1697.1,748.2 1697.1,749.1 1697.0,750.0 1696.9,750.9 1696.2,751.7 1695.5,752.6 1694.9,753.5 1694.2,754.4 1694.0,755.3 1693.8,756.2 1693.6,757.1 1693.3,758.0 1692.6,758.9 1691.9,759.8 1691.1,760.7 1690.5,761.5 1690.1,762.4 1689.7,763.3 1689.4,764.2 1689.0,765.1 1688.4,766.0 1687.8,766.9 1687.2,767.8 1686.6,768.7 1686.1,769.6 1685.6,770.4 1685.1,771.3 1684.6,772.2 1684.3,773.1 1684.0,774.0 1683.7,774.9 1683.4,775.8 1683.2,776.7 1682.9,777.6 1682.7,778.5 1682.4,779.3 1681.7,780.2 1681.0,781.1 1680.3,782.0 1679.7,782.9 1679.1,783.8 1678.6,784.7 1678.1,785.6 1677.5,786.5 1677.0,787.3 1676.5,788.2 1676.0,789.1 1675.4,790.0 1674.9,790.9 1674.4,791.8 1673.8,792.7 1673.4,793.6 1673.2,794.4 1672.9,795.3 1672.7,796.2 1672.4,797.1 1671.9,798.0 1671.4,798.9 1670.9,799.8 1670.5,800.7 1670.2,801.5 1669.9,802.4 1669.6,803.3 1669.2,804.2 1668.5,805.1 1667.9,806.0 1667.2,806.9 1666.6,807.8 1666.1,808.6 1665.5,809.5 1665.0,810.4 1664.6,811.3 1664.5,812.2 1664.3,813.1 1664.2,814.0 1663.9,814.9 1663.4,815.7 1662.8,816.6 1662.3,817.5 1661.6,818.4 1660.8,819.3 1660.0,820.2 1659.2,821.1 1658.6,821.9 1658.2,822.8 1657.9,823.7 1657.5,824.6 1657.1,825.5 1656.5,826.4 1656.0,827.3 1655.4,828.1 1655.0,829.0 1654.8,829.9 1654.6,830.8 1654.5,831.7 1654.1,832.6 1653.4,833.4 1652.7,834.3 1652.0,835.2 1651.4,836.1 1651.0,837.0 1650.6,837.9 1650.2,838.8 1649.8,839.6 1649.5,840.5 1649.1,841.4 1648.8,842.3 1648.4,843.2 1648.1,844.1 1647.7,844.9 1647.3,845.8 1646.8,846.7 1646.3,847.6 1645.8,848.5 1645.3,849.4 1644.7,850.2 1644.1,851.1 1643.5,852.0 1642.9,852.9 1642.4,853.8 1642.1,854.7 1641.8,855.5 1641.5,856.4 1641.0,857.3 1640.4,858.2 1639.7,859.1 1639.1,859.9 1638.6,860.8 1638.2,861.7 1637.9,862.6 1637.5,863.5 1637.0,864.4 1636.3,865.2 1635.6,866.1 1634.9,867.0 1634.5,867.9 1634.3,868.8 1634.2,869.6 1634.0,870.5 1633.6,871.4 1633.2,872.3 1632.7,873.2 1632.2,874.0 1631.6,874.9 1631.0,875.8 1630.3,876.7 1629.7,877.6 1629.1,878.4 1628.5,879.3 1627.9,880.2 1627.3,881.1 1626.7,882.0 1626.2,882.8 1625.6,883.7 1625.0,884.6 1624.6,885.5 1624.4,886.4 1624.2,887.2 1623.9,888.1 1623.5,889.0 1623.0,889.9 1622.6,890.8 1622.1,891.6 1621.4,892.5 1620.8,893.4 1620.1,894.3 1619.4,895.1 1619.0,896.0 1618.7,896.9 1618.5,897.8 1618.2,898.7 1618.0,899.5 1617.7,900.4 1617.4,901.3 1617.1,902.2 1616.6,903.0 1616.0,903.9 1615.5,904.8 1614.9,905.7 1614.3,906.5 1613.8,907.4 1613.2,908.3 1612.6,909.2 1612.1,910.0 1611.8,910.9 1611.4,911.8 1611.0,912.7 1610.5,913.6 1610.0,914.4 1609.5,915.3 1609.0,916.2 1608.4,917.1 1607.8,917.9 1607.2,918.8 1606.5,919.7 1606.0,920.5 1605.5,921.4 1605.0,922.3 1604.5,923.2 1604.0,924.0 1603.7,924.9 1603.3,925.8 1602.9,926.7 1602.2,927.5 1601.5,928.4 1600.8,929.3 1600.1,930.2 1599.5,931.0 1599.1,931.9 1598.7,932.8 1598.2,933.6 1597.7,934.5 1597.1,935.4 1596.6,936.3 1596.1,937.1 1595.9,938.0 1595.8,938.9 1595.7,939.7 1595.7,940.6 1595.2,941.5 1594.6,942.4 1594.0,943.2 1593.4,944.1 1592.8,945.0 1592.1,945.8 1591.5,946.7 1590.8,947.6 1590.2,948.5 1589.6,949.3 1589.0,950.2 1588.4,951.1 1587.8,951.9 1587.2,952.8 1586.6,953.7 1586.1,954.5 1585.8,955.4 1585.6,956.3 1585.4,957.1 1585.2,958.0 1584.7,958.9 1584.1,959.8 1583.5,960.6 1582.9,961.5 1582.6,962.4 1582.3,963.2 1582.0,964.1 1581.8,965.0 1581.1,965.8 1580.4,966.7 1579.7,967.6 1579.0,968.4 1578.4,969.3 1577.7,970.2 1577.0,971.0 1576.3,971.9 1576.0,972.8 1575.7,973.6 1575.5,974.5 1575.2,975.4 1574.4,976.2 1573.7,977.1 1572.9,977.9 1572.1,978.8 1571.8,979.7 1571.5,980.5 1571.2,981.4 1570.9,982.3 1570.6,983.1 1570.2,984.0 1569.8,984.9 1569.5,985.7 1568.8,986.6 1568.1,987.5 1567.4,988.3 1566.8,989.2 1566.3,990.0 1565.8,990.9 1565.3,991.8 1564.8,992.6 1564.5,993.5 1564.2,994.4 1563.9,995.2 1563.6,996.1 1563.0,996.9 1562.4,997.8 1561.8,998.7 1561.2,999.5 1560.6,1000.4 1560.0,1001.2 1559.4,1002.1 1558.8,1003.0 1558.1,1003.8 1557.4,1004.7 1556.6,1005.5 1555.9,1006.4 1555.7,1007.3 1555.5,1008.1 1555.3,1009.0 1555.1,1009.8 1554.4,1010.7 1553.7,1011.6 1553.0,1012.4 1552.3,1013.3 1552.0,1014.1 1551.7,1015.0 1551.5,1015.8 1551.1,1016.7 1550.5,1017.6 1549.9,1018.4 1549.3,1019.3 1548.6,1020.1 1548.1,1021.0 1547.5,1021.8 1546.9,1022.7 1546.3,1023.6 1545.8,1024.4 1545.4,1025.3 1545.0,1026.1 1544.5,1027.0 1543.7,1027.8 1543.0,1028.7 1542.3,1029.5 1541.6,1030.4 1541.2,1031.2 1540.8,1032.1 1540.4,1033.0 1540.0,1033.8 1539.7,1034.7 1539.4,1035.5 1539.1,1036.4 1538.8,1037.2 1538.1,1038.1 1537.4,1038.9 1536.7,1039.8 1536.0,1040.6 1535.5,1041.5 1535.0,1042.3 1534.4,1043.2 1533.9,1044.0 1533.2,1044.9 1532.6,1045.7 1531.9,1046.6 1531.3,1047.4 1530.9,1048.3 1530.6,1049.1 1530.2,1050.0 1529.8,1050.8 1529.1,1051.7 1528.3,1052.5 1527.6,1053.4 1527.0,1054.2 1526.9,1055.1 1526.7,1055.9 1526.5,1056.8 1526.1,1057.6 1525.3,1058.5 1524.4,1059.3 1523.6,1060.2 1522.9,1061.0 1522.5,1061.9 1522.1,1062.7 1521.7,1063.6 1521.3,1064.4 1520.8,1065.3 1520.4,1066.1 1520.0,1066.9 1519.5,1067.8 1518.9,1068.6 1518.3,1069.5 1517.8,1070.3 1517.2,1071.2 1516.7,1072.0 1516.2,1072.9 1515.7,1073.7 1515.1,1074.5 1514.5,1075.4 1513.9,1076.2 1513.3,1077.1 1512.6,1077.9 1511.9,1078.8 1511.1,1079.6 1510.4,1080.4 1509.8,1081.3 1509.5,1082.1 1509.2,1083.0 1508.9,1083.8 1508.6,1084.7 1508.2,1085.5 1507.7,1086.3 1507.3,1087.2 1506.7,1088.0 1505.8,1088.9 1504.9,1089.7 1504.0,1090.5 1503.4,1091.4 1503.1,1092.2 1502.9,1093.1 1502.6,1093.9 1502.2,1094.7 1501.5,1095.6 1500.7,1096.4 1500.0,1097.2 1499.4,1098.1 1498.9,1098.9 1498.4,1099.8 1497.9,1100.6 1497.3,1101.4 1496.7,1102.3 1496.1,1103.1 1495.4,1103.9 1494.9,1104.8 1494.4,1105.6 1494.0,1106.4 1493.5,1107.3 1493.0,1108.1 1492.4,1108.9 1491.8,1109.8 1491.2,1110.6 1490.6,1111.4 1490.1,1112.3 1489.5,1113.1 1488.9,1113.9 1488.4,1114.8 1487.8,1115.6 1487.3,1116.4 1486.7,1117.3 1486.2,1118.1 1485.8,1118.9 1485.4,1119.8 1484.9,1120.6 1484.4,1121.4 1483.9,1122.3 1483.3,1123.1 1482.8,1123.9 1482.1,1124.7 1481.4,1125.6 1480.7,1126.4 1479.9,1127.2 1479.2,1128.1 1478.6,1128.9 1477.9,1129.7 1477.2,1130.5 1476.7,1131.4 1476.2,1132.2 1475.8,1133.0 1475.4,1133.8 1474.9,1134.7 1474.2,1135.5 1473.5,1136.3 1472.9,1137.1 1472.4,1138.0 1472.0,1138.8 1471.6,1139.6 1471.2,1140.4 1470.7,1141.3 1470.3,1142.1 1469.9,1142.9 1469.5,1143.7 1468.7,1144.6 1467.8,1145.4 1466.9,1146.2 1465.9,1147.0 1465.2,1147.8 1464.6,1148.7 1464.0,1149.5 1463.4,1150.3 1462.9,1151.1 1462.3,1151.9 1461.7,1152.8 1461.1,1153.6 1460.6,1154.4 1460.2,1155.2 1459.8,1156.0 1459.3,1156.8 1458.7,1157.7 1458.0,1158.5 1457.3,1159.3 1456.5,1160.1 1455.9,1160.9 1455.3,1161.7 1454.7,1162.5 1454.2,1163.4 1453.8,1164.2 1453.4,1165.0 1453.1,1165.8 1452.8,1166.6 1452.3,1167.4 1451.6,1168.2 1451.0,1169.0 1450.4,1169.9 1449.8,1170.7 1449.1,1171.5 1448.4,1172.3 1447.7,1173.1 1447.2,1173.9 1446.7,1174.7 1446.3,1175.5 1445.8,1176.4 1445.1,1177.2 1444.2,1178.0 1443.4,1178.8 1442.6,1179.6 1442.1,1180.4 1441.8,1181.2 1441.4,1182.1 1441.1,1182.9 1440.7,1183.7 1440.3,1184.5 1439.9,1185.3 1439.4,1186.1 1438.9,1186.9 1438.2,1187.8 1437.6,1188.6 1436.9,1189.4 1436.3,1190.2 1435.7,1191.0 1435.2,1191.8 1434.6,1192.6 1433.7,1193.4 1432.8,1194.2 1431.9,1194.9 1431.0,1195.7 1430.6,1196.5 1430.3,1197.3 1430.0,1198.0 1429.7,1198.8 1428.9,1199.6 1427.9,1200.3 1427.0,1201.1 1426.1,1201.8 1425.3,1202.6 1424.5,1203.3 1423.7,1204.0 1422.9,1204.8 1422.1,1205.5 1421.4,1206.2 1420.7,1206.9 1420.0,1207.7 1419.5,1208.4 1419.0,1209.1 1418.5,1209.8 1418.0,1210.6 1417.3,1211.3 1416.6,1212.0 1416.0,1212.7 1415.3,1213.5 1414.4,1214.2 1413.5,1214.9 1412.6,1215.7 1411.7,1216.4 1411.2,1217.1 1410.8,1217.9 1410.4,1218.6 1410.0,1219.4 1409.1,1220.1 1408.3,1220.9 1407.4,1221.7 1406.5,1222.4 1405.9,1223.2 1405.3,1224.0 1404.8,1224.8 1404.3,1225.6 1403.7,1226.4 1403.2,1227.3 1402.7,1228.1 1402.2,1229.0 1401.8,1229.8 1401.5,1230.7 1401.1,1231.6 1400.8,1232.4 1400.3,1233.3 1400.0,1234.3 1399.6,1235.2 1399.3,1236.1 1398.9,1237.1 1398.6,1238.1 1398.4,1239.0 1398.1,1240.0 1397.5,1240.8 1396.9,1241.5 1396.3,1242.3 1395.8,1243.1 1395.2,1243.8 1394.5,1244.6 1393.9,1245.4 1393.2,1246.1 1392.4,1246.9 1391.6,1247.7 1390.7,1248.5 1389.9,1249.2 1389.2,1250.0 1388.5,1250.8 1387.9,1251.5 1387.3,1252.3 1386.8,1253.1 1386.4,1253.8 1386.0,1254.6 1385.3,1255.4 1384.4,1256.1 1383.6,1256.9 1382.7,1257.7 1382.0,1258.4 1381.4,1259.2 1380.9,1260.0 1380.3,1260.7 1379.8,1261.5 1379.2,1262.3 1378.7,1263.0 1378.1,1263.8 1377.5,1264.6 1376.7,1265.4 1376.0,1266.1 1375.2,1266.9 1374.4,1267.7 1373.6,1268.5 1372.8,1269.2 1371.9,1270.0 1371.6,1270.8 1371.4,1271.5 1371.1,1272.3 1370.9,1273.1 1370.3,1273.9 1369.6,1274.6 1369.0,1275.4 1368.3,1276.2 1367.4,1277.0 1366.5,1277.7 1365.6,1278.5 1364.7,1279.3 1364.2,1280.1 1363.7,1280.8 1363.2,1281.6 1362.7,1282.4 1362.2,1283.1 1361.8,1283.9 1361.3,1284.7 1360.8,1285.5 1360.1,1286.2 1359.4,1287.0 1358.7,1287.8 1357.8,1288.6 1356.8,1289.3 1355.8,1290.1 1354.8,1290.9 1354.1,1291.7 1353.5,1292.4 1353.0,1293.2 1352.4,1294.0 1351.8,1294.7 1351.2,1295.5 1350.6,1296.3 1349.9,1297.1 1349.5,1297.9 1349.1,1298.7 1348.7,1299.5 1348.3,1300.3 1347.7,1301.0 1346.9,1301.8 1346.2,1302.6 1345.5,1303.4 1344.7,1304.2 1344.0,1305.0 1343.2,1305.8 1342.6,1306.6 1342.0,1307.3 1341.4,1308.1 1340.9,1308.9 1340.3,1309.7 1320.0,1334.5 1310.0,1334.5"/>
<polyline stroke="#000000" points="228.2,1332.0 229.1,1331.6 230.0,1331.2 231.0,1330.8 232.0,1330.4 233.1,1330.0 234.0,1329.6 234.9,1329.2 235.9,1328.8 236.8,1328.4 237.7,1328.0 238.7,1327.6 239.7,1327.3 240.7,1326.9 241.7,1326.5 242.7,1326.1 243.4,1325.7 244.1,1325.3 244.8,1324.9 245.5,1324.5 246.2,1324.1 247.1,1323.7 248.0,1323.3 248.9,1322.9 249.8,1322.5 250.7,1322.1 251.8,1321.8 253.0,1321.4 254.1,1321.0 255.2,1320.6 256.4,1320.2 257.0,1319.8 257.7,1319.4 258.4,1319.0 259.1,1318.6 259.8,1318.2 260.7,1317.8 261.6,1317.4 262.6,1317.1 263.5,1316.7 264.4,1316.3 265.5,1315.9 266.5,1315.5 267.6,1315.1 268.6,1314.7 269.7,1314.3 270.4,1313.9 271.2,1313.6 272.0,1313.2 272.8,1312.8 273.6,1312.4 274.6,1312.0 275.6,1311.6 276.6,1311.2 277.7,1310.8 278.7,1310.4 279.7,1310.1 280.7,1309.7 281.7,1309.3 282.7,1308.9 283.7,1308.5 284.5,1308.1 285.4,1307.7 286.2,1307.3 287.1,1306.9 287.9,1306.6 288.7,1306.2 289.6,1305.8 290.4,1305.4 291.2,1305.0 292.0,1304.6 293.0,1304.2 293.9,1303.9 294.9,1303.5 295.9,1303.1 296.8,1302.7 297.8,1302.3 298.8,1301.9 299.8,1301.5 300.8,1301.1 301.8,1300.8 302.6,1300.4 303.4,1300.0 304.2,1299.6 305.0,1299.2 305.9,1298.8 306.9,1298.4 307.9,1298.1 308.8,1297.7 309.8,1297.3 310.8,1296.9 311.9,1296.5 313.0,1296.1 314.1,1295.7 315.2,1295.3 316.3,1295.0 317.1,1294.6 317.8,1294.2 318.5,1293.8 319.3,1293.4 320.0,1293.0 320.9,1292.6 321.9,1292.3 322.8,1291.9 323.7,1291.5 324.6,1291.1 325.6,1290.7 326.5,1290.3 327.5,1289.9 328.5,1289.6 329.4,1289.2 330.5,1288.8 331.5,1288.4 332.6,1288.0 333.6,1287.6 334.6,1287.2 335.4,1286.9 336.3,1286.5 337.1,1286.1 337.9,1285.7 338.8,1285.3 339.6,1284.9 340.5,1284.5 341.4,1284.1 342.2,1283.8 343.1,1283.4 344.0,1283.0 345.0,1282.6 345.9,1282.2 346.8,1281.8 347.8,1281.4 348.9,1281.1 350.0,1280.7 351.1,1280.3 352.2,1279.9 353.3,1279.5 354.0,1279.1 354.7,1278.7 355.4,1278.3 356.1,1278.0 356.8,1277.6 357.7,1277.2 358.7,1276.8 359.6,1276.4 360.5,1276.0 361.5,1275.6 362.5,1275.2 363.6,1274.9 364.6,1274.5 365.7,1274.1 366.7,1273.7 367.5,1273.3 368.4,1272.9 369.2,1272.5 370.0,1272.1 370.9,1271.7 371.8,1271.4 372.8,1271.0 373.7,1270.6 374.7,1270.2 375.6,1269.8 376.6,1269.4 377.6,1269.0 378.6,1268.6 379.5,1268.2 380.5,1267.9 381.2,1267.5 382.0,1267.1 382.8,1266.7 383.5,1266.3 384.3,1265.9 385.3,1265.5 386.2,1265.1 387.2,1264.7 388.2,1264.3 389.1,1263.9 390.1,1263.6 391.1,1263.2 392.1,1262.8 393.1,1262.4 394.1,1262.0 394.9,1261.6 395.7,1261.2 396.5,1260.8 397.3,1260.4 398.1,1260.0 399.0,1259.6 399.9,1259.2 400.9,1258.8 401.8,1258.5 402.7,1258.1 403.6,1257.7 404.5,1257.3 405.5,1256.9 406.4,1256.5 407.3,1256.1 408.3,1255.7 409.3,1255.3 410.3,1254.9 411.3,1254.5 412.3,1254.1 413.3,1253.7 414.4,1253.3 415.5,1252.9 416.6,1252.5 417.6,1252.1 418.5,1251.7 419.4,1251.3 420.3,1250.9 421.2,1250.5 422.1,1250.1 423.0,1249.7 423.9,1249.3 424.8,1248.9 425.7,1248.6 426.6,1248.2 427.4,1247.8 428.3,1247.4 429.1,1247.0 429.9,1246.6 430.8,1246.2 431.8,1245.8 432.9,1245.4 433.9,1245.0 434.9,1244.6 435.9,1244.2 436.6,1243.8 437.4,1243.3 438.1,1242.9 438.9,1242.5 439.7,1242.1 440.5,1241.7 441.4,1241.3 442.3,1240.9 443.1,1240.5 444.0,1240.1 444.9,1239.7 445.9,1239.3 446.8,1238.9 447.7,1238.5 448.7,1238.1 449.7,1237.7 450.7,1237.3 451.7,1236.9 452.7,1236.5 453.7,1236.1 454.6,1235.7 455.4,1235.3 456.3,1234.9 457.1,1234.4 458.0,1234.0 458.9,1233.6 459.8,1233.2 460.7,1232.8 461.7,1232.4 462.6,1232.0 463.4,1231.6 464.2,1231.2 465.0,1230.8 465.9,1230.4 466.8,1229.9 467.8,1229.5 468.9,1229.1 470.0,1228.7 471.0,1228.3 472.1,1227.9 473.0,1227.5 474.0,1227.1 474.9,1226.6 475.9,1226.2 476.8,1225.8 477.6,1225.4 478.5,1225.0 479.3,1224.6 480.1,1224.2 480.9,1223.7 481.8,1223.3 482.6,1222.9 483.4,1222.5 484.3,1222.1 485.2,1221.7 486.1,1221.2 487.0,1220.8 487.9,1220.4 488.8,1220.0 489.8,1219.6 490.9,1219.1 491.9,1218.7 493.0,1218.3 494.0,1217.9 495.0,1217.5 495.8,1217.0 496.6,1216.6 497.4,1216.2 498.2,1215.8 499.0,1215.3 500.0,1214.9 500.9,1214.5 501.8,1214.1 502.7,1213.7 503.6,1213.2 504.6,1212.8 505.7,1212.4 506.7,1211.9 507.7,1211.5 508.7,1211.1 509.6,1210.7 510.5,1210.2 511.5,1209.8 512.4,1209.4 513.3,1209.0 514.2,1208.5 515.1,1208.1 515.9,1207.7 516.8,1207.2 517.6,1206.8 518.4,1206.4 519.3,1205.9 520.1,1205.5 520.9,1205.1 521.7,1204.6 522.6,1204.2 523.5,1203.8 524.4,1203.3 525.3,1202.9 526.2,1202.5 527.2,1202.0 528.1,1201.6 529.0,1201.2 530.0,1200.7 530.9,1200.3 531.8,1199.8 532.7,1199.4 533.5,1199.0 534.4,1198.5 535.3,1198.1 536.3,1197.6 537.3,1197.2 538.3,1196.8 539.4,1196.3 540.3,1195.9 541.2,1195.4 542.1,1195.0 543.0,1194.5 543.9,1194.1 544.7,1193.7 545.4,1193.2 546.1,1192.8 546.7,1192.3 547.4,1191.9 548.2,1191.4 549.2,1191.0 550.1,1190.5 551.1,1190.1 552.1,1189.6 553.0,1189.2 553.9,1188.7 554.8,1188.3 555.8,1187.8 556.7,1187.4 557.6,1186.9 558.6,1186.5 559.5,1186.0 560.5,1185.6 561.5,1185.1 562.4,1184.7 563.3,1184.2 564.2,1183.8 565.0,1183.3 565.9,1182.8 566.8,1182.4 567.6,1181.9 568.5,1181.5 569.4,1181.0 570.2,1180.5 571.1,1180.1 571.9,1179.6 572.8,1179.2 573.6,1178.7 574.4,1178.2 575.3,1177.8 576.1,1177.3 576.9,1176.9 577.7,1176.4 578.5,1175.9 579.3,1175.5 580.2,1175.0 581.1,1174.5 581.9,1174.1 582.8,1173.6 583.8,1173.1 584.9,1172.7 586.0,1172.2 587.1,1171.7 588.1,1171.2 589.1,1170.8 589.8,1170.3 590.5,1169.8 591.2,1169.4 592.0,1168.9 592.8,1168.4 593.7,1167.9 594.6,1167.5 595.6,1167.0 596.5,1166.5 597.5,1166.0 598.5,1165.6 599.5,1165.1 600.5,1164.6 601.5,1164.1 602.4,1163.6 603.2,1163.2 603.9,1162.7 604.7,1162.2 605.5,1161.7 606.3,1161.2 607.2,1160.7 608.1,1160.3 609.0,1159.8 609.9,1159.3 610.7,1158.8 611.5,1158.3 612.2,1157.8 612.9,1157.4 613.6,1156.9 614.5,1156.4 615.5,1155.9 616.4,1155.4 617.4,1154.9 618.4,1154.4 619.4,1153.9 620.2,1153.4 621.1,1152.9 622.0,1152.4 622.9,1152.0 623.7,1151.5 624.6,1151.0 625.4,1150.5 626.2,1150.0 627.1,1149.5 627.9,1149.0 628.9,1148.5 629.8,1148.0 630.8,1147.5 631.7,1147.0 632.6,1146.5 633.4,1146.0 634.1,1145.5 634.9,1145.0 635.6,1144.5 636.4,1144.0 637.3,1143.5 638.1,1143.0 639.0,1142.5 639.8,1142.0 640.7,1141.5 641.6,1141.0 642.5,1140.5 643.5,1140.0 644.4,1139.5 645.3,1138.9 646.3,1138.4 647.2,1137.9 648.1,1137.4 649.1,1136.9 649.9,1136.4 650.7,1135.9 651.5,1135.4 652.3,1134.9 653.1,1134.4 653.9,1133.9 654.8,1133.3 655.7,1132.8 656.6,1132.3 657.6,1131.8 658.5,1131.3 659.4,1130.8 660.3,1130.3 661.2,1129.7 662.2,1129.2 663.0,1128.7 663.9,1128.2 664.7,1127.7 665.5,1127.2 666.3,1126.6 667.2,1126.1 668.1,1125.6 669.1,1125.1 670.0,1124.6 670.9,1124.0 671.8,1123.5 672.6,1123.0 673.4,1122.5 674.2,1122.0 675.0,1121.4 675.8,1120.9 676.5,1120.4 677.3,1119.9 678.0,1119.3 678.7,1118.8 679.6,1118.3 680.6,1117.8 681.7,1117.2 682.7,1116.7 683.7,1116.2 684.7,1115.7 685.5,1115.1 686.3,1114.6 687.1,1114.1 688.0,1113.6 688.8,1113.0 689.5,1112.5 690.3,1112.0 691.0,1111.4 691.8,1110.9 692.6,1110.4 693.4,1109.8 694.3,1109.3 695.1,1108.8 696.0,1108.2 696.8,1107.7 697.6,1107.2 698.4,1106.6 699.3,1106.1 700.1,1105.6 700.9,1105.0 701.7,1104.5 702.5,1104.0 703.3,1103.4 704.1,1102.9 704.9,1102.4 705.7,1101.8 706.4,1101.3 707.2,1100.8 708.0,1100.2 708.8,1099.7 709.7,1099.1 710.6,1098.6 711.5,1098.1 712.4,1097.5 713.3,1097.0 714.0,1096.4 714.8,1095.9 715.6,1095.4 716.4,1094.8 717.2,1094.3 718.1,1093.7 719.0,1093.2 719.9,1092.6 720.9,1092.1 721.7,1091.6 722.5,1091.0 723.3,1090.5 724.1,1089.9 724.9,1089.4 725.8,1088.8 726.8,1088.3 727.9,1087.7 728.9,1087.2 729.9,1086.6 730.8,1086.1 731.7,1085.6 732.6,1085.0 733.4,1084.5 734.3,1083.9 735.1,1083.4 736.0,1082.8 736.8,1082.3 737.6,1081.7 738.5,1081.2 739.3,1080.6 740.2,1080.1 741.0,1079.5 741.9,1079.0 742.7,1078.4 743.5,1077.9 744.2,1077.3 744.9,1076.8 745.6,1076.2 746.3,1075.7 747.0,1075.1 747.9,1074.5 748.7,1074.0 749.5,1073.4 750.4,1072.9 751.3,1072.3 752.3,1071.8 753.2,1071.2 754.2,1070.7 755.2,1070.1 756.0,1069.6 756.6,1069.0 757.3,1068.4 757.9,1067.9 758.6,1067.3 759.3,1066.8 760.2,1066.2 761.1,1065.7 762.0,1065.1 762.9,1064.5 763.7,1064.0 764.5,1063.4 765.2,1062.9 766.0,1062.3 766.7,1061.7 767.5,1061.2 768.4,1060.6 769.3,1060.1 770.2,1059.5 771.0,1058.9 771.9,1058.4 772.8,1057.8 773.7,1057.3 774.5,1056.7 775.4,1056.1 776.2,1055.6 777.0,1055.0 777.7,1054.5 778.5,1053.9 779.2,1053.3 780.1,1052.8 781.1,1052.2 782.2,1051.6 783.2,1051.1 784.2,1050.5 785.1,1050.0 785.9,1049.4 786.7,1048.8 787.6,1048.3 788.4,1047.7 789.1,1047.1 789.7,1046.6 790.3,1046.0 790.9,1045.4 791.5,1044.9 792.2,1044.3 793.1,1043.7 793.9,1043.2 794.8,1042.6 795.6,1042.0 796.5,1041.5 797.4,1040.9 798.3,1040.3 799.1,1039.8 800.0,1039.2 800.8,1038.6 801.5,1038.1 802.2,1037.5 802.9,1036.9 803.6,1036.4 804.4,1035.8 805.3,1035.2 806.1,1034.6 807.0,1034.1 807.8,1033.5 808.7,1032.9 809.5,1032.4 810.4,1031.8 811.2,1031.2 812.0,1030.7 813.0,1030.1 814.0,1029.5 814.9,1028.9 815.9,1028.4 816.9,1027.8 817.7,1027.2 818.3,1026.7 818.9,1026.1 819.5,1025.5 820.1,1025.0 820.9,1024.4 821.9,1023.8 823.0,1023.2 824.0,1022.7 825.0,1022.1 825.8,1021.5 826.6,1020.9 827.3,1020.4 828.1,1019.8 828.9,1019.2 829.7,1018.7 830.5,1018.1 831.3,1017.5 832.2,1016.9 833.0,1016.4 833.8,1015.8 834.6,1015.2 835.4,1014.6 836.1,1014.1 836.9,1013.5 837.8,1012.9 838.7,1012.3 839.7,1011.8 840.6,1011.2 841.6,1010.6 842.4,1010.0 843.3,1009.5 844.1,1008.9 844.9,1008.3 845.7,1007.7 846.4,1007.2 847.1,1006.6 847.7,1006.0 848.4,1005.4 849.0,1004.9 849.8,1004.3 850.8,1003.7 851.7,1003.1 852.7,1002.6 853.6,1002.0 854.4,1001.4 855.1,1000.8 855.8,1000.3 856.5,999.7 857.2,999.1 858.1,998.5 859.0,998.0 860.0,997.4 861.0,996.8 861.9,996.2 862.7,995.6 863.3,995.1 864.0,994.5 864.7,993.9 865.3,993.3 866.2,992.8 867.1,992.2 868.1,991.6 869.1,991.0 870.1,990.4 871.0,989.9 871.8,989.3 872.7,988.7 873.6,988.1 874.5,987.6 875.1,987.0 875.7,986.4 876.2,985.8 876.8,985.2 877.3,984.7 878.1,984.1 878.9,983.5 879.8,982.9 880.6,982.4 881.5,981.8 882.5,981.2 883.5,980.6 884.6,980.0 885.6,979.5 886.7,978.9 887.4,978.3 888.0,977.7 888.6,977.1 889.3,976.6 889.9,976.0 890.6,975.4 891.5,974.8 892.3,974.2 893.2,973.7 894.0,973.1 894.9,972.5 895.8,971.9 896.6,971.3 897.5,970.8 898.4,970.2 899.2,969.6 900.0,969.0 900.8,968.4 901.5,967.9 902.3,967.3 903.1,966.7 903.8,966.1 904.5,965.5 905.2,965.0 905.9,964.4 906.8,963.8 907.8,963.2 908.8,962.6 909.8,962.0 910.8,961.5 911.5,960.9 912.2,960.3 912.8,959.7 913.5,959.1 914.1,958.6 915.1,958.0 916.1,957.4 917.1,956.8 918.2,956.2 919.2,955.6 919.9,955.1 920.5,954.5 921.0,953.9 921.6,953.3 922.2,952.7 922.9,952.2 923.8,951.6 924.6,951.0 925.4,950.4 926.3,949.8 927.2,949.2 928.2,948.7 929.2,948.1 930.2,947.5 931.2,946.9 932.0,946.3 932.7,945.7 933.5,945.2 934.2,944.6 934.9,944.0 935.8,943.4 936.7,942.8 937.7,942.2 938.6,941.7 939.6,941.1 940.4,940.5 941.2,939.9 941.9,939.3 942.7,938.7 943.5,938.2 944.2,937.6 944.8,937.0 945.5,936.4 946.1,935.8 946.8,935.2 947.7,934.6 948.7,934.1 949.7,933.5 950.7,932.9 951.7,932.3 952.4,931.7 953.1,931.1 953.7,930.6 954.4,930.0 955.1,929.4 955.8,928.8 956.6,928.2 957.4,927.6 958.1,927.0 958.9,926.5 959.7,925.9 960.5,925.3 961.3,924.7 962.1,924.1 962.9,923.5 963.9,922.9 964.9,922.4 965.9,921.8 966.9,921.2 967.9,920.6 968.6,920.0 969.2,919.4 969.7,918.8 970.3,918.3 970.9,917.7 971.7,917.1 972.7,916.5 973.6,915.9 974.5,915.3 975.5,914.7 976.2,914.1 976.9,913.6 977.5,913.0 978.2,912.4 978.9,911.8 979.8,911.2 980.7,910.6 981.7,910.0 982.6,909.5 983.6,908.9 984.4,908.3 985.1,907.7 985.9,907.1 986.6,906.5 987.4,905.9 988.1,905.3 988.9,904.8 989.7,904.2 990.4,903.6 991.2,903.0 992.0,902.4 992.8,901.8 993.7,901.2 994.5,900.6 995.3,900.0 996.2,899.5 997.0,898.9 997.8,898.3 998.6,897.7 999.4,897.1 1000.2,896.5 1000.9,895.9 1001.7,895.3 1002.4,894.8 1003.2,894.2 1004.1,893.6 1005.0,893.0 1005.9,892.4 1006.9,891.8 1007.8,891.2 1008.6,890.6 1009.3,890.0 1010.0,889.5 1010.8,888.9 1011.5,888.3 1012.5,887.7 1013.5,887.1 1014.5,886.5 1015.5,885.9 1016.5,885.3 1017.3,884.7 1018.0,884.1 1018.7,883.6 1019.4,883.0 1020.1,882.4 1021.0,881.8 1021.9,881.2 1022.8,880.6 1023.7,880.0 1024.6,879.4 1025.2,878.8 1025.9,878.3 1026.5,877.7 1027.1,877.1 1027.7,876.5 1028.5,875.9 1029.3,875.3 1030.1,874.7 1030.8,874.1 1031.6,873.5 1032.6,872.9 1033.6,872.3 1034.5,871.8 1035.5,871.2 1036.5,870.6 1037.2,870.0 1037.9,869.4 1038.5,868.8 1039.2,868.2 1039.9,867.6 1040.7,867.0 1041.6,866.4 1042.5,865.8 1043.3,865.3 1044.2,864.7 1045.0,864.1 1045.8,863.5 1046.7,862.9 1047.5,862.3 1048.3,861.7 1049.0,861.1 1049.7,860.5 1050.4,859.9 1051.1,859.3 1051.8,858.8 1052.6,858.2 1053.4,857.6 1054.2,857.0 1055.0,856.4 1055.8,855.8 1056.6,855.2 1057.4,854.6 1058.2,854.0 1058.9,853.4 1059.7,852.8 1060.5,852.2 1061.4,851.7 1062.2,851.1 1063.0,850.5 1063.8,849.9 1064.8,849.3 1065.8,848.7 1066.8,848.1 1067.8,847.5 1068.8,846.9 1069.6,846.3 1070.4,845.7 1071.3,845.1 1072.1,844.5 1072.9,844.0 1073.6,843.4 1074.3,842.8 1075.0,842.2 1075.7,841.6 1076.4,841.0 1077.3,840.4 1078.1,839.8 1078.9,839.2 1079.8,838.6 1080.6,838.0 1081.3,837.4 1082.0,836.8 1082.7,836.2 1083.4,835.6 1084.1,835.1 1084.9,834.5 1085.8,833.9 1086.7,833.3 1087.6,832.7 1088.5,832.1 1089.2,831.5 1090.0,830.9 1090.8,830.3 1091.6,829.7 1092.4,829.1 1093.2,828.5 1094.0,827.9 1094.8,827.3 1095.6,826.7 1096.4,826.2 1097.3,825.6 1098.3,825.0 1099.3,824.4 1100.3,823.8 1101.2,823.2 1102.0,822.6 1102.7,822.0 1103.4,821.4 1104.1,820.8 1104.8,820.2 1105.6,819.6 1106.3,819.0 1107.1,818.4 1107.8,817.8 1108.5,817.2 1109.3,816.6 1110.1,816.1 1110.9,815.5 1111.7,814.9 1112.5,814.3 1113.3,813.7 1114.1,813.1 1114.9,812.5 1115.7,811.9 1116.6,811.3 1117.5,810.7 1118.5,810.1 1119.5,809.5 1120.4,808.9 1121.4,808.3 1122.1,807.7 1122.8,807.1 1123.6,806.5 1124.3,805.9 1125.0,805.4 1125.7,804.8 1126.3,804.2 1127.0,803.6 1127.6,803.0 1128.2,802.4 1129.0,801.8 1129.8,801.2 1130.6,800.6 1131.4,800.0 1132.2,799.4 1133.0,798.8 1133.8,798.2 1134.7,797.6 1135.5,797.0 1136.3,796.4 1137.2,795.8 1138.1,795.2 1139.0,794.6 1139.9,794.0 1140.9,793.4 1141.6,792.9 1142.4,792.3 1143.2,791.7 1144.0,791.1 1144.7,790.5 1145.7,789.9 1146.6,789.3 1147.6,788.7 1148.5,788.1 1149.5,787.5 1150.3,786.9 1151.1,786.3 1151.9,785.7 1152.7,785.1 1153.5,784.5 1154.2,783.9 1155.0,783.3 1155.7,782.7 1156.4,782.1 1157.1,781.5 1158.0,780.9 1158.8,780.3 1159.7,779.7 1160.5,779.1 1161.4,778.6 1162.2,778.0 1163.0,777.4 1163.9,776.8 1164.7,776.2 1165.5,775.6 1166.2,775.0 1166.9,774.4 1167.6,773.8 1168.3,773.2 1169.0,772.6 1169.9,772.0 1170.8,771.4 1171.7,770.8 1172.6,770.2 1173.5,769.6 1174.1,769.0 1174.7,768.4 1175.3,767.8 1175.9,767.2 1176.5,766.6 1177.3,766.0 1178.2,765.4 1179.0,764.8 1179.9,764.2 1180.7,763.6 1181.7,763.0 1182.7,762.5 1183.7,761.9 1184.7,761.3 1185.6,760.7 1186.3,760.1 1186.9,759.5 1187.5,758.9 1188.2,758.3 1188.8,757.7 1189.6,757.1 1190.3,756.5 1191.1,755.9 1191.8,755.3 1192.6,754.7 1193.5,754.1 1194.4,753.5 1195.4,752.9 1196.3,752.3 1197.2,751.7 1197.9,751.1 1198.5,750.5 1199.2,749.9 1199.9,749.3 1200.5,748.7 1201.5,748.1 1202.4,747.5 1203.4,746.9 1204.3,746.3 1205.3,745.7 1205.9,745.2 1206.6,744.6 1207.2,744.0 1207.9,743.4 1208.6,742.8 1209.6,742.2 1210.6,741.6 1211.6,741.0 1212.6,740.4 1213.6,739.8 1214.4,739.2 1215.1,738.6 1215.8,738.0 1216.6,737.4 1217.3,736.8 1218.1,736.2 1218.8,735.6 1219.6,735.0 1220.3,734.4 1221.1,733.8 1222.0,733.2 1222.9,732.6 1223.7,732.0 1224.6,731.4 1225.5,730.8 1226.2,730.2 1226.9,729.6 1227.6,729.0 1228.3,728.4 1229.0,727.9 1230.0,727.3 1230.9,726.7 1231.9,726.1 1232.8,725.5 1233.7,724.9 1234.3,724.3 1234.9,723.7 1235.5,723.1 1236.1,722.5 1236.8,721.9 1237.8,721.3 1238.9,720.7 1239.9,720.1 1240.9,719.5 1241.9,718.9 1242.5,718.3 1243.1,717.7 1243.6,717.1 1244.2,716.5 1244.8,715.9 1245.6,715.3 1246.3,714.7 1247.1,714.1 1247.8,713.5 1248.6,712.9 1249.7,712.4 1250.7,711.8 1251.7,711.2 1252.8,710.6 1253.8,710.0 1254.6,709.4 1255.3,708.8 1256.1,708.2 1256.9,707.6 1257.7,707.0 1258.3,706.4 1259.0,705.8 1259.7,705.2 1260.4,704.6 1261.1,704.0 1262.0,703.4 1262.9,702.8 1263.7,702.2 1264.6,701.6 1265.5,701.0 1266.1,700.4 1266.7,699.8 1267.4,699.3 1268.0,698.7 1268.7,698.1 1269.8,697.5 1270.8,696.9 1271.9,696.3 1272.9,695.7 1273.9,695.1 1274.5,694.5 1275.2,693.9 1275.8,693.3 1276.4,692.7 1277.0,692.1 1277.9,691.5 1278.8,690.9 1279.7,690.3 1280.6,689.7 1281.5,689.1 1282.3,688.5 1283.2,688.0 1284.0,687.4 1284.9,686.8 1285.7,686.2 1286.3,685.6 1287.0,685.0 1287.6,684.4 1288.3,683.8 1289.0,683.2 1289.8,682.6 1290.6,682.0 1291.5,681.4 1292.3,680.8 1293.2,680.2 1294.1,679.6 1295.0,679.0 1296.0,678.5 1296.9,677.9 1297.8,677.3 1298.5,676.7 1299.2,676.1 1299.9,675.5 1300.7,674.9 1301.4,674.3 1302.2,673.7 1302.9,673.1 1303.7,672.5 1304.5,671.9 1305.3,671.3 1306.3,670.7 1307.2,670.1 1308.2,669.6 1309.1,669.0 1310.0,668.4 1310.8,667.8 1311.6,667.2 1312.4,666.6 1313.2,666.0 1313.9,665.4 1314.7,664.8 1315.4,664.2 1316.2,663.6 1316.9,663.0 1317.6,662.4 1318.3,661.9 1319.0,661.3 1319.7,660.7 1320.3,660.1 1321.1,659.5 1322.1,658.9 1323.0,658.3 1324.0,657.7 1325.0,657.1 1325.9,656.5 1326.7,655.9 1327.5,655.3 1328.2,654.8 1329.0,654.2 1329.8,653.6 1330.7,653.0 1331.5,652.4 1332.4,651.8 1333.2,651.2 1334.1,650.6 1334.9,650.0 1335.7,649.4 1336.6,648.8 1337.4,648.3 1338.2,647.7 1339.0,647.1 1339.7,646.5 1340.4,645.9 1341.2,645.3 1342.0,644.7 1342.9,644.1 1343.7,643.5 1344.6,642.9 1345.5,642.4 1346.3,641.8 1346.9,641.2 1347.6,640.6 1348.2,640.0 1348.8,639.4 1349.4,638.8 1350.4,638.2 1351.3,637.6 1352.3,637.1 1353.2,636.5 1354.2,635.9 1355.0,635.3 1355.8,634.7 1356.6,634.1 1357.4,633.5 1358.2,632.9 1358.9,632.3 1359.6,631.8 1360.3,631.2 1361.0,630.6 1361.7,630.0 1362.5,629.4 1363.3,628.8 1364.1,628.2 1364.9,627.6 1365.8,627.1 1366.8,626.5 1367.7,625.9 1368.7,625.3 1369.6,624.7 1370.5,624.1 1371.1,623.5 1371.8,623.0 1372.4,622.4 1373.0,621.8 1373.7,621.2 1374.5,620.6 1375.4,620.0 1376.2,619.4 1377.0,618.8 1377.8,618.3 1378.6,617.7 1379.4,617.1 1380.2,616.5 1381.0,615.9 1381.8,615.3 1382.8,614.7 1383.8,614.2 1384.8,613.6 1385.8,613.0 1386.7,612.4 1387.4,611.8 1388.0,611.2 1388.7,610.7 1389.3,610.1 1390.1,609.5 1390.9,608.9 1391.8,608.3 1392.7,607.7 1393.6,607.1 1394.4,606.6 1395.1,606.0 1395.9,605.4 1396.6,604.8 1397.3,604.2 1398.1,603.6 1399.2,603.1 1400.2,602.5 1401.3,601.9 1402.3,601.3 1403.2,600.7 1403.9,600.1 1404.6,599.6 1405.3,599.0 1406.0,598.4 1406.7,597.8 1407.5,597.2 1408.3,596.7 1409.2,596.1 1410.0,595.5 1410.8,594.9 1411.5,594.3 1412.2,593.7 1412.9,593.2 1413.6,592.6 1414.4,592.0 1415.3,591.4 1416.3,590.8 1417.2,590.3 1418.2,589.7 1419.1,589.1 1420.0,588.5 1420.8,587.9 1421.7,587.4 1422.5,586.8 1423.3,586.2 1424.1,585.6 1424.9,585.0 1425.7,584.5 1426.4,583.9 1427.2,583.3 1427.9,582.7 1428.7,582.1 1429.4,581.6 1430.1,581.0 1430.9,580.4 1431.9,579.8 1432.9,579.2 1433.9,578.7 1434.9,578.1 1435.8,577.5 1436.4,576.9 1436.9,576.4 1437.5,575.8 1438.1,575.2 1438.8,574.6 1439.7,574.0 1440.6,573.5 1441.4,572.9 1442.3,572.3 1443.2,571.7 1444.2,571.2 1445.1,570.6 1446.0,570.0 1446.9,569.4 1447.8,568.9 1448.5,568.3 1449.2,567.7 1450.0,567.1 1450.7,566.6 1451.4,566.0 1452.2,565.4 1453.0,564.8 1453.8,564.2 1454.6,563.7 1455.4,563.1 1456.2,562.5 1457.0,561.9 1457.9,561.4 1458.7,560.8 1459.5,560.2 1460.4,559.6 1461.3,559.1 1462.2,558.5 1463.1,557.9 1463.9,557.4 1464.8,556.8 1465.7,556.2 1466.6,555.6 1467.4,555.1 1468.3,554.5 1469.0,553.9 1469.8,553.3 1470.5,552.8 1471.3,552.2 1472.1,551.6 1473.0,551.0 1473.9,550.5 1474.8,549.9 1475.7,549.3 1476.5,548.8 1477.1,548.2 1477.8,547.6 1478.4,547.0 1479.1,546.5 1479.8,545.9 1480.7,545.3 1481.5,544.8 1482.4,544.2 1483.2,543.6 1484.1,543.0 1485.1,542.5 1486.1,541.9 1487.1,541.3 1488.1,540.8 1489.0,540.2 1489.7,539.6 1490.4,539.0 1491.1,538.5 1491.9,537.9 1492.6,537.3 1493.4,536.8 1494.1,536.2 1494.9,535.6 1495.7,535.1 1496.5,534.5 1497.5,533.9 1498.5,533.3 1499.4,532.8 1500.4,532.2 1501.2,531.6 1501.8,531.1 1502.4,530.5 1503.0,529.9 1503.6,529.4 1504.4,528.8 1505.4,528.2 1506.5,527.7 1507.6,527.1 1508.6,526.5 1509.5,526.0 1510.2,525.4 1511.0,524.8 1511.7,524.3 1512.4,523.7 1513.2,523.1 1514.1,522.6 1515.0,522.0 1515.8,521.4 1516.7,520.9 1517.5,520.3 1518.2,519.7 1518.9,519.2 1519.6,518.6 1520.3,518.0 1521.1,517.5 1521.8,516.9 1522.6,516.3 1523.3,515.8 1524.1,515.2 1524.9,514.6 1525.7,514.1 1526.5,513.5 1527.3,512.9 1528.2,512.4 1529.0,511.8 1529.9,511.2 1530.9,510.7 1531.8,510.1 1532.7,509.6 1533.6,509.0 1534.6,508.4 1535.6,507.9 1536.6,507.3 1537.6,506.7 1538.5,506.2 1539.3,505.6 1540.2,505.0 1541.0,504.5 1541.9,503.9 1542.6,503.4 1543.2,502.8 1543.8,502.2 1544.5,501.7 1545.1,501.1 1545.8,500.5 1546.6,500.0 1547.4,499.4 1548.3,498.9 1549.1,498.3 1550.0,497.7 1551.0,497.2 1552.0,496.6 1552.9,496.1 1553.9,495.5 1554.8,494.9 1555.7,494.4 1556.5,493.8 1557.4,493.3 1558.2,492.7 1559.0,492.1 1559.6,491.6 1560.2,491.0 1560.8,490.5 1561.4,489.9 1562.2,489.3 1563.2,488.8 1564.2,488.2 1565.2,487.7 1566.2,487.1 1567.2,486.5 1568.0,486.0 1568.9,485.4 1569.7,484.9 1570.6,484.3 1571.4,483.7 1572.2,483.2 1573.0,482.6 1573.8,482.1 1574.6,481.5 1575.4,481.0 1576.3,480.4 1577.2,479.8 1578.1,479.3 1579.0,478.7 1579.8,478.2 1580.4,477.6 1581.0,477.1 1581.7,476.5 1582.3,475.9 1583.1,475.4 1584.0,474.8 1584.9,474.3 1585.8,473.7 1586.7,473.2 1587.7,472.6 1588.6,472.1 1589.6,471.5 1590.6,470.9 1591.5,470.4 1592.3,469.8 1593.0,469.3 1593.6,468.7 1594.2,468.2 1594.9,467.6 1595.7,467.1 1596.7,466.5 1597.7,466.0 1598.7,465.4 1599.7,464.8 1600.6,464.3 1601.4,463.7 1602.3,463.2 1603.1,462.6 1603.9,462.1 1604.6,461.5 1605.3,461.0 1606.1,460.4 1606.8,459.9 1607.5,459.3 1608.4,458.8 1609.4,458.2 1610.4,457.7 1611.4,457.1 1612.4,456.5 1613.2,456.0 1613.9,455.4 1614.5,454.9 1615.2,454.3 1615.9,453.8 1616.7,453.2 1617.6,452.7 1618.5,452.1 1619.4,451.6 1620.4,451.0 1621.2,450.5 1622.0,449.9 1622.8,449.4 1623.6,448.8 1624.4,448.3 1625.3,447.7 1626.2,447.1 1627.2,446.6 1628.1,446.0 1629.0,445.5 1629.8,444.9 1630.5,444.4 1631.1,443.8 1631.8,443.3 1632.4,442.7 1633.2,442.2 1634.1,441.6 1635.0,441.0 1635.8,440.5 1636.7,439.9 1637.6,439.4 1638.4,438.8 1639.2,438.3 1640.0,437.7 1640.8,437.2 1641.6,436.6 1642.3,436.0 1643.1,435.5 1643.9,434.9 1644.7,434.4 1645.6,433.8 1646.6,433.2 1647.6,432.7 1648.6,432.1 1649.6,431.6 1650.5,431.0 1651.2,430.4 1651.9,429.9 1652.6,429.3 1653.3,428.8 1654.1,428.2 1655.0,427.6 1655.8,427.1 1656.7,426.5 1657.5,425.9 1658.4,425.4 1659.2,424.8 1660.1,424.2 1661.0,423.7 1661.9,423.1 1662.6,422.5 1663.3,422.0 1664.0,421.4 1664.7,420.8 1665.4,420.3 1666.1,419.7 1666.9,419.1 1667.7,418.6 1668.5,418.0 1669.4,417.4 1670.3,416.8 1671.3,416.3 1672.4,415.7 1673.4,415.1 1674.5,414.6 1675.2,414.0 1675.9,413.4 1676.5,412.8 1677.1,412.3 1677.7,411.7 1678.4,411.1 1679.2,410.5 1680.0,410.0 1680.8,409.4 1681.6,408.8 1682.4,408.2 1683.2,407.7 1684.0,407.1 1684.8,406.5 1685.6,405.9 1686.5,405.4 1687.4,404.8 1688.3,404.2 1689.2,403.6 1690.1,403.0 1691.0,402.5 1691.9,401.9 1692.8,401.3 1693.8,400.7 1694.7,400.1 1695.6,399.6 1696.4,399.0 1697.3,398.4 1698.2,397.8 1699.1,397.2 1699.9,396.7 1700.7,396.1 1701.5,395.5 1702.3,394.9 1703.0,394.3 1703.9,393.8 1704.7,393.2 1705.5,392.6 1706.4,392.0 1707.2,391.4 1707.9,390.8 1708.6,390.3 1709.2,389.7 1709.9,389.1 1710.5,388.5 1711.4,387.9 1712.4,387.3 1713.4,386.8 1714.4,386.2 1715.3,385.6 1716.2,385.0 1717.0,384.4 1717.7,383.8 1718.5,383.2 1719.3,382.7 1720.0,382.1 1720.6,381.5 1721.3,380.9 1722.0,380.3 1722.6,379.7 1723.5,379.1 1724.4,378.6 1725.4,378.0 1726.4,377.4 1727.3,376.8 1728.1,376.2 1728.8,375.6 1729.5,375.0 1730.2,374.5 1730.9,373.9 1731.7,373.3 1732.5,372.7 1733.3,372.1 1734.1,371.5 1735.0,370.9 1735.8,370.4 1736.6,369.8 1737.4,369.2 1738.2,368.6 1739.0,368.0 1739.8,367.4 1740.5,366.8 1741.3,366.3 1742.1,365.7 1742.9,365.1 1743.8,364.5 1744.7,363.9 1745.7,363.3 1746.6,362.7 1747.6,362.1 1748.4,361.6 1749.1,361.0 1749.9,360.4 1750.7,359.8 1751.5,359.2 1752.2,358.6 1752.9,358.0 1753.6,357.5 1754.3,356.9 1755.0,356.3 1755.9,355.7 1756.9,355.1 1757.9,354.5 1758.9,354.0 1759.9,353.4 1760.7,352.8 1761.5,352.2 1762.2,351.6 1763.0,351.0 1763.7,350.4 1764.5,349.9 1765.3,349.3 1766.0,348.7 1766.8,348.1 1767.5,347.5 1768.3,346.9 1769.0,346.4 1769.8,345.8 1770.6,345.2 1771.3,344.6 1772.1,344.0 1772.9,343.5 1773.6,342.9 1774.4,342.3 1775.2,341.7 1776.1,341.1 1777.0,340.5 1777.9,340.0 1778.8,339.4 1779.7,338.8 1780.6,338.2 1781.5,337.6 1782.4,337.1 1783.4,336.5 1784.3,335.9 1785.0,335.3 1785.7,334.7 1786.4,334.2 1787.1,333.6 1787.8,333.0 1788.6,332.4 1789.4,331.9 1790.2,331.3 1791.1,330.7 1791.9,330.1 1792.6,329.6 1793.3,329.0 1794.0,328.4 1794.7,327.8 1795.4,327.3 1796.3,326.7 1797.3,326.1 1798.3,325.5 1799.3,325.0 1800.3,324.4 1801.1,323.8 1801.8,323.2 1802.5,322.7 1803.2,322.1 1803.9,321.5 1804.7,320.9 1805.6,320.4 1806.5,319.8 1807.4,319.2 1808.3,318.7 1809.2,318.1 1810.1,317.5 1810.9,317.0 1811.8,316.4 1812.7,315.8 1813.5,315.3 1814.4,314.7 1815.3,314.1 1816.1,313.6 1817.0,313.0 1817.7,312.4 1818.4,311.9 1819.0,311.3 1819.7,310.7 1820.4,310.2 1821.3,309.6 1822.1,309.0 1823.0,308.5 1823.9,307.9 1824.8,307.3 1825.7,306.8 1826.6,306.2 1827.5,305.6 1828.4,305.1 1829.3,304.5 1830.1,304.0 1830.8,303.4 1831.6,302.8 1832.3,302.3 1833.0,301.7 1833.8,301.1 1834.6,300.6 1835.3,300.0 1836.1,299.5 1836.9,298.9 1837.8,298.3 1838.8,297.8 1839.7,297.2 1840.7,296.7 1841.6,296.1 1842.5,295.5 1843.3,295.0 1844.2,294.4 1845.0,293.9 1845.9,293.3 1846.7,292.7 1847.5,292.2 1848.2,291.6 1849.0,291.1 1849.8,290.5 1850.5,289.9 1851.2,289.4 1851.8,288.8 1852.5,288.3 1853.1,287.7 1854.0,287.1 1855.0,286.6 1855.9,286.0 1856.9,285.5 1857.8,284.9 1858.6,284.4 1859.4,283.8 1860.2,283.2 1861.1,282.7 1861.9,282.1 1862.8,281.6 1863.8,281.0 1864.8,280.4 1865.8,279.9 1866.7,279.3 1867.4,278.8 1868.0,278.2 1868.6,277.7 1869.2,277.1 1869.8,276.5 1870.6,276.0 1871.6,275.4 1872.5,274.9 1873.4,274.3 1874.4,273.8 1875.3,273.2 1876.1,272.6 1877.0,272.1 1877.9,271.5 1878.8,271.0 1879.5,270.4 1880.2,269.8 1881.0,269.3 1881.7,268.7 1882.4,268.2 1883.4,267.6 1884.4,267.1 1885.4,266.5 1886.4,265.9 1887.5,265.4 1888.2,264.8 1888.9,264.3 1889.7,263.7 1890.4,263.1 1891.1,262.6 1892.0,262.0 1892.9,261.5 1893.9,260.9 1894.8,260.3 1895.7,259.8 1896.6,259.2 1897.5,258.7 1898.3,258.1 1899.2,257.5 1900.0,257.0 1900.7,256.4 1901.4,255.9 1902.1,255.3 1902.8,254.7 1903.5,254.2 1904.3,253.6 1905.1,253.0 1906.0,252.5 1906.8,251.9 1907.6,251.4 1908.5,250.8 1909.3,250.2 1910.2,249.7 1911.0,249.1 1911.9,248.5 1912.7,248.0 1913.5,247.4 1914.4,246.9 1915.2,246.3 1916.0,245.7 1916.9,245.2 1917.8,244.6 1918.6,244.0 1919.5,243.5 1920.3,242.9 1921.1,242.3 1922.0,241.8 1922.8,241.2 1923.6,240.6 1924.4,240.1 1925.3,239.5 1926.2,239.0 1927.1,238.4 1928.0,237.8 1928.8,237.3 1929.5,236.7 1930.1,236.1 1930.7,235.6 1931.3,235.0 1931.9,234.4 1932.7,233.9 1933.5,233.3 1934.4,232.7 1935.2,232.2 1936.0,231.6 1936.8,231.0 1937.7,230.5 1938.5,229.9 1939.4,229.3 1940.2,228.8 1941.1,228.2 1942.0,227.6 1942.9,227.1 1943.7,226.5 1944.6,225.9 1945.5,225.4 1946.3,224.8 1947.1,224.2 1947.9,223.7 1948.8,223.1 1949.6,222.5 1950.4,222.0 1951.2,221.4 1952.1,220.8 1952.9,220.2 1953.6,219.7 1954.4,219.1 1955.1,218.5 1955.8,218.0 1956.5,217.4 1957.5,216.8 1958.4,216.3 1959.3,215.7 1960.2,215.1 1961.2,214.6 1962.1,214.0 1962.9,213.4 1963.8,212.9 1964.7,212.3 1965.6,211.7 1966.4,211.2 1967.1,210.6 1967.9,210.0 1968.6,209.4 1969.4,208.9 1970.3,208.3 1971.3,207.7 1972.3,207.2 1973.2,206.6 1974.2,206.0 1974.9,205.5 1975.6,204.9 1976.2,204.3 1976.9,203.8 1977.6,203.2 1978.4,202.6 1979.3,202.1 1980.1,201.5 1981.0,200.9 1981.8,200.3 1982.7,199.8 1983.6,199.2 1984.5,198.6 1985.4,198.1 1986.3,197.5 1987.2,196.9 1988.0,196.4 1988.9,195.8 1989.8,195.2 1990.6,194.7 1991.5,194.1 1992.3,193.5 1993.1,193.0 1994.0,192.4 1994.8,191.8 1995.4,191.3 1996.0,190.7 1996.7,190.1 1997.3,189.5 1998.0,189.0 1998.8,188.4 1999.6,187.8 2000.5,187.3 2001.4,186.7 2002.2,186.1 2003.1,185.6 2004.1,185.0 2004.9,184.4 2005.8,183.9 2006.6,183.3 2023.0,185.3 2050.3,185.3"/>
<polyline stroke="#000000" stroke-width="12" points="2050.3,185.3 2049.9,186.2 2049.5,187.1 2049.0,188.0 2048.5,188.9 2048.1,189.8 2047.7,190.7 2047.3,191.6 2047.0,192.5 2046.7,193.5 2046.4,194.4 2046.2,195.3 2046.0,196.2 2045.5,197.1 2045.0,198.0 2044.5,198.9 2043.9,199.8 2043.5,200.7 2043.2,201.6 2042.8,202.5 2042.4,203.4 2041.6,204.3 2040.9,205.2 2040.1,206.1 2039.4,207.0 2039.3,207.9 2039.3,208.8 2039.2,209.8 2039.2,210.7 2038.6,211.6 2038.0,212.5 2037.5,213.4 2036.9,214.3 2036.5,215.2 2036.0,216.1 2035.6,217.0 2035.2,217.9 2034.5,218.8 2033.9,219.7 2033.2,220.6 2032.6,221.5 2032.2,222.4 2031.9,223.3 2031.6,224.2 2031.3,225.1 2031.0,226.0 2030.7,226.9 2030.5,227.8 2030.2,228.8 2029.6,229.7 2029.1,230.6 2028.6,231.5 2028.1,232.4 2027.7,233.3 2027.3,234.2 2026.9,235.1 2026.5,236.0 2026.2,236.9 2025.8,237.8 2025.4,238.7 2025.1,239.6 2024.6,240.5 2024.1,241.4 2023.6,242.3 2023.1,243.2 2022.5,244.1 2021.8,245.0 2021.1,245.9 2020.5,246.8 2020.3,247.7 2020.1,248.6 2019.9,249.5 2019.7,250.4 2019.3,251.3 2019.0,252.2 2018.6,253.1 2018.3,254.0 2017.9,254.9 2017.6,255.8 2017.2,256.7 2016.8,257.6 2016.0,258.5 2015.2,259.4 2014.4,260.3 2013.6,261.2 2013.6,262.1 2013.5,263.0 2013.4,263.9 2013.3,264.8 2012.7,265.7 2012.0,266.6 2011.4,267.5 2010.8,268.4 2010.3,269.3 2009.9,270.2 2009.5,271.1 2009.0,272.0 2008.8,272.9 2008.7,273.8 2008.5,274.7 2008.2,275.6 2007.4,276.5 2006.6,277.4 2005.8,278.3 2005.0,279.2 2004.8,280.1 2004.6,281.0 2004.4,281.9 2004.2,282.8 2003.5,283.7 2002.8,284.6 2002.2,285.5 2001.5,286.4 2001.4,287.3 2001.2,288.2 2001.1,289.1 2000.9,290.0 2000.1,290.9 1999.3,291.8 1998.5,292.7 1997.8,293.6 1997.6,294.5 1997.4,295.4 1997.2,296.3 1996.9,297.2 1996.3,298.1 1995.7,299.0 1995.1,299.9 1994.5,300.8 1994.1,301.7 1993.8,302.6 1993.4,303.5 1993.0,304.4 1992.4,305.3 1991.9,306.2 1991.3,307.1 1990.8,308.0 1990.4,308.9 1990.1,309.8 1989.7,310.7 1989.4,311.6 1989.2,312.5 1988.9,313.4 1988.7,314.3 1988.4,315.2 1988.0,316.1 1987.6,317.0 1987.3,317.9 1986.9,318.8 1986.4,319.7 1985.9,320.6 1985.4,321.5 1984.9,322.4 1984.3,323.3 1983.7,324.2 1983.1,325.1 1982.6,326.0 1982.2,326.9 1981.8,327.8 1981.5,328.7 1981.1,329.6 1980.7,330.5 1980.3,331.4 1979.8,332.3 1979.4,333.2 1978.9,334.1 1978.3,335.0 1977.8,335.9 1977.3,336.8 1976.9,337.7 1976.6,338.6 1976.2,339.5 1975.9,340.4 1975.7,341.3 1975.5,342.2 1975.3,343.1 1975.0,344.0 1974.4,344.9 1973.7,345.9 1973.1,346.8 1972.5,347.7 1972.0,348.6 1971.5,349.5 1971.0,350.4 1970.6,351.3 1970.3,352.2 1970.0,353.1 1969.7,354.0 1969.4,354.9 1969.1,355.8 1968.7,356.7 1968.3,357.6 1967.9,358.5 1967.1,359.4 1966.3,360.3 1965.5,361.2 1964.8,362.1 1964.5,363.0 1964.2,363.9 1963.8,364.8 1963.6,365.7 1963.4,366.6 1963.2,367.6 1963.0,368.5 1962.7,369.4 1962.1,370.3 1961.6,371.2 1961.0,372.1 1960.4,373.0 1959.8,373.9 1959.1,374.8 1958.5,375.7 1958.0,376.6 1957.7,377.5 1957.5,378.4 1957.3,379.3 1957.0,380.2 1956.5,381.2 1956.1,382.1 1955.6,383.0 1955.2,383.9 1954.9,384.8 1954.6,385.7 1954.3,386.6 1953.9,387.5 1953.4,388.4 1952.8,389.3 1952.3,390.2 1951.8,391.1 1951.7,392.0 1951.6,393.0 1951.5,393.9 1951.3,394.8 1950.7,395.7 1950.1,396.6 1949.5,397.5 1948.9,398.4 1948.2,399.3 1947.6,400.2 1947.0,401.1 1946.4,402.0 1946.2,403.0 1946.0,403.9 1945.7,404.8 1945.4,405.7 1944.9,406.6 1944.5,407.5 1944.0,408.4 1943.5,409.3 1942.9,410.2 1942.3,411.1 1941.7,412.0 1941.2,413.0 1940.8,413.9 1940.4,414.8 1940.1,415.7 1939.7,416.6 1939.6,417.5 1939.5,418.4 1939.4,419.3 1939.2,420.2 1938.6,421.1 1938.1,422.0 1937.5,423.0 1936.9,423.9 1936.4,424.8 1935.9,425.7 1935.3,426.6 1934.9,427.5 1934.7,428.4 1934.4,429.3 1934.2,430.2 1933.9,431.1 1933.5,432.0 1933.1,432.9 1932.7,433.9 1932.3,434.8 1931.7,435.7 1931.1,436.6 1930.5,437.5 1929.9,438.4 1929.5,439.3 1929.0,440.2 1928.5,441.1 1928.1,442.0 1927.8,442.9 1927.5,443.8 1927.3,444.8 1926.9,445.7 1926.5,446.6 1926.0,447.5 1925.6,448.4 1925.1,449.3 1924.7,450.2 1924.3,451.1 1923.9,452.0 1923.5,452.9 1923.0,453.8 1922.6,454.7 1922.1,455.6 1921.7,456.5 1921.2,457.4 1920.8,458.4 1920.3,459.3 1919.9,460.2 1919.6,461.1 1919.3,462.0 1919.0,462.9 1918.6,463.8 1918.1,464.7 1917.6,465.6 1917.2,466.5 1916.7,467.4 1916.5,468.3 1916.2,469.2 1915.9,470.1 1915.6,471.0 1915.1,471.9 1914.7,472.8 1914.2,473.7 1913.8,474.6 1913.4,475.5 1913.0,476.4 1912.6,477.3 1912.1,478.2 1911.5,479.1 1910.8,480.0 1910.1,480.9 1909.5,481.8 1909.1,482.7 1908.6,483.6 1908.1,484.5 1907.7,485.4 1907.4,486.4 1907.1,487.3 1906.8,488.2 1906.4,489.0 1905.8,489.9 1905.2,490.8 1904.6,491.7 1904.0,492.6 1903.6,493.5 1903.2,494.4 1902.8,495.3 1902.3,496.2 1901.9,497.1 1901.5,498.0 1901.1,498.9 1900.7,499.8 1900.1,500.7 1899.6,501.6 1899.1,502.5 1898.6,503.4 1898.2,504.3 1897.9,505.2 1897.5,506.1 1897.2,507.0 1896.9,507.9 1896.6,508.8 1896.4,509.7 1896.0,510.6 1895.6,511.5 1895.1,512.4 1894.7,513.3 1894.2,514.1 1893.7,515.0 1893.2,515.9 1892.7,516.8 1892.3,517.7 1891.9,518.6 1891.6,519.5 1891.2,520.4 1890.8,521.3 1890.4,522.2 1890.0,523.1 1889.6,524.0 1889.1,524.9 1888.5,525.8 1887.8,526.6 1887.2,527.5 1886.6,528.4 1886.4,529.3 1886.1,530.2 1885.8,531.1 1885.5,532.0 1885.1,532.9 1884.7,533.8 1884.3,534.7 1883.8,535.6 1883.2,536.5 1882.6,537.3 1882.1,538.2 1881.5,539.1 1881.1,540.0 1880.7,540.9 1880.3,541.8 1879.8,542.7 1879.2,543.6 1878.5,544.5 1877.9,545.4 1877.4,546.3 1877.0,547.2 1876.6,548.1 1876.2,549.0 1875.7,549.8 1875.1,550.7 1874.6,551.6 1874.0,552.5 1873.5,553.4 1873.1,554.3 1872.7,555.2 1872.3,556.1 1871.9,557.0 1871.7,557.9 1871.5,558.8 1871.3,559.7 1871.0,560.6 1870.5,561.5 1870.0,562.4 1869.4,563.3 1869.0,564.2 1868.5,565.1 1868.1,566.0 1867.7,566.9 1867.3,567.8 1867.0,568.7 1866.7,569.6 1866.4,570.5 1866.0,571.4 1865.1,572.3 1864.3,573.2 1863.5,574.1 1862.8,575.0 1862.4,575.9 1862.0,576.8 1861.5,577.7 1861.1,578.6 1860.8,579.5 1860.5,580.4 1860.2,581.3 1859.8,582.2 1859.3,583.1 1858.8,584.0 1858.3,584.9 1857.8,585.8 1857.6,586.7 1857.3,587.6 1857.0,588.5 1856.7,589.4 1856.4,590.3 1856.1,591.2 1855.8,592.1 1855.4,593.0 1854.9,593.9 1854.3,594.8 1853.8,595.7 1853.2,596.6 1852.6,597.5 1852.0,598.4 1851.4,599.3 1850.9,600.2 1850.5,601.1 1850.2,602.0 1849.8,602.9 1849.5,603.8 1849.0,604.7 1848.5,605.6 1848.0,606.5 1847.6,607.4 1847.4,608.3 1847.2,609.2 1846.9,610.1 1846.5,611.0 1845.9,612.0 1845.3,612.9 1844.7,613.8 1844.2,614.7 1844.0,615.6 1843.8,616.5 1843.6,617.4 1843.2,618.3 1842.6,619.2 1841.9,620.1 1841.3,621.0 1840.7,621.9 1840.2,622.8 1839.6,623.7 1839.1,624.6 1838.8,625.5 1838.7,626.4 1838.7,627.3 1838.7,628.2 1838.4,629.1 1837.8,630.0 1837.2,631.0 1836.6,631.9 1836.1,632.8 1835.8,633.7 1835.4,634.6 1835.1,635.5 1834.7,636.4 1834.2,637.3 1833.7,638.2 1833.2,639.1 1832.9,640.0 1832.6,640.9 1832.4,641.8 1832.1,642.7 1831.6,643.6 1830.8,644.5 1830.0,645.4 1829.2,646.3 1828.6,647.2 1828.3,648.1 1828.0,649.0 1827.7,649.9 1827.3,650.8 1826.9,651.8 1826.6,652.7 1826.2,653.6 1825.8,654.5 1825.4,655.4 1825.1,656.3 1824.7,657.2 1824.4,658.1 1824.0,659.0 1823.6,659.9 1823.2,660.8 1822.6,661.7 1821.9,662.6 1821.1,663.5 1820.4,664.4 1819.9,665.3 1819.7,666.2 1819.5,667.1 1819.3,668.0 1819.0,668.9 1818.8,669.8 1818.5,670.7 1818.3,671.6 1817.9,672.5 1817.4,673.4 1817.0,674.3 1816.5,675.2 1815.9,676.1 1815.2,677.0 1814.4,677.9 1813.7,678.8 1813.2,679.7 1812.9,680.6 1812.6,681.5 1812.4,682.4 1812.0,683.3 1811.5,684.2 1811.0,685.1 1810.4,686.0 1809.9,686.9 1809.5,687.8 1809.1,688.7 1808.7,689.6 1808.1,690.5 1807.5,691.4 1806.9,692.3 1806.3,693.2 1805.7,694.1 1805.2,695.0 1804.8,695.8 1804.3,696.7 1804.0,697.6 1803.7,698.5 1803.5,699.4 1803.3,700.3 1802.9,701.2 1802.4,702.1 1801.9,703.0 1801.4,703.9 1801.0,704.8 1800.6,705.7 1800.2,706.6 1799.9,707.5 1799.4,708.3 1798.7,709.2 1798.1,710.1 1797.4,711.0 1797.0,711.9 1796.9,712.8 1796.8,713.7 1796.7,714.6 1796.2,715.5 1795.3,716.4 1794.5,717.2 1793.6,718.1 1793.1,719.0 1793.0,719.9 1792.9,720.8 1792.7,721.7 1792.5,722.6 1792.0,723.5 1791.6,724.3 1791.1,725.2 1790.6,726.1 1790.0,727.0 1789.5,727.9 1788.9,728.8 1788.5,729.7 1788.2,730.6 1787.9,731.4 1787.7,732.3 1787.1,733.2 1786.2,734.1 1785.3,735.0 1784.4,735.9 1783.7,736.8 1783.3,737.6 1782.9,738.5 1782.5,739.4 1782.1,740.3 1781.6,741.2 1781.2,742.1 1780.8,742.9 1780.4,743.8 1780.0,744.7 1779.7,745.6 1779.3,746.5 1779.0,747.4 1778.6,748.2 1778.3,749.1 1778.0,750.0 1777.6,750.9 1777.0,751.8 1776.4,752.7 1775.9,753.5 1775.3,754.4 1774.8,755.3 1774.2,756.2 1773.7,757.1 1773.1,757.9 1772.6,758.8 1772.1,759.7 1771.7,760.6 1771.2,761.5 1770.9,762.4 1770.6,763.2 1770.3,764.1 1769.8,765.0 1769.3,765.9 1768.8,766.8 1768.3,767.6 1767.9,768.5 1767.5,769.4 1767.1,770.3 1766.7,771.2 1766.1,772.1 1765.3,772.9 1764.5,773.8 1763.7,774.7 1763.1,775.6 1762.6,776.5 1762.1,777.3 1761.6,778.2 1761.2,779.1 1760.9,780.0 1760.6,780.9 1760.2,781.7 1759.9,782.6 1759.4,783.5 1759.0,784.4 1758.6,785.3 1758.2,786.1 1757.8,787.0 1757.5,787.9 1757.1,788.8 1756.7,789.7 1756.1,790.5 1755.5,791.4 1755.0,792.3 1754.4,793.2 1753.7,794.1 1753.1,794.9 1752.5,795.8 1752.1,796.7 1751.9,797.6 1751.8,798.5 1751.6,799.3 1751.1,800.2 1750.3,801.1 1749.5,802.0 1748.7,802.9 1748.1,803.7 1747.6,804.6 1747.2,805.5 1746.7,806.4 1746.2,807.3 1745.7,808.1 1745.2,809.0 1744.6,809.9 1744.2,810.8 1743.7,811.6 1743.2,812.5 1742.8,813.4 1742.4,814.3 1742.2,815.2 1742.0,816.0 1741.7,816.9 1741.3,817.8 1740.8,818.7 1740.2,819.6 1739.7,820.4 1739.2,821.3 1738.8,822.2 1738.4,823.1 1738.0,823.9 1737.4,824.8 1736.7,825.7 1735.9,826.6 1735.2,827.5 1734.7,828.3 1734.4,829.2 1734.0,830.1 1733.7,831.0 1733.4,831.8 1733.0,832.7 1732.7,833.6 1732.4,834.5 1731.9,835.4 1731.3,836.2 1730.7,837.1 1730.1,838.0 1729.6,838.9 1729.3,839.7 1729.0,840.6 1728.6,841.5 1728.0,842.4 1727.1,843.3 1726.3,844.1 1725.4,845.0 1724.9,845.9 1724.5,846.8 1724.1,847.6 1723.7,848.5 1723.3,849.4 1722.8,850.3 1722.4,851.1 1721.9,852.0 1721.6,852.9 1721.3,853.8 1721.1,854.7 1720.9,855.5 1720.4,856.4 1719.9,857.3 1719.4,858.2 1718.8,859.0 1718.2,859.9 1717.6,860.8 1716.9,861.7 1716.3,862.5 1715.7,863.4 1715.3,864.3 1714.8,865.2 1714.4,866.1 1714.0,866.9 1713.7,867.8 1713.4,868.7 1713.1,869.6 1712.5,870.4 1711.7,871.3 1710.9,872.2 1710.1,873.1 1709.5,873.9 1709.1,874.8 1708.6,875.7 1708.2,876.6 1707.7,877.4 1707.3,878.3 1706.9,879.2 1706.4,880.1 1706.0,880.9 1705.7,881.8 1705.3,882.7 1705.0,883.6 1704.4,884.5 1703.8,885.3 1703.1,886.2 1702.4,887.1 1701.9,888.0 1701.4,888.8 1701.0,889.7 1700.5,890.6 1700.2,891.5 1700.0,892.3 1699.9,893.2 1699.7,894.1 1699.1,895.0 1698.3,895.8 1697.4,896.7 1696.6,897.6 1696.1,898.5 1695.8,899.3 1695.5,900.2 1695.2,901.1 1694.8,902.0 1694.3,902.8 1693.9,903.7 1693.4,904.6 1692.8,905.5 1692.1,906.4 1691.4,907.2 1690.6,908.1 1690.3,909.0 1690.3,909.9 1690.2,910.7 1690.1,911.6 1689.5,912.5 1688.7,913.4 1687.9,914.2 1687.0,915.1 1686.4,916.0 1685.9,916.9 1685.3,917.7 1684.8,918.6 1684.5,919.5 1684.3,920.4 1684.1,921.2 1683.9,922.1 1683.5,923.0 1683.0,923.9 1682.4,924.7 1681.9,925.6 1681.4,926.5 1681.1,927.3 1680.7,928.2 1680.3,929.1 1679.9,930.0 1679.4,930.8 1678.9,931.7 1678.4,932.6 1677.9,933.5 1677.5,934.3 1677.0,935.2 1676.5,936.1 1675.9,936.9 1675.3,937.8 1674.7,938.7 1674.1,939.6 1673.4,940.4 1672.7,941.3 1672.0,942.2 1671.3,943.0 1671.0,943.9 1670.8,944.8 1670.6,945.7 1670.4,946.5 1669.8,947.4 1669.1,948.3 1668.3,949.1 1667.6,950.0 1667.0,950.9 1666.5,951.7 1666.0,952.6 1665.6,953.5 1665.0,954.3 1664.4,955.2 1663.8,956.1 1663.3,956.9 1662.8,957.8 1662.3,958.7 1661.9,959.5 1661.4,960.4 1661.0,961.3 1660.7,962.1 1660.4,963.0 1660.0,963.8 1659.4,964.7 1658.8,965.6 1658.1,966.4 1657.5,967.3 1656.9,968.2 1656.4,969.0 1655.8,969.9 1655.3,970.7 1655.0,971.6 1654.8,972.5 1654.6,973.3 1654.4,974.2 1653.7,975.0 1652.9,975.9 1652.0,976.8 1651.1,977.6 1650.5,978.5 1650.1,979.3 1649.6,980.2 1649.1,981.1 1648.8,981.9 1648.5,982.8 1648.2,983.6 1647.9,984.5 1647.5,985.3 1647.0,986.2 1646.5,987.1 1645.9,987.9 1645.4,988.8 1644.8,989.6 1644.2,990.5 1643.6,991.3 1643.2,992.2 1642.9,993.0 1642.5,993.9 1642.2,994.7 1641.7,995.6 1641.2,996.5 1640.7,997.3 1640.2,998.2 1639.5,999.0 1638.9,999.9 1638.2,1000.7 1637.5,1001.6 1636.9,1002.4 1636.3,1003.3 1635.7,1004.1 1635.1,1005.0 1634.6,1005.8 1634.1,1006.7 1633.7,1007.5 1633.2,1008.4 1632.6,1009.2 1632.1,1010.1 1631.5,1010.9 1630.9,1011.8 1630.5,1012.6 1630.2,1013.5 1629.9,1014.3 1629.6,1015.2 1629.1,1016.0 1628.5,1016.9 1627.9,1017.7 1627.3,1018.6 1626.7,1019.4 1626.0,1020.3 1625.4,1021.1 1624.7,1022.0 1624.2,1022.8 1623.8,1023.7 1623.4,1024.5 1623.0,1025.4 1622.5,1026.2 1622.0,1027.1 1621.5,1027.9 1620.9,1028.8 1620.2,1029.6 1619.4,1030.4 1618.6,1031.3 1617.8,1032.1 1617.2,1033.0 1616.6,1033.8 1616.1,1034.7 1615.6,1035.5 1615.3,1036.4 1615.0,1037.2 1614.8,1038.1 1614.5,1038.9 1614.0,1039.8 1613.5,1040.6 1612.9,1041.4 1612.3,1042.3 1611.6,1043.1 1610.9,1044.0 1610.1,1044.8 1609.4,1045.7 1608.9,1046.5 1608.5,1047.4 1608.1,1048.2 1607.7,1049.0 1607.3,1049.9 1606.8,1050.7 1606.3,1051.6 1605.8,1052.4 1605.3,1053.3 1604.8,1054.1 1604.2,1055.0 1603.7,1055.8 1603.2,1056.6 1602.8,1057.5 1602.3,1058.3 1601.9,1059.2 1601.3,1060.0 1600.7,1060.9 1600.1,1061.7 1599.5,1062.6 1598.7,1063.4 1598.0,1064.2 1597.2,1065.1 1596.4,1065.9 1596.0,1066.8 1595.8,1067.6 1595.6,1068.5 1595.4,1069.3 1594.8,1070.2 1594.0,1071.0 1593.3,1071.8 1592.5,1072.7 1591.8,1073.5 1591.1,1074.4 1590.4,1075.2 1589.7,1076.1 1589.3,1076.9 1588.9,1077.8 1588.5,1078.6 1588.1,1079.4 1587.7,1080.3 1587.2,1081.1 1586.7,1082.0 1586.2,1082.8 1585.6,1083.7 1585.1,1084.5 1584.5,1085.3 1583.9,1086.2 1583.3,1087.0 1582.6,1087.9 1582.0,1088.7 1581.3,1089.6 1581.0,1090.4 1580.8,1091.3 1580.6,1092.1 1580.4,1093.0 1579.6,1093.8 1578.6,1094.6 1577.6,1095.5 1576.7,1096.3 1576.2,1097.2 1575.9,1098.0 1575.6,1098.9 1575.3,1099.7 1574.7,1100.6 1574.1,1101.4 1573.4,1102.3 1572.8,1103.1 1572.5,1103.9 1572.3,1104.8 1572.0,1105.6 1571.8,1106.5 1571.2,1107.3 1570.5,1108.2 1569.9,1109.0 1569.2,1109.9 1568.6,1110.7 1568.1,1111.6 1567.6,1112.4 1567.0,1113.2 1566.6,1114.1 1566.1,1114.9 1565.7,1115.8 1565.2,1116.6 1564.4,1117.5 1563.5,1118.3 1562.6,1119.2 1561.7,1120.0 1561.1,1120.8 1560.6,1121.7 1560.0,1122.5 1559.5,1123.4 1559.1,1124.2 1558.6,1125.1 1558.2,1125.9 1557.8,1126.7 1557.5,1127.6 1557.3,1128.4 1557.0,1129.3 1556.8,1130.1 1556.2,1130.9 1555.5,1131.8 1554.9,1132.6 1554.2,1133.5 1553.5,1134.3 1552.7,1135.1 1552.0,1136.0 1551.2,1136.8 1550.6,1137.6 1550.0,1138.5 1549.3,1139.3 1548.7,1140.1 1548.3,1141.0 1547.8,1141.8 1547.4,1142.6 1547.0,1143.4 1546.5,1144.3 1545.9,1145.1 1545.4,1145.9 1544.9,1146.8 1544.4,1147.6 1544.0,1148.4 1543.5,1149.2 1543.0,1150.1 1542.2,1150.9 1541.4,1151.7 1540.5,1152.5 1539.7,1153.3 1539.4,1154.2 1539.1,1155.0 1538.9,1155.8 1538.6,1156.6 1538.0,1157.4 1537.3,1158.2 1536.7,1159.0 1536.0,1159.9 1535.3,1160.7 1534.5,1161.5 1533.7,1162.3 1533.0,1163.1 1532.3,1163.9 1531.6,1164.7 1530.9,1165.5 1530.2,1166.3 1529.7,1167.1 1529.2,1167.9 1528.8,1168.7 1528.3,1169.5 1527.8,1170.3 1527.3,1171.1 1526.8,1171.9 1526.4,1172.7 1525.8,1173.5 1525.2,1174.3 1524.6,1175.1 1524.0,1175.9 1523.2,1176.7 1522.4,1177.5 1521.6,1178.3 1520.8,1179.1 1520.5,1179.9 1520.2,1180.7 1519.9,1181.5 1519.6,1182.3 1519.0,1183.1 1518.4,1183.9 1517.7,1184.7 1517.1,1185.4 1516.5,1186.2 1515.8,1187.0 1515.2,1187.8 1514.5,1188.6 1513.7,1189.4 1512.8,1190.2 1512.0,1191.0 1511.1,1191.8 1510.5,1192.6 1509.9,1193.4 1509.3,1194.2 1508.7,1195.0 1508.3,1195.8 1507.9,1196.6 1507.5,1197.4 1507.1,1198.2 1506.5,1199.0 1505.9,1199.8 1505.4,1200.6 1504.8,1201.4 1504.1,1202.2 1503.5,1203.0 1502.8,1203.8 1502.1,1204.7 1501.6,1205.5 1501.2,1206.3 1500.7,1207.1 1500.2,1207.9 1499.6,1208.7 1498.9,1209.5 1498.3,1210.3 1497.6,1211.1 1497.1,1211.9 1496.6,1212.7 1496.0,1213.6 1495.5,1214.4 1494.7,1215.2 1493.8,1216.0 1493.0,1216.8 1492.1,1217.6 1491.4,1218.4 1490.8,1219.2 1490.2,1220.1 1489.5,1220.9 1489.1,1221.7 1488.7,1222.5 1488.3,1223.3 1487.8,1224.1 1487.4,1224.9 1487.0,1225.8 1486.6,1226.6 1486.2,1227.4 1485.4,1228.2 1484.5,1229.0 1483.6,1229.8 1482.8,1230.6 1482.4,1231.4 1482.0,1232.3 1481.6,1233.1 1481.3,1233.9 1480.4,1234.7 1479.6,1235.5 1478.7,1236.3 1477.8,1237.1 1477.2,1237.9 1476.7,1238.7 1476.1,1239.5 1475.5,1240.4 1475.0,1241.2 1474.5,1242.0 1474.0,1242.8 1473.6,1243.6 1473.1,1244.4 1472.6,1245.2 1472.1,1246.0 1471.6,1246.8 1470.9,1247.6 1470.3,1248.4 1469.6,1249.2 1469.0,1250.0 1468.6,1250.8 1468.2,1251.6 1467.8,1252.4 1467.4,1253.2 1466.6,1254.0 1465.9,1254.8 1465.1,1255.6 1464.4,1256.4 1463.6,1257.2 1462.8,1258.0 1462.1,1258.8 1461.3,1259.6 1461.0,1260.3 1460.7,1261.1 1460.4,1261.9 1460.1,1262.7 1459.4,1263.5 1458.7,1264.3 1458.0,1265.1 1457.2,1265.8 1456.5,1266.6 1455.7,1267.4 1454.9,1268.2 1454.1,1269.0 1453.8,1269.7 1453.4,1270.5 1453.1,1271.3 1452.8,1272.0 1451.9,1272.8 1451.1,1273.6 1450.3,1274.3 1449.4,1275.1 1448.7,1275.9 1448.0,1276.6 1447.3,1277.4 1446.6,1278.1 1446.0,1278.9 1445.3,1279.6 1444.7,1280.4 1444.0,1281.2 1443.2,1281.9 1442.4,1282.6 1441.7,1283.4 1441.0,1284.1 1440.5,1284.9 1439.9,1285.6 1439.4,1286.3 1438.8,1287.1 1438.1,1287.8 1437.4,1288.5 1436.7,1289.3 1436.0,1290.0 1420.0,1309.7 1412.0,1320.0 1402.0,1334.5 1389.7,1334.5"/>
<polyline stroke="#BE4B48" points="228.2,1332.0 229.2,1331.7 230.1,1331.5 231.1,1331.2 232.0,1331.0 233.0,1330.7 233.9,1330.5 234.9,1330.2 235.9,1330.0 236.9,1329.7 237.9,1329.4 238.9,1329.2 239.8,1328.9 240.7,1328.7 241.6,1328.4 242.5,1328.1 243.5,1327.9 244.5,1327.6 245.4,1327.3 246.4,1327.1 247.4,1326.8 248.4,1326.5 249.4,1326.3 250.4,1326.0 251.4,1325.7 252.4,1325.5 253.3,1325.2 254.2,1324.9 255.2,1324.7 256.1,1324.4 257.0,1324.1 258.0,1323.8 259.0,1323.6 260.0,1323.3 261.0,1323.0 262.0,1322.7 263.0,1322.5 264.0,1322.2 265.0,1321.9 265.9,1321.6 266.9,1321.4 267.8,1321.1 268.8,1320.8 269.7,1320.5 270.6,1320.2 271.5,1319.9 272.5,1319.7 273.4,1319.4 274.4,1319.1 275.3,1318.8 276.3,1318.5 277.2,1318.2 278.2,1317.9 279.2,1317.6 280.1,1317.4 281.1,1317.1 282.0,1316.8 283.0,1316.5 283.9,1316.2 284.9,1315.9 285.8,1315.6 286.8,1315.3 287.7,1315.0 288.7,1314.7 289.7,1314.4 290.6,1314.1 291.6,1313.8 292.6,1313.5 293.5,1313.2 294.5,1312.9 295.5,1312.6 296.4,1312.3 297.3,1312.0 298.2,1311.7 299.2,1311.4 300.1,1311.1 301.1,1310.8 302.1,1310.5 303.1,1310.2 304.1,1309.9 305.1,1309.6 306.0,1309.3 306.9,1309.0 307.8,1308.7 308.8,1308.4 309.7,1308.1 310.7,1307.8 311.7,1307.4 312.6,1307.1 313.6,1306.8 314.6,1306.5 315.5,1306.2 316.4,1305.9 317.4,1305.6 318.3,1305.2 319.2,1304.9 320.2,1304.6 321.1,1304.3 322.1,1304.0 323.1,1303.7 324.0,1303.3 325.0,1303.0 325.9,1302.7 326.9,1302.4 327.9,1302.1 328.8,1301.7 329.7,1301.4 330.7,1301.1 331.6,1300.8 332.5,1300.4 333.4,1300.1 334.4,1299.8 335.3,1299.5 336.3,1299.1 337.2,1298.8 338.1,1298.5 339.1,1298.2 340.0,1297.8 340.9,1297.5 341.9,1297.2 342.8,1296.8 343.8,1296.5 344.7,1296.2 345.7,1295.8 346.6,1295.5 347.6,1295.2 348.5,1294.8 349.5,1294.5 350.4,1294.2 351.4,1293.8 352.3,1293.5 353.2,1293.2 354.2,1292.8 355.2,1292.5 356.1,1292.1 357.1,1291.8 358.0,1291.5 358.9,1291.1 359.8,1290.8 360.7,1290.4 361.6,1290.1 362.6,1289.7 363.6,1289.4 364.6,1289.1 365.5,1288.7 366.5,1288.4 367.4,1288.0 368.3,1287.7 369.2,1287.3 370.1,1287.0 371.0,1286.6 371.9,1286.3 372.9,1285.9 373.8,1285.6 374.7,1285.2 375.7,1284.9 376.6,1284.5 377.6,1284.2 378.5,1283.8 379.5,1283.5 380.4,1283.1 381.4,1282.8 382.3,1282.4 383.3,1282.0 384.3,1281.7 385.2,1281.3 386.2,1281.0 387.1,1280.6 388.1,1280.3 389.1,1279.9 390.0,1279.5 390.9,1279.2 391.8,1278.8 392.6,1278.5 393.5,1278.1 394.4,1277.7 395.4,1277.4 396.3,1277.0 397.3,1276.7 398.2,1276.3 399.2,1275.9 400.1,1275.6 401.1,1275.2 402.0,1274.8 403.0,1274.5 403.9,1274.1 404.9,1273.7 405.8,1273.4 406.7,1273.0 407.6,1272.6 408.5,1272.3 409.4,1271.9 410.3,1271.5 411.2,1271.1 412.1,1270.8 413.0,1270.4 413.9,1270.0 414.9,1269.7 415.8,1269.3 416.7,1268.9 417.7,1268.5 418.6,1268.2 419.6,1267.8 420.5,1267.4 421.5,1267.0 422.4,1266.6 423.3,1266.3 424.2,1265.9 425.1,1265.5 426.0,1265.1 426.9,1264.8 427.9,1264.4 428.8,1264.0 429.7,1263.6 430.7,1263.2 431.6,1262.9 432.5,1262.5 433.4,1262.1 434.3,1261.7 435.2,1261.3 436.2,1260.9 437.1,1260.6 438.0,1260.2 438.9,1259.8 439.9,1259.4 440.8,1259.0 441.7,1258.6 442.7,1258.2 443.7,1257.8 444.6,1257.5 445.6,1257.1 446.5,1256.7 447.4,1256.3 448.4,1255.9 449.3,1255.5 450.2,1255.1 451.1,1254.7 451.9,1254.3 452.8,1253.9 453.7,1253.5 454.5,1253.2 455.5,1252.8 456.4,1252.4 457.3,1252.0 458.3,1251.6 459.2,1251.2 460.1,1250.8 461.1,1250.4 462.0,1250.0 462.9,1249.6 463.9,1249.2 464.8,1248.8 465.8,1248.4 466.7,1248.0 467.6,1247.6 468.6,1247.2 469.5,1246.8 470.4,1246.4 471.3,1246.0 472.2,1245.6 473.1,1245.2 474.0,1244.8 474.9,1244.4 475.8,1244.0 476.7,1243.6 477.7,1243.2 478.5,1242.8 479.4,1242.4 480.3,1242.0 481.2,1241.6 482.1,1241.2 483.0,1240.8 483.9,1240.3 484.8,1239.9 485.7,1239.5 486.7,1239.1 487.6,1238.7 488.5,1238.3 489.4,1237.9 490.3,1237.5 491.2,1237.1 492.1,1236.7 493.1,1236.3 494.0,1235.8 495.0,1235.4 495.9,1235.0 496.8,1234.6 497.8,1234.2 498.7,1233.8 499.6,1233.4 500.6,1233.0 501.4,1232.5 502.3,1232.1 503.2,1231.7 504.1,1231.3 505.0,1230.9 505.9,1230.5 506.9,1230.0 507.8,1229.6 508.7,1229.2 509.6,1228.8 510.5,1228.4 511.5,1228.0 512.4,1227.5 513.3,1227.1 514.2,1226.7 515.1,1226.3 516.0,1225.9 516.9,1225.4 517.8,1225.0 518.7,1224.6 519.6,1224.2 520.5,1223.8 521.4,1223.3 522.3,1222.9 523.2,1222.5 524.1,1222.1 524.9,1221.6 525.8,1221.2 526.6,1220.8 527.5,1220.4 528.4,1219.9 529.3,1219.5 530.2,1219.1 531.2,1218.7 532.1,1218.2 533.0,1217.8 533.9,1217.4 534.8,1217.0 535.7,1216.5 536.6,1216.1 537.5,1215.7 538.4,1215.2 539.3,1214.8 540.3,1214.4 541.2,1214.0 542.1,1213.5 543.0,1213.1 543.9,1212.7 544.8,1212.2 545.7,1211.8 546.6,1211.4 547.5,1210.9 548.4,1210.5 549.3,1210.1 550.2,1209.6 551.1,1209.2 552.0,1208.8 552.9,1208.3 553.8,1207.9 554.7,1207.5 555.6,1207.0 556.5,1206.6 557.4,1206.2 558.3,1205.7 559.2,1205.3 560.1,1204.9 561.0,1204.4 561.9,1204.0 562.8,1203.5 563.7,1203.1 564.6,1202.7 565.5,1202.2 566.4,1201.8 567.3,1201.4 568.2,1200.9 569.1,1200.5 570.0,1200.0 570.9,1199.6 571.8,1199.2 572.7,1198.7 573.6,1198.3 574.4,1197.8 575.3,1197.4 576.2,1196.9 577.1,1196.5 578.0,1196.1 578.9,1195.6 579.8,1195.2 580.7,1194.7 581.7,1194.3 582.6,1193.8 583.5,1193.4 584.4,1193.0 585.3,1192.5 586.2,1192.1 587.1,1191.6 588.0,1191.2 588.9,1190.7 589.8,1190.3 590.7,1189.8 591.6,1189.4 592.5,1188.9 593.4,1188.5 594.3,1188.1 595.2,1187.6 596.0,1187.2 596.9,1186.7 597.7,1186.3 598.6,1185.8 599.5,1185.4 600.4,1184.9 601.3,1184.5 602.2,1184.0 603.0,1183.6 604.0,1183.1 604.9,1182.7 605.8,1182.2 606.7,1181.8 607.6,1181.3 608.5,1180.9 609.5,1180.4 610.4,1180.0 611.3,1179.5 612.2,1179.1 613.1,1178.6 613.9,1178.2 614.7,1177.7 615.6,1177.3 616.4,1176.8 617.3,1176.3 618.2,1175.9 619.1,1175.4 620.0,1175.0 620.9,1174.5 621.8,1174.1 622.7,1173.6 623.7,1173.2 624.6,1172.7 625.6,1172.3 626.5,1171.8 627.3,1171.3 628.2,1170.9 629.1,1170.4 630.0,1170.0 630.9,1169.5 631.8,1169.1 632.6,1168.6 633.5,1168.2 634.4,1167.7 635.3,1167.2 636.2,1166.8 637.1,1166.3 638.0,1165.9 638.9,1165.4 639.8,1165.0 640.7,1164.5 641.5,1164.0 642.4,1163.6 643.2,1163.1 644.1,1162.7 645.0,1162.2 645.9,1161.7 646.8,1161.3 647.7,1160.8 648.6,1160.4 649.5,1159.9 650.4,1159.5 651.2,1159.0 652.1,1158.5 653.0,1158.1 653.9,1157.6 654.7,1157.2 655.6,1156.7 656.5,1156.2 657.4,1155.8 658.3,1155.3 659.2,1154.8 660.1,1154.4 661.0,1153.9 661.9,1153.5 662.8,1153.0 663.7,1152.5 664.6,1152.1 665.5,1151.6 666.4,1151.2 667.3,1150.7 668.2,1150.2 669.1,1149.8 670.0,1149.3 670.9,1148.8 671.7,1148.4 672.5,1147.9 673.4,1147.5 674.2,1147.0 675.1,1146.5 676.0,1146.1 676.8,1145.6 677.7,1145.1 678.6,1144.7 679.5,1144.2 680.4,1143.8 681.3,1143.3 682.2,1142.8 683.1,1142.4 684.0,1141.9 684.9,1141.4 685.8,1141.0 686.8,1140.5 687.7,1140.1 688.5,1139.6 689.4,1139.1 690.3,1138.7 691.1,1138.2 692.0,1137.7 692.9,1137.3 693.8,1136.8 694.7,1136.3 695.5,1135.9 696.4,1135.4 697.3,1135.0 698.2,1134.5 699.1,1134.0 700.0,1133.6 700.8,1133.1 701.7,1132.6 702.6,1132.2 703.5,1131.7 704.4,1131.2 705.2,1130.8 706.1,1130.3 707.0,1129.9 707.9,1129.4 708.8,1128.9 709.7,1128.5 710.6,1128.0 711.5,1127.5 712.4,1127.1 713.3,1126.6 714.2,1126.1 715.1,1125.7 716.0,1125.2 716.9,1124.7 717.8,1124.3 718.7,1123.8 719.6,1123.3 720.5,1122.9 721.4,1122.4 722.3,1122.0 723.2,1121.5 724.0,1121.0 724.9,1120.6 725.7,1120.1 726.6,1119.6 727.4,1119.2 728.3,1118.7 729.2,1118.2 730.2,1117.8 731.1,1117.3 732.0,1116.8 732.9,1116.4 733.7,1115.9 734.6,1115.4 735.4,1115.0 736.3,1114.5 737.1,1114.0 738.0,1113.6 738.9,1113.1 739.8,1112.6 740.7,1112.2 741.6,1111.7 742.5,1111.2 743.4,1110.8 744.3,1110.3 745.2,1109.8 746.1,1109.4 747.0,1108.9 747.8,1108.4 748.7,1107.9 749.6,1107.5 750.4,1107.0 751.3,1106.5 752.1,1106.1 753.0,1105.6 753.9,1105.1 754.8,1104.7 755.7,1104.2 756.6,1103.7 757.5,1103.2 758.4,1102.8 759.3,1102.3 760.2,1101.8 761.0,1101.4 761.9,1100.9 762.7,1100.4 763.6,1099.9 764.5,1099.5 765.4,1099.0 766.3,1098.5 767.1,1098.0 768.0,1097.6 768.9,1097.1 769.8,1096.6 770.6,1096.1 771.5,1095.7 772.4,1095.2 773.4,1094.7 774.3,1094.2 775.2,1093.8 776.2,1093.3 777.0,1092.8 777.8,1092.3 778.7,1091.9 779.5,1091.4 780.3,1090.9 781.2,1090.4 782.1,1090.0 783.0,1089.5 783.9,1089.0 784.8,1088.5 785.6,1088.0 786.5,1087.6 787.4,1087.1 788.2,1086.6 789.1,1086.1 789.9,1085.6 790.8,1085.2 791.7,1084.7 792.6,1084.2 793.4,1083.7 794.3,1083.2 795.3,1082.8 796.2,1082.3 797.1,1081.8 798.0,1081.3 798.9,1080.8 799.8,1080.3 800.7,1079.8 801.6,1079.4 802.5,1078.9 803.3,1078.4 804.2,1077.9 805.1,1077.4 805.9,1076.9 806.8,1076.4 807.7,1076.0 808.5,1075.5 809.4,1075.0 810.3,1074.5 811.2,1074.0 812.0,1073.5 812.9,1073.0 813.8,1072.5 814.6,1072.0 815.5,1071.6 816.3,1071.1 817.2,1070.6 818.0,1070.1 818.8,1069.6 819.6,1069.1 820.5,1068.6 821.4,1068.1 822.4,1067.6 823.3,1067.1 824.2,1066.6 825.1,1066.1 826.0,1065.6 826.8,1065.1 827.7,1064.6 828.6,1064.1 829.4,1063.6 830.3,1063.1 831.1,1062.6 831.9,1062.1 832.7,1061.7 833.5,1061.2 834.4,1060.7 835.3,1060.1 836.1,1059.6 837.0,1059.1 837.9,1058.6 838.8,1058.1 839.7,1057.6 840.6,1057.1 841.5,1056.6 842.3,1056.1 843.1,1055.6 844.0,1055.1 844.8,1054.6 845.6,1054.1 846.5,1053.6 847.4,1053.1 848.3,1052.6 849.2,1052.1 850.1,1051.6 850.9,1051.1 851.8,1050.6 852.6,1050.0 853.4,1049.5 854.2,1049.0 855.1,1048.5 856.0,1048.0 856.8,1047.5 857.7,1047.0 858.6,1046.5 859.5,1045.9 860.3,1045.4 861.2,1044.9 862.0,1044.4 862.9,1043.9 863.7,1043.4 864.6,1042.9 865.4,1042.3 866.3,1041.8 867.1,1041.3 868.0,1040.8 868.8,1040.3 869.7,1039.8 870.6,1039.2 871.5,1038.7 872.3,1038.2 873.2,1037.7 874.1,1037.2 874.9,1036.6 875.8,1036.1 876.6,1035.6 877.5,1035.1 878.3,1034.6 879.1,1034.0 880.0,1033.5 880.9,1033.0 881.8,1032.5 882.7,1031.9 883.6,1031.4 884.5,1030.9 885.3,1030.4 886.2,1029.8 887.0,1029.3 887.8,1028.8 888.7,1028.3 889.5,1027.8 890.3,1027.2 891.2,1026.7 892.0,1026.2 892.8,1025.7 893.7,1025.1 894.5,1024.6 895.4,1024.1 896.2,1023.6 897.1,1023.0 897.9,1022.5 898.8,1022.0 899.6,1021.4 900.4,1020.9 901.3,1020.4 902.1,1019.9 903.0,1019.3 903.9,1018.8 904.8,1018.3 905.7,1017.8 906.5,1017.2 907.4,1016.7 908.3,1016.2 909.1,1015.7 910.0,1015.1 910.8,1014.6 911.6,1014.1 912.4,1013.5 913.1,1013.0 913.9,1012.5 914.8,1012.0 915.7,1011.4 916.6,1010.9 917.5,1010.4 918.4,1009.8 919.3,1009.3 920.1,1008.8 921.0,1008.3 921.9,1007.7 922.7,1007.2 923.5,1006.7 924.3,1006.2 925.1,1005.6 925.9,1005.1 926.7,1004.6 927.6,1004.0 928.4,1003.5 929.3,1003.0 930.1,1002.5 930.9,1001.9 931.8,1001.4 932.8,1000.9 933.7,1000.3 934.6,999.8 935.5,999.3 936.3,998.8 937.1,998.2 937.9,997.7 938.8,997.2 939.6,996.6 940.4,996.1 941.3,995.6 942.1,995.1 943.0,994.5 943.9,994.0 944.7,993.5 945.6,992.9 946.4,992.4 947.3,991.9 948.1,991.3 949.0,990.8 949.8,990.3 950.7,989.8 951.5,989.2 952.4,988.7 953.2,988.2 954.1,987.6 954.9,987.1 955.7,986.6 956.6,986.1 957.4,985.5 958.2,985.0 959.0,984.5 959.8,983.9 960.7,983.4 961.5,982.9 962.4,982.3 963.3,981.8 964.2,981.3 965.1,980.8 965.9,980.2 966.7,979.7 967.5,979.2 968.3,978.6 969.1,978.1 969.9,977.6 970.8,977.0 971.6,976.5 972.5,976.0 973.3,975.5 974.3,974.9 975.2,974.4 976.1,973.9 977.0,973.3 977.9,972.8 978.7,972.3 979.5,971.7 980.4,971.2 981.2,970.7 982.0,970.1 982.9,969.6 983.7,969.1 984.6,968.6 985.5,968.0 986.3,967.5 987.1,967.0 987.9,966.4 988.7,965.9 989.5,965.4 990.3,964.8 991.2,964.3 992.1,963.8 992.9,963.2 993.8,962.7 994.7,962.2 995.5,961.7 996.4,961.1 997.2,960.6 998.1,960.1 999.0,959.5 999.8,959.0 1000.7,958.5 1001.6,957.9 1002.5,957.4 1003.3,956.9 1004.1,956.3 1005.0,955.8 1005.8,955.3 1006.6,954.8 1007.4,954.2 1008.2,953.7 1009.1,953.2 1010.0,952.6 1010.8,952.1 1011.7,951.6 1012.5,951.0 1013.3,950.5 1014.1,950.0 1014.9,949.4 1015.8,948.9 1016.6,948.4 1017.5,947.8 1018.4,947.3 1019.3,946.8 1020.2,946.3 1021.0,945.7 1021.9,945.2 1022.7,944.7 1023.6,944.1 1024.4,943.6 1025.3,943.1 1026.2,942.5 1027.0,942.0 1027.9,941.5 1028.7,940.9 1029.6,940.4 1030.4,939.9 1031.2,939.3 1032.1,938.8 1032.9,938.3 1033.8,937.7 1034.6,937.2 1035.4,936.7 1036.3,936.2 1037.1,935.6 1037.9,935.1 1038.7,934.6 1039.6,934.0 1040.4,933.5 1041.2,933.0 1042.1,932.4 1042.9,931.9 1043.8,931.4 1044.7,930.8 1045.5,930.3 1046.4,929.8 1047.2,929.2 1048.0,928.7 1048.9,928.2 1049.7,927.6 1050.6,927.1 1051.5,926.6 1052.4,926.0 1053.3,925.5 1054.2,925.0 1055.0,924.5 1055.7,923.9 1056.5,923.4 1057.3,922.9 1058.1,922.3 1059.0,921.8 1059.9,921.3 1060.8,920.7 1061.7,920.2 1062.6,919.7 1063.4,919.1 1064.2,918.6 1065.0,918.1 1065.8,917.5 1066.6,917.0 1067.5,916.5 1068.4,915.9 1069.3,915.4 1070.2,914.9 1071.1,914.4 1071.9,913.8 1072.7,913.3 1073.5,912.8 1074.3,912.2 1075.2,911.7 1076.1,911.2 1076.9,910.6 1077.8,910.1 1078.7,909.6 1079.6,909.0 1080.4,908.5 1081.2,908.0 1082.1,907.4 1082.9,906.9 1083.7,906.4 1084.5,905.8 1085.3,905.3 1086.1,904.8 1086.9,904.3 1087.7,903.7 1088.6,903.2 1089.4,902.7 1090.3,902.1 1091.1,901.6 1092.0,901.1 1092.9,900.5 1093.8,900.0 1094.7,899.5 1095.6,898.9 1096.5,898.4 1097.3,897.9 1098.1,897.3 1098.9,896.8 1099.7,896.3 1100.5,895.7 1101.4,895.2 1102.2,894.7 1103.0,894.2 1103.9,893.6 1104.7,893.1 1105.6,892.6 1106.5,892.0 1107.4,891.5 1108.3,891.0 1109.2,890.4 1110.0,889.9 1110.9,889.4 1111.7,888.8 1112.6,888.3 1113.4,887.8 1114.2,887.2 1115.0,886.7 1115.8,886.2 1116.6,885.7 1117.4,885.1 1118.3,884.6 1119.1,884.1 1120.0,883.5 1120.8,883.0 1121.7,882.5 1122.5,881.9 1123.4,881.4 1124.2,880.9 1125.1,880.3 1125.9,879.8 1126.8,879.3 1127.7,878.8 1128.5,878.2 1129.4,877.7 1130.3,877.2 1131.1,876.6 1132.0,876.1 1132.9,875.6 1133.7,875.0 1134.6,874.5 1135.4,874.0 1136.2,873.4 1137.0,872.9 1137.8,872.4 1138.7,871.9 1139.5,871.3 1140.3,870.8 1141.1,870.3 1142.0,869.7 1142.8,869.2 1143.7,868.7 1144.7,868.1 1145.6,867.6 1146.5,867.1 1147.4,866.5 1148.2,866.0 1149.0,865.5 1149.8,865.0 1150.6,864.4 1151.5,863.9 1152.3,863.4 1153.2,862.8 1154.0,862.3 1154.9,861.8 1155.7,861.2 1156.6,860.7 1157.5,860.2 1158.3,859.7 1159.2,859.1 1160.1,858.6 1160.9,858.1 1161.8,857.5 1162.6,857.0 1163.5,856.5 1164.3,856.0 1165.2,855.4 1166.0,854.9 1166.9,854.4 1167.7,853.8 1168.5,853.3 1169.4,852.8 1170.2,852.2 1171.0,851.7 1171.8,851.2 1172.7,850.7 1173.5,850.1 1174.4,849.6 1175.2,849.1 1176.1,848.5 1177.0,848.0 1177.8,847.5 1178.6,847.0 1179.4,846.4 1180.2,845.9 1181.0,845.4 1181.9,844.8 1182.8,844.3 1183.7,843.8 1184.5,843.3 1185.4,842.7 1186.3,842.2 1187.1,841.7 1188.0,841.1 1188.9,840.6 1189.7,840.1 1190.6,839.6 1191.4,839.0 1192.3,838.5 1193.1,838.0 1194.0,837.4 1194.8,836.9 1195.7,836.4 1196.5,835.9 1197.4,835.3 1198.2,834.8 1199.1,834.3 1199.9,833.7 1200.8,833.2 1201.6,832.7 1202.4,832.2 1203.3,831.6 1204.1,831.1 1204.9,830.6 1205.7,830.0 1206.6,829.5 1207.4,829.0 1208.2,828.5 1209.0,827.9 1209.9,827.4 1210.7,826.9 1211.6,826.4 1212.6,825.8 1213.5,825.3 1214.4,824.8 1215.3,824.2 1216.1,823.7 1217.0,823.2 1217.8,822.7 1218.7,822.1 1219.5,821.6 1220.3,821.1 1221.1,820.5 1221.9,820.0 1222.7,819.5 1223.5,819.0 1224.4,818.4 1225.2,817.9 1226.0,817.4 1226.9,816.9 1227.7,816.3 1228.6,815.8 1229.6,815.3 1230.5,814.8 1231.4,814.2 1232.2,813.7 1233.0,813.2 1233.8,812.6 1234.6,812.1 1235.5,811.6 1236.3,811.1 1237.2,810.5 1238.1,810.0 1238.9,809.5 1239.8,809.0 1240.7,808.4 1241.5,807.9 1242.3,807.4 1243.1,806.9 1243.9,806.3 1244.8,805.8 1245.7,805.3 1246.6,804.8 1247.5,804.2 1248.4,803.7 1249.2,803.2 1250.1,802.7 1250.9,802.1 1251.7,801.6 1252.6,801.1 1253.4,800.5 1254.3,800.0 1255.2,799.5 1256.1,799.0 1256.9,798.4 1257.8,797.9 1258.6,797.4 1259.3,796.9 1260.1,796.3 1260.9,795.8 1261.8,795.3 1262.7,794.8 1263.6,794.2 1264.5,793.7 1265.4,793.2 1266.3,792.7 1267.1,792.1 1267.9,791.6 1268.8,791.1 1269.6,790.6 1270.5,790.0 1271.3,789.5 1272.1,789.0 1272.9,788.5 1273.7,788.0 1274.5,787.4 1275.4,786.9 1276.3,786.4 1277.1,785.9 1278.0,785.3 1278.9,784.8 1279.7,784.3 1280.6,783.8 1281.4,783.2 1282.3,782.7 1283.1,782.2 1284.0,781.7 1284.8,781.1 1285.7,780.6 1286.5,780.1 1287.4,779.6 1288.2,779.0 1289.1,778.5 1290.0,778.0 1290.8,777.5 1291.7,776.9 1292.6,776.4 1293.4,775.9 1294.3,775.4 1295.1,774.9 1296.0,774.3 1296.8,773.8 1297.7,773.3 1298.5,772.8 1299.4,772.2 1300.2,771.7 1301.1,771.2 1301.9,770.7 1302.7,770.1 1303.6,769.6 1304.4,769.1 1305.3,768.6 1306.2,768.1 1307.1,767.5 1308.0,767.0 1308.9,766.5 1309.7,766.0 1310.6,765.4 1311.4,764.9 1312.3,764.4 1313.2,763.9 1314.0,763.4 1314.8,762.8 1315.7,762.3 1316.5,761.8 1317.4,761.3 1318.2,760.7 1319.0,760.2 1319.9,759.7 1320.7,759.2 1321.6,758.7 1322.4,758.1 1323.2,757.6 1324.1,757.1 1324.9,756.6 1325.7,756.0 1326.6,755.5 1327.5,755.0 1328.3,754.5 1329.2,754.0 1330.0,753.4 1330.9,752.9 1331.7,752.4 1332.5,751.9 1333.3,751.4 1334.2,750.8 1335.1,750.3 1335.9,749.8 1336.8,749.3 1337.7,748.8 1338.5,748.2 1339.5,747.7 1340.4,747.2 1341.3,746.7 1342.2,746.2 1343.0,745.6 1343.9,745.1 1344.7,744.6 1345.5,744.1 1346.4,743.5 1347.2,743.0 1348.0,742.5 1348.8,742.0 1349.6,741.5 1350.4,740.9 1351.3,740.4 1352.2,739.9 1353.1,739.4 1354.0,738.9 1354.9,738.4 1355.8,737.8 1356.6,737.3 1357.5,736.8 1358.3,736.3 1359.2,735.8 1360.0,735.2 1360.9,734.7 1361.7,734.2 1362.5,733.7 1363.3,733.2 1364.2,732.6 1365.1,732.1 1366.0,731.6 1366.9,731.1 1367.8,730.6 1368.6,730.0 1369.4,729.5 1370.2,729.0 1371.0,728.5 1371.8,728.0 1372.7,727.4 1373.6,726.9 1374.4,726.4 1375.3,725.9 1376.2,725.4 1377.1,724.9 1377.9,724.3 1378.7,723.8 1379.6,723.3 1380.4,722.8 1381.3,722.3 1382.2,721.7 1383.1,721.2 1384.0,720.7 1384.9,720.2 1385.7,719.7 1386.5,719.2 1387.3,718.6 1388.1,718.1 1388.9,717.6 1389.8,717.1 1390.7,716.6 1391.6,716.0 1392.4,715.5 1393.3,715.0 1394.2,714.5 1395.0,714.0 1395.9,713.5 1396.8,712.9 1397.6,712.4 1398.5,711.9 1399.3,711.4 1400.2,710.9 1401.0,710.3 1401.8,709.8 1402.7,709.3 1403.6,708.8 1404.4,708.3 1405.3,707.8 1406.1,707.2 1407.0,706.7 1407.8,706.2 1408.6,705.7 1409.5,705.2 1410.3,704.7 1411.1,704.1 1412.0,703.6 1412.9,703.1 1413.7,702.6 1414.6,702.1 1415.5,701.6 1416.4,701.0 1417.3,700.5 1418.2,700.0 1419.1,699.5 1420.0,699.0 1420.9,698.4 1421.7,697.9 1422.6,697.4 1423.5,696.9 1424.3,696.4 1425.2,695.9 1426.0,695.3 1426.8,694.8 1427.7,694.3 1428.6,693.8 1429.4,693.3 1430.3,692.8 1431.1,692.2 1432.0,691.7 1432.8,691.2 1433.7,690.7 1434.5,690.2 1435.4,689.7 1436.2,689.1 1437.1,688.6 1437.9,688.1 1438.7,687.6 1439.5,687.1 1440.3,686.5 1441.2,686.0 1442.0,685.5 1442.9,685.0 1443.8,684.5 1444.7,684.0 1445.5,683.4 1446.4,682.9 1447.3,682.4 1448.2,681.9 1449.0,681.4 1449.9,680.9 1450.7,680.3 1451.6,679.8 1452.5,679.3 1453.3,678.8 1454.2,678.3 1455.0,677.8 1455.9,677.2 1456.7,676.7 1457.6,676.2 1458.4,675.7 1459.2,675.2 1460.1,674.6 1460.9,674.1 1461.7,673.6 1462.6,673.1 1463.5,672.6 1464.3,672.1 1465.2,671.5 1466.1,671.0 1467.0,670.5 1467.8,670.0 1468.6,669.5 1469.5,669.0 1470.3,668.4 1471.2,667.9 1472.0,667.4 1472.9,666.9 1473.7,666.4 1474.6,665.8 1475.5,665.3 1476.4,664.8 1477.3,664.3 1478.2,663.8 1479.1,663.3 1479.9,662.7 1480.7,662.2 1481.5,661.7 1482.3,661.2 1483.2,660.7 1484.0,660.1 1484.9,659.6 1485.7,659.1 1486.6,658.6 1487.4,658.1 1488.3,657.6 1489.1,657.0 1490.0,656.5 1490.8,656.0 1491.7,655.5 1492.6,655.0 1493.5,654.4 1494.3,653.9 1495.2,653.4 1496.1,652.9 1497.0,652.4 1497.8,651.8 1498.7,651.3 1499.5,650.8 1500.4,650.3 1501.2,649.8 1502.0,649.2 1502.8,648.7 1503.7,648.2 1504.5,647.7 1505.3,647.2 1506.2,646.7 1507.1,646.1 1508.0,645.6 1508.9,645.1 1509.8,644.6 1510.6,644.1 1511.5,643.5 1512.3,643.0 1513.2,642.5 1514.1,642.0 1514.9,641.5 1515.8,640.9 1516.6,640.4 1517.5,639.9 1518.3,639.4 1519.1,638.9 1519.9,638.3 1520.7,637.8 1521.5,637.3 1522.4,636.8 1523.3,636.3 1524.2,635.7 1525.1,635.2 1526.0,634.7 1526.9,634.2 1527.7,633.6 1528.6,633.1 1529.5,632.6 1530.3,632.1 1531.2,631.6 1532.0,631.0 1532.8,630.5 1533.7,630.0 1534.5,629.5 1535.3,629.0 1536.2,628.4 1537.0,627.9 1537.8,627.4 1538.7,626.9 1539.5,626.3 1540.4,625.8 1541.3,625.3 1542.2,624.8 1543.1,624.3 1544.0,623.7 1544.8,623.2 1545.6,622.7 1546.4,622.2 1547.2,621.7 1548.0,621.1 1548.9,620.6 1549.7,620.1 1550.5,619.6 1551.4,619.0 1552.2,618.5 1553.1,618.0 1553.9,617.5 1554.8,616.9 1555.6,616.4 1556.5,615.9 1557.4,615.4 1558.3,614.9 1559.2,614.3 1560.1,613.8 1560.9,613.3 1561.8,612.8 1562.6,612.2 1563.5,611.7 1564.4,611.2 1565.2,610.7 1566.0,610.1 1566.8,609.6 1567.6,609.1 1568.4,608.6 1569.2,608.0 1570.1,607.5 1570.9,607.0 1571.8,606.5 1572.7,605.9 1573.5,605.4 1574.4,604.9 1575.3,604.4 1576.2,603.8 1577.1,603.3 1577.9,602.8 1578.8,602.3 1579.6,601.7 1580.4,601.2 1581.3,600.7 1582.1,600.2 1583.0,599.6 1583.9,599.1 1584.8,598.6 1585.7,598.1 1586.5,597.5 1587.3,597.0 1588.1,596.5 1588.9,595.9 1589.7,595.4 1590.6,594.9 1591.5,594.4 1592.4,593.8 1593.2,593.3 1594.1,592.8 1595.0,592.3 1595.8,591.7 1596.6,591.2 1597.4,590.7 1598.3,590.1 1599.1,589.6 1600.0,589.1 1600.9,588.6 1601.8,588.0 1602.6,587.5 1603.5,587.0 1604.3,586.4 1605.1,585.9 1606.0,585.4 1606.8,584.9 1607.6,584.3 1608.5,583.8 1609.3,583.3 1610.2,582.7 1611.0,582.2 1611.9,581.7 1612.7,581.2 1613.5,580.6 1614.3,580.1 1615.2,579.6 1616.0,579.0 1616.9,578.5 1617.8,578.0 1618.6,577.4 1619.5,576.9 1620.3,576.4 1621.2,575.8 1622.0,575.3 1622.9,574.8 1623.8,574.3 1624.6,573.7 1625.4,573.2 1626.3,572.7 1627.1,572.1 1628.0,571.6 1628.8,571.1 1629.6,570.5 1630.4,570.0 1631.3,569.5 1632.1,568.9 1633.0,568.4 1633.9,567.9 1634.8,567.3 1635.7,566.8 1636.5,566.3 1637.3,565.7 1638.1,565.2 1638.9,564.7 1639.7,564.1 1640.5,563.6 1641.4,563.1 1642.3,562.5 1643.2,562.0 1644.1,561.5 1645.0,560.9 1645.8,560.4 1646.7,559.9 1647.5,559.3 1648.4,558.8 1649.2,558.2 1650.0,557.7 1650.9,557.2 1651.7,556.6 1652.5,556.1 1653.3,555.6 1654.2,555.0 1655.0,554.5 1655.9,554.0 1656.8,553.4 1657.6,552.9 1658.5,552.3 1659.4,551.8 1660.2,551.3 1661.1,550.7 1661.9,550.2 1662.7,549.7 1663.5,549.1 1664.3,548.6 1665.1,548.0 1665.9,547.5 1666.7,547.0 1667.6,546.4 1668.4,545.9 1669.3,545.4 1670.1,544.8 1671.0,544.3 1671.8,543.7 1672.7,543.2 1673.6,542.7 1674.4,542.1 1675.3,541.6 1676.1,541.0 1676.9,540.5 1677.8,540.0 1678.6,539.4 1679.4,538.9 1680.3,538.3 1681.1,537.8 1681.9,537.3 1682.8,536.7 1683.6,536.2 1684.5,535.6 1685.4,535.1 1686.3,534.6 1687.1,534.0 1687.9,533.5 1688.7,532.9 1689.5,532.4 1690.3,531.9 1691.1,531.3 1692.0,530.8 1692.8,530.2 1693.7,529.7 1694.6,529.2 1695.4,528.6 1696.2,528.1 1697.1,527.5 1697.9,527.0 1698.8,526.5 1699.6,525.9 1700.5,525.4 1701.3,524.8 1702.2,524.3 1703.1,523.8 1703.9,523.2 1704.7,522.7 1705.6,522.2 1706.4,521.6 1707.2,521.1 1708.0,520.5 1708.9,520.0 1709.8,519.5 1710.6,518.9 1711.5,518.4 1712.4,517.8 1713.2,517.3 1714.0,516.8 1714.8,516.2 1715.7,515.7 1716.5,515.2 1717.3,514.6 1718.2,514.1 1719.0,513.5 1719.8,513.0 1720.7,512.5 1721.6,511.9 1722.5,511.4 1723.4,510.9 1724.3,510.3 1725.1,509.8 1725.9,509.3 1726.7,508.7 1727.6,508.2 1728.4,507.7 1729.2,507.1 1730.0,506.6 1730.8,506.1 1731.7,505.5 1732.5,505.0 1733.3,504.5 1734.2,503.9 1735.1,503.4 1735.9,502.9 1736.8,502.3 1737.6,501.8 1738.5,501.3 1739.4,500.7 1740.2,500.2 1741.1,499.7 1741.9,499.1 1742.8,498.6 1743.6,498.1 1744.4,497.6 1745.2,497.0 1746.1,496.5 1746.9,496.0 1747.8,495.4 1748.7,494.9 1749.5,494.4 1750.4,493.9 1751.3,493.3 1752.1,492.8 1753.0,492.3 1753.8,491.8 1754.7,491.2 1755.5,490.7 1756.4,490.2 1757.3,489.7 1758.1,489.1 1759.0,488.6 1759.8,488.1 1760.6,487.6 1761.4,487.0 1762.2,486.5 1763.1,486.0 1764.0,485.5 1764.9,485.0 1765.8,484.4 1766.7,483.9 1767.6,483.4 1768.4,482.9 1769.3,482.4 1770.2,481.8 1771.0,481.3 1771.9,480.8 1772.7,480.3 1773.6,479.8 1774.4,479.3 1775.3,478.7 1776.1,478.2 1777.0,477.7 1777.8,477.2 1778.6,476.7 1779.4,476.2 1780.3,475.7 1781.1,475.2 1782.0,474.6 1782.8,474.1 1783.6,473.6 1784.5,473.1 1785.4,472.6 1786.2,472.1 1787.1,471.6 1788.0,471.1 1788.9,470.6 1789.8,470.1 1790.6,469.6 1791.5,469.1 1792.4,468.6 1793.3,468.1 1794.1,467.6 1794.9,467.0 1795.8,466.5 1796.6,466.0 1797.5,465.5 1798.4,465.0 1799.2,464.5 1800.1,464.0 1801.0,463.5 1801.9,463.1 1802.8,462.6 1803.7,462.1 1804.6,461.6 1805.5,461.1 1806.3,460.6 1807.2,460.1 1808.0,459.6 1808.8,459.1 1809.7,458.6 1810.5,458.1 1811.4,457.6 1812.3,457.1 1813.2,456.6 1814.1,456.1 1815.0,455.6 1815.9,455.2 1816.8,454.7 1817.7,454.2 1818.6,453.7 1819.5,453.2 1820.3,452.7 1821.1,452.2 1821.9,451.7 1822.7,451.2 1823.5,450.7 1824.4,450.2 1825.3,449.8 1826.2,449.3 1827.1,448.8 1828.0,448.3 1828.9,447.8 1829.8,447.3 1830.7,446.8 1831.6,446.3 1832.5,445.8 1833.4,445.3 1834.2,444.8 1835.1,444.4 1835.9,443.9 1836.8,443.4 1837.7,442.9 1838.5,442.4 1839.4,441.9 1840.3,441.4 1841.1,440.9 1842.0,440.4 1842.8,439.9 1843.7,439.4 1844.5,438.9 1845.3,438.4 1846.2,437.9 1847.1,437.4 1848.0,436.9 1848.8,436.4 1849.7,435.9 1850.6,435.4 1851.5,434.9 1852.4,434.4 1853.3,433.9 1854.2,433.4 1855.0,432.9 1855.8,432.4 1856.6,431.9 1857.4,431.4 1858.3,430.9 1859.2,430.3 1860.1,429.8 1861.0,429.3 1861.9,428.8 1862.7,428.3 1863.5,427.8 1864.4,427.3 1865.2,426.7 1866.0,426.2 1866.8,425.7 1867.7,425.2 1868.6,424.7 1869.5,424.1 1870.4,423.6 1871.3,423.1 1872.1,422.6 1873.0,422.1 1873.8,421.5 1874.6,421.0 1875.4,420.5 1876.3,419.9 1877.2,419.4 1878.1,418.9 1879.0,418.4 1879.8,417.8 1880.6,417.3 1881.5,416.8 1882.3,416.2 1883.1,415.7 1883.9,415.2 1884.8,414.6 1885.7,414.1 1886.6,413.6 1887.4,413.0 1888.3,412.5 1889.1,412.0 1889.9,411.4 1890.8,410.9 1891.6,410.3 1892.4,409.8 1893.3,409.3 1894.1,408.7 1895.0,408.2 1895.9,407.6 1896.7,407.1 1897.5,406.6 1898.3,406.0 1899.1,405.5 1899.8,404.9 1900.7,404.4 1901.5,403.9 1902.4,403.3 1903.2,402.8 1904.0,402.2 1904.9,401.7 1905.8,401.2 1906.7,400.6 1907.6,400.1 1908.5,399.5 1909.3,399.0 1910.2,398.4 1911.0,397.9 1911.9,397.4 1912.7,396.8 1913.5,396.3 1914.3,395.7 1915.1,395.2 1915.9,394.6 1916.7,394.1 1917.6,393.6 1918.4,393.0 1919.2,392.5 1920.0,391.9 1920.9,391.4 1921.7,390.9 1922.6,390.3 1923.5,389.8 1924.4,389.2 1925.2,388.7 1926.1,388.2 1926.9,387.6 1927.8,387.1 1928.7,386.5 1929.5,386.0 1930.4,385.5 1931.2,384.9 1932.0,384.4 1932.8,383.8 1933.7,383.3 1934.5,382.8 1935.3,382.2 1936.1,381.7 1937.0,381.2 1937.8,380.6 1938.6,380.1 1939.5,379.6 1940.3,379.0 1941.1,378.5 1942.0,378.0 1942.8,377.4 1943.7,376.9 1944.5,376.4 1945.3,375.8 1946.2,375.3 1947.0,374.8 1947.9,374.2 1948.8,373.7 1949.6,373.2 1950.5,372.7 1951.4,372.1 1952.2,371.6 1953.1,371.1 1954.0,370.6 1954.9,370.1 1955.7,369.5 1956.6,369.0 1957.5,368.5 1958.4,368.0 1959.2,367.5 1960.1,366.9 1960.9,366.4 1961.7,365.9 1962.6,365.4 1963.4,364.9 1964.2,364.4 1965.1,363.9 1965.9,363.4 1966.7,362.9 1967.5,362.3 1968.4,361.8 1969.3,361.3 1970.2,360.8 1971.0,360.3 1971.9,359.8 1972.8,359.3 1973.7,358.8 1974.6,358.3 1975.5,357.8 1976.4,357.3 1977.3,356.8 1978.1,356.3 1978.9,355.8 1979.7,355.4 1980.6,354.9 1981.4,354.4 1982.3,353.9 1983.2,353.4 1984.1,352.9 1985.0,352.4 1985.9,351.9 1986.8,351.4 1987.6,351.0 1988.5,350.5 1989.3,350.0 1990.2,349.5 1991.1,349.0 1992.1,348.5 1993.0,348.1 1993.9,347.6 1994.8,347.1 1995.6,346.6 1996.4,346.1 1997.3,345.7 1998.1,345.2 1999.0,344.7 1999.8,344.2 2000.7,343.7 2001.6,343.3 2002.5,342.8 2003.3,342.3 2004.3,341.8 2005.2,341.4 2006.1,340.9 2007.0,340.4 2007.9,339.9 2008.8,339.5 2009.7,339.0 2010.6,338.5 2011.5,338.0 2012.4,337.6 2013.2,337.1 2014.0,336.6 2014.9,336.1 2015.7,335.7 2016.5,335.2 2017.4,334.7 2018.3,334.2 2019.2,333.8 2020.0,333.3 2020.9,332.8 2021.9,332.3 2022.8,331.9 2023.7,331.4 2024.6,330.9 2025.5,330.4 2026.4,330.0 2027.3,329.5 2028.2,329.0 2029.1,328.5 2030.0,328.1 2030.8,327.6 2031.7,327.1 2032.5,326.6 2033.4,326.1 2034.2,325.7 2035.1,325.2 2036.0,324.7 2036.8,324.2 2037.7,323.7 2038.6,323.3 2039.5,322.8 2040.4,322.3 2041.3,321.8 2042.3,321.3 2043.2,320.8 2044.0,320.4 2044.9,319.9 2045.8,319.4 2046.7,318.9 2047.5,318.4 2048.4,317.9 2049.2,317.4 2050.1,316.9 2050.9,316.5 2051.8,316.0 2052.6,315.5 2053.5,315.0 2054.4,314.5 2055.2,314.0 2056.1,313.5 2057.0,313.0 2057.9,312.5 2058.7,312.0 2059.6,311.5 2060.5,311.0 2061.3,310.5 2062.2,310.0 2063.0,309.5 2063.8,309.0 2064.7,308.5 2065.6,308.0 2066.4,307.4 2067.3,306.9 2068.2,306.4 2069.0,305.9 2069.9,305.4 2070.8,304.9 2071.6,304.4 2072.5,303.9 2073.4,303.3 2074.2,302.8 2075.1,302.3 2075.9,301.8 2076.8,301.3 2077.6,300.8 2078.5,300.2 2079.4,299.7 2080.3,299.2 2081.2,298.7 2082.0,298.2 2082.8,297.6 2083.7,297.1 2084.5,296.6 2085.4,296.1 2086.2,295.6 2087.1,295.0 2087.9,294.5 2088.7,294.0 2089.6,293.5 2090.4,292.9 2091.3,292.4 2092.2,291.9 2093.0,291.4 2093.9,290.9 2094.7,290.3 2095.6,289.8 2096.4,289.3 2097.3,288.8 2098.1,288.2 2099.0,287.7 2099.8,287.2 2100.7,286.7 2101.5,286.2 2102.4,285.6 2103.2,285.1 2104.1,284.6 2104.9,284.1 2105.8,283.6 2106.6,283.1 2107.5,282.5 2108.4,282.0 2109.3,281.5 2110.2,281.0 2111.1,280.5 2111.9,280.0 2112.7,279.5 2113.5,278.9 2114.3,278.4 2115.1,277.9 2116.0,277.4 2116.9,276.9 2117.8,276.4 2118.7,275.9 2119.6,275.4 2120.5,274.9 2121.4,274.4 2122.2,273.9 2123.1,273.4 2123.9,272.9 2124.8,272.4 2125.6,271.9 2126.4,271.4 2127.3,270.9 2128.1,270.4 2129.0,269.9 2129.9,269.4 2130.8,268.9 2131.7,268.4 2132.6,267.9 2133.4,267.4 2134.3,266.9 2135.2,266.4 2136.0,265.9 2136.9,265.4 2137.8,264.9 2138.7,264.4 2139.5,263.9 2140.4,263.4 2141.3,262.9 2142.1,262.3 2142.9,261.8 2143.7,261.3 2144.5,260.8 2145.3,260.3 2146.2,259.8 2147.1,259.3 2148.0,258.8 2148.9,258.2 2149.8,257.7 2150.6,257.2 2151.5,256.7 2152.3,256.2 2153.1,255.6 2154.0,255.1 2154.8,254.6 2155.7,254.0 2156.6,253.5 2157.4,253.0 2158.3,252.4 2159.1,251.9 2159.9,251.3 2160.7,250.8 2161.5,250.2 2162.3,249.7 2163.2,249.1 2164.0,248.5 2164.8,248.0 2165.7,247.4 2166.5,246.8 2167.4,246.2 2168.2,245.7 2169.0,245.1 2169.9,244.5 2170.7,243.9 2171.5,243.3 2172.3,242.7 2173.0,242.1 2173.8,241.5 2174.5,240.9 2175.3,240.3 2176.1,239.7 2176.9,239.0 2177.7,238.4 2178.4,237.8 2179.2,237.1 2179.9,236.5 2180.7,235.8 2181.4,235.2 2182.2,234.5 2182.9,233.8 2183.7,233.2 2184.4,232.5 2185.1,231.8 2185.9,231.1 2186.6,230.4 2187.4,229.7 2188.1,229.1 2188.9,228.3 2189.6,227.6 2190.3,226.9 2190.9,226.2 2191.5,225.4 2192.2,224.7 2192.8,224.0 2193.5,223.2 2194.1,222.5 2194.7,221.7 2195.4,220.9 2196.0,220.2 2196.6,219.4 2197.3,218.6 2197.9,217.8 2198.5,217.0 2199.1,216.2 2199.7,215.4 2200.3,214.6 2200.9,213.8 2201.5,213.0 2202.0,212.1 2202.6,211.3 2203.1,210.4 2203.7,209.6 2204.2,208.7 2204.7,207.9 2205.2,207.0 2205.7,206.1 2206.2,205.2 2206.7,204.4 2207.1,203.5 2207.5,202.5 2207.9,201.6 2208.3,200.7 2208.6,199.7 2208.9,198.8 2209.1,197.8 2209.4,196.9 2209.6,195.9 2209.7,194.9 2209.8,193.9 2209.9,192.9 2209.9,191.9 2209.9,190.9 2209.8,189.9 2209.8,188.9 2264.7,189.3 2230.9,189.3"/>
<polyline stroke="#BE4B48" stroke-width="12" points="2230.9,189.3 2230.8,190.3 2230.8,191.3 2230.7,192.3 2230.7,193.3 2230.6,194.3 2230.5,195.3 2230.4,196.3 2230.3,197.3 2230.2,198.3 2230.2,199.3 2230.1,200.3 2230.0,201.3 2229.8,202.3 2229.7,203.3 2229.5,204.2 2229.4,205.2 2229.3,206.2 2229.2,207.2 2229.1,208.2 2229.0,209.2 2228.9,210.2 2228.8,211.2 2228.7,212.2 2228.6,213.2 2228.5,214.2 2228.5,215.2 2228.5,216.2 2228.5,217.2 2228.3,218.2 2228.2,219.2 2228.0,220.2 2227.9,221.2 2227.8,222.1 2227.6,223.1 2227.5,224.1 2227.4,225.1 2227.2,226.1 2227.0,227.1 2226.8,228.1 2226.6,229.1 2226.5,230.1 2226.5,231.1 2226.4,232.0 2226.4,233.0 2226.2,234.0 2226.0,235.0 2225.8,236.0 2225.6,237.0 2225.4,238.0 2225.1,238.9 2224.9,239.9 2224.7,240.9 2224.5,241.9 2224.3,242.9 2224.1,243.9 2223.9,244.8 2223.7,245.8 2223.5,246.8 2223.3,247.8 2223.1,248.8 2222.9,249.7 2222.7,250.7 2222.5,251.7 2222.2,252.7 2222.0,253.6 2221.8,254.6 2221.6,255.6 2221.4,256.5 2221.1,257.5 2220.9,258.5 2220.6,259.4 2220.3,260.4 2220.0,261.4 2219.8,262.3 2219.5,263.3 2219.2,264.3 2218.9,265.2 2218.7,266.2 2218.4,267.1 2218.2,268.1 2217.8,269.0 2217.4,270.0 2217.1,270.9 2216.7,271.9 2216.4,272.8 2216.1,273.8 2215.8,274.7 2215.5,275.7 2215.1,276.6 2214.8,277.5 2214.5,278.5 2214.1,279.4 2213.8,280.4 2213.4,281.3 2213.1,282.2 2212.7,283.2 2212.4,284.1 2212.0,285.0 2211.7,285.9 2211.3,286.9 2210.9,287.8 2210.4,288.7 2210.0,289.6 2209.6,290.6 2209.2,291.5 2208.8,292.4 2208.5,293.3 2208.1,294.2 2207.7,295.1 2207.3,296.0 2206.9,297.0 2206.5,297.9 2206.0,298.8 2205.5,299.7 2205.0,300.6 2204.6,301.5 2204.2,302.4 2203.9,303.3 2203.5,304.2 2203.1,305.1 2202.6,306.0 2202.1,306.9 2201.7,307.8 2201.2,308.7 2200.8,309.6 2200.3,310.5 2199.9,311.4 2199.4,312.3 2199.1,313.2 2198.8,314.1 2198.4,315.0 2198.0,315.9 2197.6,316.8 2197.2,317.7 2196.7,318.6 2196.3,319.5 2195.8,320.4 2195.4,321.3 2194.9,322.2 2194.4,323.1 2193.9,324.0 2193.4,324.9 2192.9,325.8 2192.4,326.7 2192.0,327.6 2191.5,328.5 2191.0,329.4 2190.6,330.3 2190.2,331.2 2189.9,332.1 2189.5,333.0 2189.1,333.9 2188.6,334.8 2188.1,335.7 2187.7,336.6 2187.2,337.5 2186.7,338.4 2186.3,339.3 2185.8,340.2 2185.4,341.1 2185.0,342.0 2184.6,342.9 2184.2,343.8 2183.8,344.7 2183.3,345.6 2182.9,346.5 2182.4,347.4 2182.0,348.3 2181.7,349.2 2181.3,350.1 2181.0,351.1 2180.7,352.0 2180.2,352.9 2179.7,353.8 2179.2,354.7 2178.8,355.6 2178.5,356.6 2178.1,357.5 2177.8,358.4 2177.4,359.3 2177.0,360.2 2176.6,361.2 2176.1,362.1 2175.8,363.0 2175.4,364.0 2175.1,364.9 2174.7,365.8 2174.4,366.8 2174.0,367.7 2173.7,368.6 2173.3,369.6 2173.0,370.5 2172.6,371.4 2172.2,372.4 2171.8,373.3 2171.5,374.3 2171.3,375.2 2171.0,376.1 2170.8,377.1 2170.5,378.0 2170.1,379.0 2169.8,379.9 2169.5,380.9 2169.1,381.8 2168.8,382.8 2168.5,383.7 2168.2,384.7 2167.9,385.6 2167.6,386.6 2167.3,387.5 2167.0,388.5 2166.7,389.4 2166.3,390.4 2166.0,391.3 2165.7,392.3 2165.4,393.2 2165.1,394.2 2164.9,395.2 2164.6,396.1 2164.3,397.1 2163.9,398.0 2163.5,399.0 2163.1,399.9 2162.8,400.9 2162.5,401.8 2162.2,402.8 2162.0,403.8 2161.7,404.7 2161.4,405.7 2161.1,406.6 2160.8,407.6 2160.5,408.6 2160.2,409.5 2160.0,410.5 2159.7,411.4 2159.5,412.4 2159.2,413.3 2158.9,414.3 2158.6,415.3 2158.4,416.2 2158.1,417.2 2157.8,418.1 2157.5,419.1 2157.2,420.1 2157.0,421.0 2156.8,422.0 2156.5,422.9 2156.2,423.9 2155.9,424.8 2155.6,425.8 2155.2,426.8 2154.9,427.7 2154.6,428.7 2154.3,429.6 2154.0,430.6 2153.7,431.5 2153.4,432.5 2153.2,433.5 2152.9,434.4 2152.6,435.4 2152.2,436.3 2151.9,437.3 2151.5,438.2 2151.3,439.2 2151.0,440.1 2150.8,441.1 2150.6,442.0 2150.2,443.0 2149.8,443.9 2149.4,444.9 2149.0,445.8 2148.8,446.8 2148.5,447.7 2148.3,448.7 2148.1,449.6 2147.8,450.6 2147.4,451.5 2147.1,452.5 2146.7,453.4 2146.4,454.3 2146.0,455.3 2145.6,456.2 2145.2,457.2 2144.8,458.1 2144.5,459.1 2144.1,460.0 2143.8,461.0 2143.5,461.9 2143.3,462.8 2143.0,463.8 2142.8,464.7 2142.5,465.7 2142.1,466.6 2141.8,467.6 2141.4,468.5 2141.1,469.4 2140.8,470.4 2140.4,471.3 2140.1,472.3 2139.8,473.2 2139.5,474.2 2139.1,475.1 2138.8,476.1 2138.4,477.0 2138.0,477.9 2137.6,478.9 2137.2,479.8 2136.9,480.8 2136.6,481.7 2136.3,482.7 2136.0,483.6 2135.7,484.6 2135.3,485.5 2135.0,486.5 2134.6,487.4 2134.4,488.4 2134.2,489.3 2133.9,490.3 2133.7,491.2 2133.4,492.2 2133.0,493.1 2132.7,494.1 2132.4,495.0 2132.0,496.0 2131.7,496.9 2131.4,497.9 2131.0,498.8 2130.7,499.8 2130.4,500.7 2130.1,501.7 2129.7,502.6 2129.5,503.6 2129.2,504.6 2128.9,505.5 2128.7,506.5 2128.4,507.4 2128.1,508.4 2127.8,509.4 2127.6,510.3 2127.3,511.3 2127.1,512.2 2126.9,513.2 2126.6,514.2 2126.3,515.1 2126.1,516.1 2125.8,517.0 2125.5,518.0 2125.2,519.0 2125.0,519.9 2124.7,520.9 2124.5,521.8 2124.1,522.8 2123.8,523.8 2123.5,524.7 2123.1,525.7 2122.8,526.6 2122.5,527.6 2122.2,528.5 2121.8,529.5 2121.6,530.5 2121.4,531.4 2121.1,532.4 2120.9,533.3 2120.6,534.3 2120.3,535.2 2120.0,536.2 2119.7,537.1 2119.3,538.1 2119.0,539.0 2118.7,540.0 2118.3,540.9 2118.0,541.9 2117.7,542.8 2117.4,543.7 2117.0,544.7 2116.7,545.6 2116.3,546.5 2115.9,547.5 2115.5,548.4 2115.2,549.3 2114.8,550.3 2114.4,551.2 2114.0,552.1 2113.7,553.1 2113.2,554.0 2112.8,554.9 2112.4,555.8 2112.0,556.7 2111.5,557.6 2111.1,558.5 2110.6,559.5 2110.2,560.4 2109.8,561.3 2109.3,562.2 2108.9,563.1 2108.4,564.0 2108.0,564.8 2107.5,565.7 2107.0,566.6 2106.6,567.5 2106.2,568.4 2105.8,569.2 2105.4,570.1 2104.9,571.0 2104.3,571.9 2103.8,572.7 2103.3,573.6 2102.8,574.5 2102.3,575.3 2101.8,576.2 2101.4,577.1 2100.9,577.9 2100.5,578.8 2100.0,579.7 2099.6,580.5 2099.0,581.4 2098.4,582.3 2097.9,583.2 2097.3,584.0 2096.8,584.9 2096.4,585.8 2095.9,586.7 2095.5,587.6 2095.1,588.4 2094.6,589.3 2094.2,590.2 2093.8,591.1 2093.3,592.0 2092.8,592.9 2092.4,593.8 2091.9,594.8 2091.5,595.7 2091.1,596.6 2090.7,597.5 2090.3,598.5 2090.0,599.4 2089.7,600.3 2089.4,601.3 2089.1,602.2 2088.8,603.2 2088.5,604.1 2088.2,605.1 2087.9,606.1 2087.8,607.0 2087.6,608.0 2087.5,609.0 2087.4,610.0 2087.2,611.0 2087.0,611.9 2086.8,612.9 2086.6,613.9 2086.4,614.9 2086.3,615.9 2086.1,616.9 2085.9,617.9 2085.8,618.8 2085.7,619.8 2085.6,620.8 2085.4,621.8 2085.3,622.8 2085.1,623.8 2085.0,624.8 2084.8,625.8 2084.6,626.8 2084.3,627.7 2084.1,628.7 2083.8,629.7 2083.7,630.7 2083.6,631.7 2083.5,632.6 2083.3,633.6 2083.1,634.6 2082.8,635.6 2082.6,636.6 2082.3,637.5 2082.1,638.5 2081.9,639.5 2081.7,640.4 2081.5,641.4 2081.2,642.4 2081.0,643.3 2080.7,644.3 2080.5,645.3 2080.1,646.2 2079.8,647.2 2079.4,648.2 2079.1,649.1 2078.8,650.1 2078.5,651.0 2078.2,652.0 2077.9,652.9 2077.6,653.9 2077.3,654.9 2077.0,655.8 2076.7,656.8 2076.4,657.7 2076.1,658.7 2075.9,659.6 2075.6,660.6 2075.3,661.5 2075.0,662.5 2074.7,663.4 2074.5,664.4 2074.1,665.3 2073.8,666.2 2073.5,667.2 2073.1,668.1 2072.7,669.1 2072.3,670.0 2071.9,671.0 2071.5,671.9 2071.2,672.9 2070.9,673.8 2070.6,674.7 2070.3,675.7 2070.0,676.6 2069.7,677.6 2069.3,678.5 2069.0,679.4 2068.6,680.4 2068.2,681.3 2067.9,682.3 2067.5,683.2 2067.2,684.2 2066.8,685.1 2066.5,686.0 2066.1,687.0 2065.8,687.9 2065.5,688.9 2065.2,689.8 2064.9,690.7 2064.6,691.7 2064.4,692.6 2064.1,693.6 2063.8,694.5 2063.4,695.4 2063.0,696.4 2062.5,697.3 2062.2,698.3 2061.8,699.2 2061.5,700.2 2061.2,701.1 2060.9,702.0 2060.6,703.0 2060.2,703.9 2059.9,704.9 2059.6,705.8 2059.2,706.7 2058.8,707.7 2058.4,708.6 2058.1,709.5 2057.8,710.5 2057.5,711.4 2057.3,712.4 2057.0,713.3 2056.6,714.2 2056.3,715.2 2055.9,716.1 2055.6,717.1 2055.1,718.0 2054.7,718.9 2054.3,719.9 2053.9,720.8 2053.6,721.8 2053.3,722.7 2052.9,723.6 2052.6,724.6 2052.2,725.5 2051.9,726.4 2051.5,727.4 2051.1,728.3 2050.8,729.3 2050.4,730.2 2050.1,731.1 2049.7,732.1 2049.3,733.0 2049.0,733.9 2048.6,734.9 2048.2,735.8 2048.0,736.8 2047.7,737.7 2047.4,738.6 2047.1,739.6 2046.7,740.5 2046.3,741.4 2046.0,742.4 2045.6,743.3 2045.2,744.2 2044.8,745.2 2044.4,746.1 2044.0,747.0 2043.7,748.0 2043.4,748.9 2043.0,749.9 2042.7,750.8 2042.4,751.7 2042.2,752.7 2041.9,753.6 2041.5,754.5 2041.1,755.5 2040.7,756.4 2040.2,757.3 2039.8,758.3 2039.5,759.2 2039.1,760.1 2038.7,761.1 2038.4,762.0 2038.1,762.9 2037.7,763.9 2037.4,764.8 2037.1,765.7 2036.8,766.7 2036.5,767.6 2036.2,768.5 2035.8,769.5 2035.4,770.4 2034.9,771.3 2034.5,772.3 2034.1,773.2 2033.8,774.1 2033.5,775.1 2033.2,776.0 2032.8,776.9 2032.5,777.9 2032.1,778.8 2031.8,779.7 2031.4,780.7 2031.0,781.6 2030.5,782.5 2030.1,783.5 2029.8,784.4 2029.5,785.3 2029.1,786.2 2028.8,787.2 2028.5,788.1 2028.1,789.0 2027.7,790.0 2027.3,790.9 2026.9,791.8 2026.6,792.8 2026.2,793.7 2025.9,794.6 2025.5,795.6 2025.2,796.5 2024.8,797.4 2024.4,798.3 2024.1,799.3 2023.7,800.2 2023.3,801.1 2022.9,802.1 2022.5,803.0 2022.1,803.9 2021.7,804.9 2021.3,805.8 2020.9,806.7 2020.6,807.6 2020.4,808.6 2020.1,809.5 2019.7,810.4 2019.3,811.4 2018.8,812.3 2018.4,813.2 2018.0,814.2 2017.6,815.1 2017.2,816.0 2016.9,816.9 2016.5,817.9 2016.1,818.8 2015.7,819.7 2015.3,820.7 2015.0,821.6 2014.7,822.5 2014.4,823.4 2014.1,824.4 2013.7,825.3 2013.3,826.2 2013.0,827.2 2012.6,828.1 2012.2,829.0 2011.8,829.9 2011.3,830.9 2010.9,831.8 2010.5,832.7 2010.2,833.7 2009.9,834.6 2009.6,835.5 2009.2,836.4 2008.8,837.4 2008.4,838.3 2008.0,839.2 2007.6,840.1 2007.3,841.1 2007.0,842.0 2006.6,842.9 2006.2,843.9 2005.8,844.8 2005.4,845.7 2005.0,846.6 2004.6,847.6 2004.3,848.5 2004.0,849.4 2003.7,850.4 2003.3,851.3 2002.9,852.2 2002.5,853.1 2002.1,854.1 2001.7,855.0 2001.4,855.9 2001.1,856.8 2000.8,857.8 2000.4,858.7 1999.9,859.6 1999.4,860.6 1999.0,861.5 1998.6,862.4 1998.2,863.3 1997.9,864.3 1997.5,865.2 1997.1,866.1 1996.7,867.1 1996.3,868.0 1995.9,868.9 1995.6,869.8 1995.4,870.8 1995.1,871.7 1994.8,872.6 1994.4,873.5 1994.1,874.5 1993.7,875.4 1993.3,876.3 1992.9,877.3 1992.4,878.2 1992.0,879.1 1991.5,880.0 1991.2,881.0 1990.9,881.9 1990.5,882.8 1990.2,883.7 1989.8,884.7 1989.5,885.6 1989.1,886.5 1988.8,887.5 1988.4,888.4 1988.0,889.3 1987.6,890.2 1987.2,891.2 1986.8,892.1 1986.4,893.0 1986.0,893.9 1985.7,894.9 1985.3,895.8 1984.9,896.7 1984.4,897.7 1984.0,898.6 1983.6,899.5 1983.3,900.4 1982.9,901.4 1982.5,902.3 1982.2,903.2 1981.9,904.2 1981.6,905.1 1981.3,906.0 1981.0,906.9 1980.6,907.9 1980.2,908.8 1979.9,909.7 1979.5,910.6 1979.1,911.6 1978.7,912.5 1978.3,913.4 1977.8,914.4 1977.4,915.3 1977.0,916.2 1976.6,917.1 1976.3,918.1 1975.9,919.0 1975.5,919.9 1975.2,920.9 1974.8,921.8 1974.5,922.7 1974.2,923.6 1973.8,924.6 1973.5,925.5 1973.1,926.4 1972.8,927.4 1972.4,928.3 1972.1,929.2 1971.7,930.2 1971.3,931.1 1971.0,932.0 1970.6,932.9 1970.2,933.9 1969.8,934.8 1969.4,935.7 1969.0,936.7 1968.7,937.6 1968.3,938.5 1967.9,939.4 1967.5,940.4 1967.0,941.3 1966.6,942.2 1966.2,943.2 1965.8,944.1 1965.5,945.0 1965.1,946.0 1964.7,946.9 1964.5,947.8 1964.2,948.8 1963.9,949.7 1963.6,950.6 1963.2,951.5 1962.8,952.5 1962.4,953.4 1962.0,954.3 1961.6,955.3 1961.2,956.2 1960.7,957.1 1960.3,958.1 1959.9,959.0 1959.6,959.9 1959.2,960.9 1958.9,961.8 1958.6,962.7 1958.3,963.7 1958.0,964.6 1957.7,965.5 1957.2,966.5 1956.8,967.4 1956.4,968.3 1955.9,969.2 1955.6,970.2 1955.3,971.1 1954.9,972.0 1954.6,973.0 1954.3,973.9 1953.9,974.8 1953.6,975.8 1953.3,976.7 1953.0,977.6 1952.6,978.6 1952.3,979.5 1951.9,980.4 1951.6,981.4 1951.2,982.3 1950.8,983.2 1950.5,984.2 1950.1,985.1 1949.7,986.0 1949.3,987.0 1948.9,987.9 1948.6,988.8 1948.2,989.8 1947.9,990.7 1947.6,991.6 1947.2,992.6 1946.8,993.5 1946.4,994.4 1946.0,995.4 1945.6,996.3 1945.3,997.2 1944.9,998.2 1944.6,999.1 1944.3,1000.0 1944.0,1001.0 1943.7,1001.9 1943.3,1002.8 1943.0,1003.8 1942.6,1004.7 1942.2,1005.6 1941.9,1006.6 1941.5,1007.5 1941.2,1008.4 1940.9,1009.4 1940.5,1010.3 1940.1,1011.2 1939.8,1012.2 1939.4,1013.1 1939.0,1014.0 1938.6,1015.0 1938.3,1015.9 1937.9,1016.8 1937.5,1017.8 1937.1,1018.7 1936.7,1019.6 1936.3,1020.6 1935.9,1021.5 1935.5,1022.4 1935.2,1023.4 1934.9,1024.3 1934.5,1025.2 1934.2,1026.2 1933.8,1027.1 1933.4,1028.0 1933.0,1029.0 1932.7,1029.9 1932.3,1030.8 1931.9,1031.8 1931.6,1032.7 1931.3,1033.6 1931.0,1034.6 1930.7,1035.5 1930.4,1036.4 1930.0,1037.4 1929.6,1038.3 1929.1,1039.2 1928.7,1040.1 1928.4,1041.1 1928.1,1042.0 1927.8,1042.9 1927.5,1043.9 1927.1,1044.8 1926.7,1045.7 1926.3,1046.7 1925.9,1047.6 1925.6,1048.5 1925.2,1049.4 1924.8,1050.4 1924.5,1051.3 1924.1,1052.2 1923.7,1053.2 1923.3,1054.1 1922.9,1055.0 1922.5,1055.9 1922.2,1056.9 1921.8,1057.8 1921.4,1058.7 1921.0,1059.7 1920.7,1060.6 1920.3,1061.5 1919.9,1062.4 1919.5,1063.4 1919.1,1064.3 1918.7,1065.2 1918.3,1066.1 1918.0,1067.1 1917.6,1068.0 1917.3,1068.9 1917.0,1069.9 1916.5,1070.8 1916.1,1071.7 1915.7,1072.6 1915.3,1073.6 1914.8,1074.5 1914.4,1075.4 1914.0,1076.3 1913.6,1077.3 1913.3,1078.2 1913.0,1079.1 1912.7,1080.0 1912.4,1080.9 1911.9,1081.9 1911.5,1082.8 1911.0,1083.7 1910.6,1084.6 1910.3,1085.6 1910.0,1086.5 1909.7,1087.4 1909.4,1088.3 1909.0,1089.2 1908.6,1090.2 1908.2,1091.1 1907.9,1092.0 1907.5,1092.9 1907.1,1093.8 1906.7,1094.8 1906.2,1095.7 1905.8,1096.6 1905.3,1097.5 1904.9,1098.4 1904.4,1099.4 1904.0,1100.3 1903.5,1101.2 1903.1,1102.1 1902.7,1103.0 1902.4,1103.9 1902.1,1104.9 1901.8,1105.8 1901.5,1106.7 1901.0,1107.6 1900.6,1108.5 1900.1,1109.4 1899.7,1110.4 1899.3,1111.3 1899.0,1112.2 1898.7,1113.1 1898.3,1114.0 1897.9,1114.9 1897.5,1115.8 1897.1,1116.8 1896.6,1117.7 1896.2,1118.6 1895.8,1119.5 1895.4,1120.4 1894.9,1121.3 1894.4,1122.2 1894.0,1123.1 1893.5,1124.0 1893.0,1125.0 1892.6,1125.9 1892.2,1126.8 1891.8,1127.7 1891.4,1128.6 1891.1,1129.5 1890.7,1130.4 1890.3,1131.3 1889.9,1132.2 1889.4,1133.1 1889.0,1134.0 1888.5,1134.9 1888.0,1135.8 1887.6,1136.8 1887.1,1137.7 1886.7,1138.6 1886.3,1139.5 1885.9,1140.4 1885.5,1141.3 1885.1,1142.2 1884.7,1143.1 1884.3,1144.0 1884.0,1144.9 1883.6,1145.8 1883.1,1146.7 1882.7,1147.6 1882.2,1148.5 1881.8,1149.4 1881.3,1150.3 1880.9,1151.2 1880.4,1152.1 1880.0,1153.0 1879.5,1153.9 1879.0,1154.8 1878.5,1155.7 1878.0,1156.6 1877.6,1157.5 1877.2,1158.4 1876.8,1159.3 1876.4,1160.2 1876.0,1161.1 1875.6,1162.0 1875.2,1162.9 1874.8,1163.8 1874.3,1164.7 1873.8,1165.6 1873.2,1166.4 1872.7,1167.3 1872.2,1168.2 1871.8,1169.1 1871.4,1170.0 1871.0,1170.9 1870.6,1171.8 1870.2,1172.7 1869.8,1173.6 1869.4,1174.5 1868.9,1175.4 1868.4,1176.3 1868.0,1177.1 1867.5,1178.0 1867.0,1178.9 1866.6,1179.8 1866.1,1180.7 1865.6,1181.6 1865.2,1182.5 1864.7,1183.4 1864.2,1184.2 1863.8,1185.1 1863.3,1186.0 1862.8,1186.9 1862.3,1187.8 1861.8,1188.7 1861.3,1189.5 1860.8,1190.4 1860.3,1191.3 1859.8,1192.2 1859.4,1193.1 1859.0,1194.0 1858.6,1194.8 1858.2,1195.7 1857.7,1196.6 1857.2,1197.5 1856.8,1198.4 1856.3,1199.2 1855.8,1200.1 1855.3,1201.0 1854.9,1201.9 1854.4,1202.7 1853.9,1203.6 1853.4,1204.5 1853.0,1205.4 1852.5,1206.3 1852.0,1207.1 1851.4,1208.0 1850.9,1208.9 1850.4,1209.8 1849.9,1210.6 1849.4,1211.5 1848.9,1212.4 1848.4,1213.3 1848.0,1214.1 1847.5,1215.0 1847.1,1215.9 1846.6,1216.8 1846.1,1217.6 1845.6,1218.5 1845.1,1219.4 1844.6,1220.2 1844.1,1221.1 1843.6,1222.0 1843.1,1222.9 1842.7,1223.7 1842.2,1224.6 1841.7,1225.5 1841.2,1226.3 1840.7,1227.2 1840.3,1228.1 1839.8,1229.0 1839.3,1229.8 1838.8,1230.7 1838.3,1231.6 1837.7,1232.4 1837.2,1233.3 1836.6,1234.2 1836.1,1235.0 1835.6,1235.9 1835.1,1236.8 1834.6,1237.6 1834.1,1238.5 1833.6,1239.4 1833.0,1240.3 1832.5,1241.1 1832.1,1242.0 1831.6,1242.9 1831.2,1243.7 1830.7,1244.6 1830.2,1245.5 1829.6,1246.3 1829.1,1247.2 1828.5,1248.1 1828.0,1248.9 1827.6,1249.8 1827.1,1250.7 1826.7,1251.5 1826.2,1252.4 1825.7,1253.3 1825.2,1254.1 1824.7,1255.0 1824.2,1255.9 1823.7,1256.7 1823.2,1257.6 1822.6,1258.5 1822.2,1259.3 1821.7,1260.2 1821.2,1261.1 1820.7,1261.9 1820.2,1262.8 1819.6,1263.6 1819.1,1264.5 1818.5,1265.4 1818.0,1266.2 1817.5,1267.1 1817.0,1268.0 1816.5,1268.8 1816.0,1269.7 1815.6,1270.6 1815.2,1271.4 1814.8,1272.3 1814.3,1273.1 1813.7,1274.0 1813.1,1274.9 1812.6,1275.7 1812.0,1276.6 1811.5,1277.5 1811.0,1278.3 1810.4,1279.2 1810.0,1280.0 1809.5,1280.9 1809.0,1281.8 1808.6,1282.6 1808.1,1283.5 1807.6,1284.3 1807.1,1285.2 1806.6,1286.1 1806.1,1286.9 1805.5,1287.8 1804.9,1288.6 1804.3,1289.5 1803.9,1290.3 1803.4,1291.2 1802.9,1292.1 1802.5,1292.9 1801.9,1293.8 1801.3,1294.6 1800.7,1295.5 1800.2,1296.3 1799.6,1297.2 1799.1,1298.1 1798.6,1298.9 1798.1,1299.8 1797.6,1300.6 1797.1,1301.5 1796.7,1302.3 1796.2,1303.2 1795.7,1304.0 1795.2,1304.9 1794.6,1305.7 1794.1,1306.6 1793.6,1307.4 1793.1,1308.3 1792.5,1309.1 1792.0,1310.0 1775.6,1337.0"/>
</g>
<g stroke-width="11.5" stroke-linecap="round">
<line x1="318.4" y1="186.2" x2="431.1" y2="186.2" stroke="#00B050"/>
<line x1="318.4" y1="299.1" x2="431.1" y2="299.1" stroke="#FF0000"/>
<line x1="318.4" y1="411.6" x2="431.1" y2="411.6" stroke="#4A7EBB"/>
<line x1="318.4" y1="527.4" x2="431.1" y2="527.4" stroke="#000000"/>
<line x1="318.4" y1="639.9" x2="431.1" y2="639.9" stroke="#BE4B48"/>
</g>
<text y="203.2"><tspan x="442.9" textLength="285.3" lengthAdjust="spacingAndGlyphs">S1-WIP-C1</tspan> <tspan x="742.8" textLength="150.1" lengthAdjust="spacingAndGlyphs">52100</tspan> <tspan x="904.4" textLength="119.4" lengthAdjust="spacingAndGlyphs">steel</tspan> <tspan x="1037.3" textLength="171.9" lengthAdjust="spacingAndGlyphs">coated</tspan></text>
<text y="316.7"><tspan x="442.9" textLength="285.3" lengthAdjust="spacingAndGlyphs">S2-WIP-C1</tspan> <tspan x="742.8" textLength="150.1" lengthAdjust="spacingAndGlyphs">52100</tspan> <tspan x="904.4" textLength="119.4" lengthAdjust="spacingAndGlyphs">steel</tspan> <tspan x="1037.3" textLength="171.9" lengthAdjust="spacingAndGlyphs">coated</tspan></text>
<text y="430.2"><tspan x="442.9" textLength="285.3" lengthAdjust="spacingAndGlyphs">S3-WIP-C1</tspan> <tspan x="742.8" textLength="150.1" lengthAdjust="spacingAndGlyphs">52100</tspan> <tspan x="904.4" textLength="119.4" lengthAdjust="spacingAndGlyphs">steel</tspan> <tspan x="1037.3" textLength="171.9" lengthAdjust="spacingAndGlyphs">coated</tspan></text>
<text y="543.7"><tspan x="442.9" textLength="285.3" lengthAdjust="spacingAndGlyphs">S4-WIP-C1</tspan> <tspan x="742.8" textLength="150.1" lengthAdjust="spacingAndGlyphs">52100</tspan> <tspan x="904.4" textLength="119.4" lengthAdjust="spacingAndGlyphs">steel</tspan> <tspan x="1037.3" textLength="171.9" lengthAdjust="spacingAndGlyphs">coated</tspan></text>
<text y="656.8"><tspan x="442.6" textLength="151.1" lengthAdjust="spacingAndGlyphs">52100</tspan> <tspan x="605.5" textLength="119.1" lengthAdjust="spacingAndGlyphs">steel</tspan> <tspan x="737.7" textLength="242.0" lengthAdjust="spacingAndGlyphs">uncoated</tspan></text>
</g>
</svg></body></html>
